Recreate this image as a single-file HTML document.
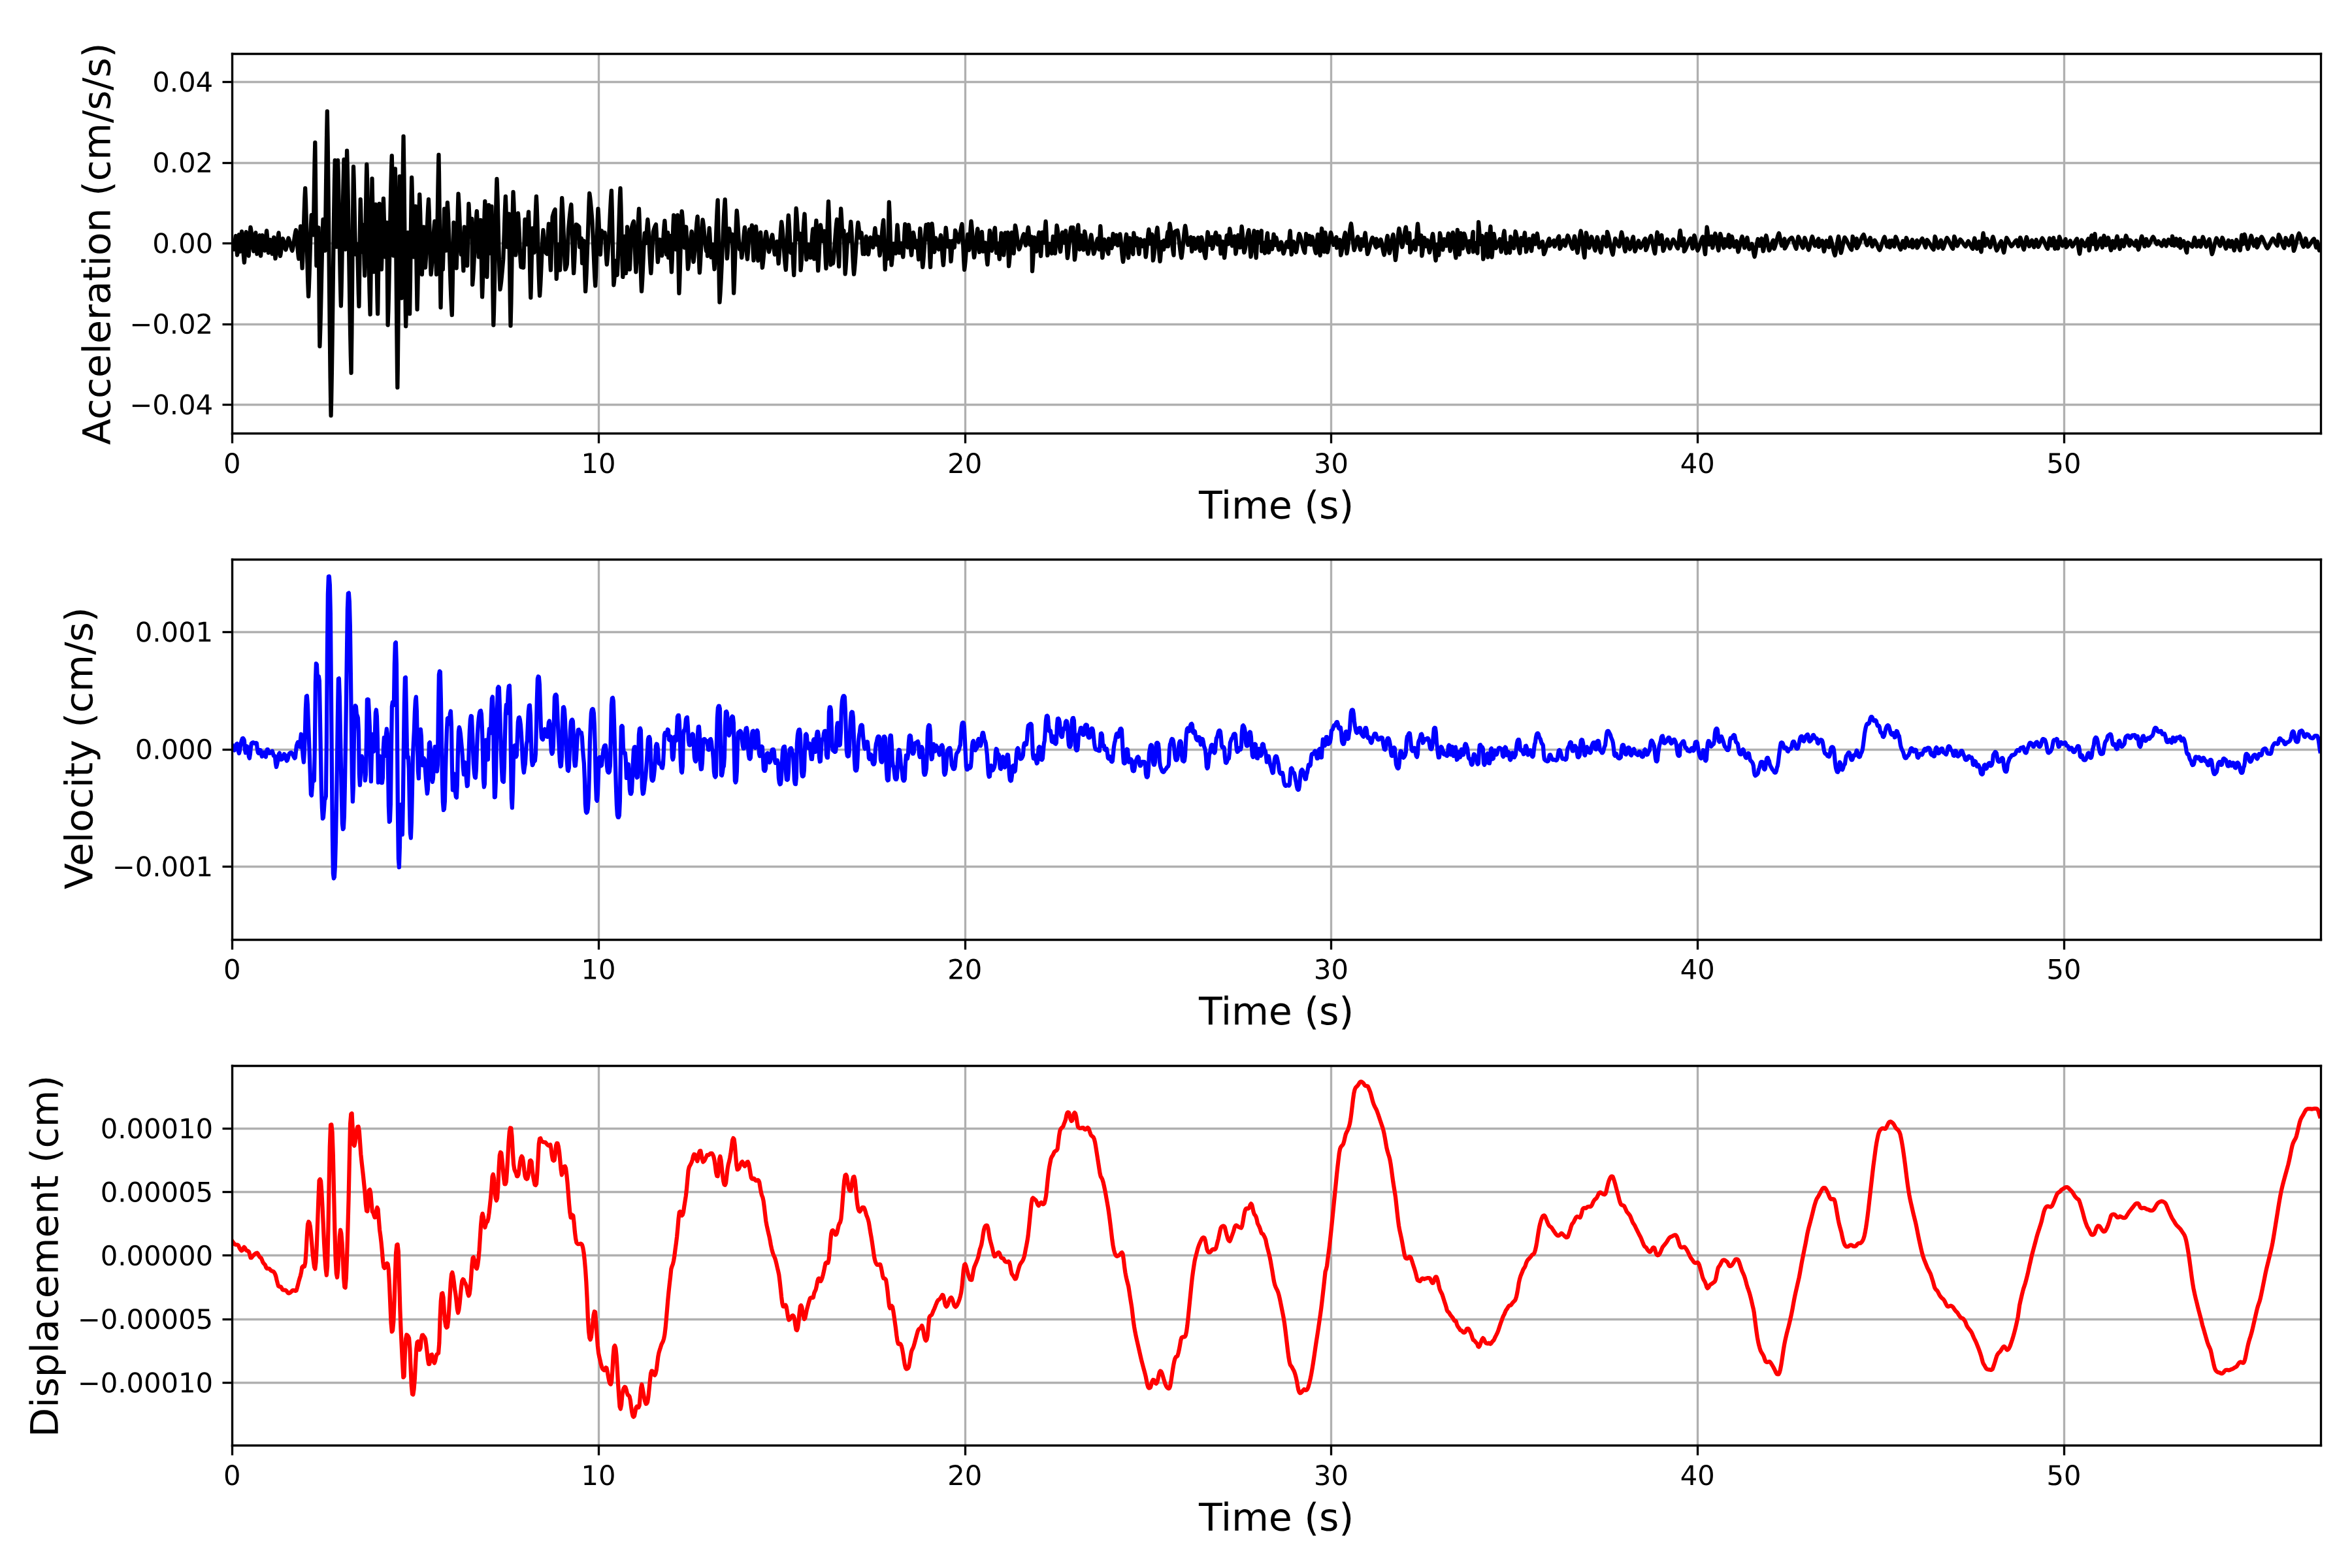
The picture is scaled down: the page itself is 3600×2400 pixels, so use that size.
<!DOCTYPE html>
<html lang="en"><head><meta charset="utf-8"><title>Ground motion time histories</title>
<style>html,body{margin:0;padding:0;background:#fff;}body{width:3600px;height:2400px;overflow:hidden;font-family:"Liberation Sans",sans-serif;}svg{display:block;}svg text.lbl{font-family:"Liberation Sans",sans-serif;fill:#000;fill-opacity:0;stroke:none;}</style></head>
<body>
<svg xmlns="http://www.w3.org/2000/svg" xmlns:xlink="http://www.w3.org/1999/xlink" width="3600" height="2400" viewBox="0 0 864 576" role="img" aria-label="Acceleration, velocity and displacement time histories">
 
 <defs>
  <style type="text/css">*{stroke-linejoin: round; stroke-linecap: butt}</style>
 </defs>
 <g id="figure_1">
  <g id="patch_1">
   <path d="M 0 576 
L 864 576 
L 864 0 
L 0 0 
z
" style="fill: #ffffff"/>
  </g>
  <g id="axes_1">
   <g id="patch_2">
    <path d="M 85.26 159.156 
L 852.48 159.156 
L 852.48 19.572 
L 85.26 19.572 
z
" style="fill: #ffffff"/>
   </g>
   <g id="matplotlib.axis_1">
    <g id="xtick_1">
     <g id="line2d_1">
      <path d="M 85.32000 159.24000 L 85.32000 19.80000" clip-path="url(#p0c01dea0d3)" style="fill: none; stroke: #b0b0b0; stroke-width: 0.8; stroke-linecap: square"/>
     </g>
     <g id="line2d_2">
      <defs>
       <path id="m1504cfccaf" d="M 0 0 
L 0 3.6" style="stroke: #000000; stroke-width: 0.8"/>
      </defs>
      <g>
       <use xlink:href="#m1504cfccaf" x="85.32000" y="159.24000" style="stroke: #000000; stroke-width: 0.8"/>
      </g>
     </g>
     <g id="text_1">
      <text class="lbl" transform="translate(82.0787 173.7544)" font-size="10" textLength="5.039" lengthAdjust="spacingAndGlyphs">0</text>
      <g aria-hidden="true" transform="translate(82.0787 173.7544) scale(0.1 -0.1)">
       <defs>
        <path id="DejaVuSans-30" d="M 2034 4250 
Q 1547 4250 1301 3770 
Q 1056 3291 1056 2328 
Q 1056 1369 1301 889 
Q 1547 409 2034 409 
Q 2525 409 2770 889 
Q 3016 1369 3016 2328 
Q 3016 3291 2770 3770 
Q 2525 4250 2034 4250 
z
M 2034 4750 
Q 2819 4750 3233 4129 
Q 3647 3509 3647 2328 
Q 3647 1150 3233 529 
Q 2819 -91 2034 -91 
Q 1250 -91 836 529 
Q 422 1150 422 2328 
Q 422 3509 836 4129 
Q 1250 4750 2034 4750 
z
" transform="scale(0.015625)"/>
       </defs>
       <use xlink:href="#DejaVuSans-30"/>
      </g>
     </g>
    </g>
    <g id="xtick_2">
     <g id="line2d_3">
      <path d="M 219.96000 159.24000 L 219.96000 19.80000" clip-path="url(#p0c01dea0d3)" style="fill: none; stroke: #b0b0b0; stroke-width: 0.8; stroke-linecap: square"/>
     </g>
     <g id="line2d_4">
      <g>
       <use xlink:href="#m1504cfccaf" x="219.96000" y="159.24000" style="stroke: #000000; stroke-width: 0.8"/>
      </g>
     </g>
     <g id="text_2">
      <text class="lbl" transform="translate(213.4739 173.7544)" font-size="10" textLength="10.962" lengthAdjust="spacingAndGlyphs">10</text>
      <g aria-hidden="true" transform="translate(213.4739 173.7544) scale(0.1 -0.1)">
       <defs>
        <path id="DejaVuSans-31" d="M 794 531 
L 1825 531 
L 1825 4091 
L 703 3866 
L 703 4441 
L 1819 4666 
L 2450 4666 
L 2450 531 
L 3481 531 
L 3481 0 
L 794 0 
L 794 531 
z
" transform="scale(0.015625)"/>
       </defs>
       <use xlink:href="#DejaVuSans-31"/>
       <use xlink:href="#DejaVuSans-30" transform="translate(63.623047 0)"/>
      </g>
     </g>
    </g>
    <g id="xtick_3">
     <g id="line2d_5">
      <path d="M 354.60000 159.24000 L 354.60000 19.80000" clip-path="url(#p0c01dea0d3)" style="fill: none; stroke: #b0b0b0; stroke-width: 0.8; stroke-linecap: square"/>
     </g>
     <g id="line2d_6">
      <g>
       <use xlink:href="#m1504cfccaf" x="354.60000" y="159.24000" style="stroke: #000000; stroke-width: 0.8"/>
      </g>
     </g>
     <g id="text_3">
      <text class="lbl" transform="translate(348.0503 173.7544)" font-size="10" textLength="11.328" lengthAdjust="spacingAndGlyphs">20</text>
      <g aria-hidden="true" transform="translate(348.0503 173.7544) scale(0.1 -0.1)">
       <defs>
        <path id="DejaVuSans-32" d="M 1228 531 
L 3431 531 
L 3431 0 
L 469 0 
L 469 531 
Q 828 903 1448 1529 
Q 2069 2156 2228 2338 
Q 2531 2678 2651 2914 
Q 2772 3150 2772 3378 
Q 2772 3750 2511 3984 
Q 2250 4219 1831 4219 
Q 1534 4219 1204 4116 
Q 875 4013 500 3803 
L 500 4441 
Q 881 4594 1212 4672 
Q 1544 4750 1819 4750 
Q 2544 4750 2975 4387 
Q 3406 4025 3406 3419 
Q 3406 3131 3298 2873 
Q 3191 2616 2906 2266 
Q 2828 2175 2409 1742 
Q 1991 1309 1228 531 
z
" transform="scale(0.015625)"/>
       </defs>
       <use xlink:href="#DejaVuSans-32"/>
       <use xlink:href="#DejaVuSans-30" transform="translate(63.623047 0)"/>
      </g>
     </g>
    </g>
    <g id="xtick_4">
     <g id="line2d_7">
      <path d="M 489.00000 159.24000 L 489.00000 19.80000" clip-path="url(#p0c01dea0d3)" style="fill: none; stroke: #b0b0b0; stroke-width: 0.8; stroke-linecap: square"/>
     </g>
     <g id="line2d_8">
      <g>
       <use xlink:href="#m1504cfccaf" x="489.00000" y="159.24000" style="stroke: #000000; stroke-width: 0.8"/>
      </g>
     </g>
     <g id="text_4">
      <text class="lbl" transform="translate(482.6267 173.7544)" font-size="10" textLength="11.298" lengthAdjust="spacingAndGlyphs">30</text>
      <g aria-hidden="true" transform="translate(482.6267 173.7544) scale(0.1 -0.1)">
       <defs>
        <path id="DejaVuSans-33" d="M 2597 2516 
Q 3050 2419 3304 2112 
Q 3559 1806 3559 1356 
Q 3559 666 3084 287 
Q 2609 -91 1734 -91 
Q 1441 -91 1130 -33 
Q 819 25 488 141 
L 488 750 
Q 750 597 1062 519 
Q 1375 441 1716 441 
Q 2309 441 2620 675 
Q 2931 909 2931 1356 
Q 2931 1769 2642 2001 
Q 2353 2234 1838 2234 
L 1294 2234 
L 1294 2753 
L 1863 2753 
Q 2328 2753 2575 2939 
Q 2822 3125 2822 3475 
Q 2822 3834 2567 4026 
Q 2313 4219 1838 4219 
Q 1578 4219 1281 4162 
Q 984 4106 628 3988 
L 628 4550 
Q 988 4650 1302 4700 
Q 1616 4750 1894 4750 
Q 2613 4750 3031 4423 
Q 3450 4097 3450 3541 
Q 3450 3153 3228 2886 
Q 3006 2619 2597 2516 
z
" transform="scale(0.015625)"/>
       </defs>
       <use xlink:href="#DejaVuSans-33"/>
       <use xlink:href="#DejaVuSans-30" transform="translate(63.623047 0)"/>
      </g>
     </g>
    </g>
    <g id="xtick_5">
     <g id="line2d_9">
      <path d="M 623.64000 159.24000 L 623.64000 19.80000" clip-path="url(#p0c01dea0d3)" style="fill: none; stroke: #b0b0b0; stroke-width: 0.8; stroke-linecap: square"/>
     </g>
     <g id="line2d_10">
      <g>
       <use xlink:href="#m1504cfccaf" x="623.64000" y="159.24000" style="stroke: #000000; stroke-width: 0.8"/>
      </g>
     </g>
     <g id="text_5">
      <text class="lbl" transform="translate(617.2031 173.7544)" font-size="10" textLength="11.572" lengthAdjust="spacingAndGlyphs">40</text>
      <g aria-hidden="true" transform="translate(617.2031 173.7544) scale(0.1 -0.1)">
       <defs>
        <path id="DejaVuSans-34" d="M 2419 4116 
L 825 1625 
L 2419 1625 
L 2419 4116 
z
M 2253 4666 
L 3047 4666 
L 3047 1625 
L 3713 1625 
L 3713 1100 
L 3047 1100 
L 3047 0 
L 2419 0 
L 2419 1100 
L 313 1100 
L 313 1709 
L 2253 4666 
z
" transform="scale(0.015625)"/>
       </defs>
       <use xlink:href="#DejaVuSans-34"/>
       <use xlink:href="#DejaVuSans-30" transform="translate(63.623047 0)"/>
      </g>
     </g>
    </g>
    <g id="xtick_6">
     <g id="line2d_11">
      <path d="M 758.28000 159.24000 L 758.28000 19.80000" clip-path="url(#p0c01dea0d3)" style="fill: none; stroke: #b0b0b0; stroke-width: 0.8; stroke-linecap: square"/>
     </g>
     <g id="line2d_12">
      <g>
       <use xlink:href="#m1504cfccaf" x="758.28000" y="159.24000" style="stroke: #000000; stroke-width: 0.8"/>
      </g>
     </g>
     <g id="text_6">
      <text class="lbl" transform="translate(751.7795 173.7544)" font-size="10" textLength="11.289" lengthAdjust="spacingAndGlyphs">50</text>
      <g aria-hidden="true" transform="translate(751.7795 173.7544) scale(0.1 -0.1)">
       <defs>
        <path id="DejaVuSans-35" d="M 691 4666 
L 3169 4666 
L 3169 4134 
L 1269 4134 
L 1269 2991 
Q 1406 3038 1543 3061 
Q 1681 3084 1819 3084 
Q 2600 3084 3056 2656 
Q 3513 2228 3513 1497 
Q 3513 744 3044 326 
Q 2575 -91 1722 -91 
Q 1428 -91 1123 -41 
Q 819 9 494 109 
L 494 744 
Q 775 591 1075 516 
Q 1375 441 1709 441 
Q 2250 441 2565 725 
Q 2881 1009 2881 1497 
Q 2881 1984 2565 2268 
Q 2250 2553 1709 2553 
Q 1456 2553 1204 2497 
Q 953 2441 691 2322 
L 691 4666 
z
" transform="scale(0.015625)"/>
       </defs>
       <use xlink:href="#DejaVuSans-35"/>
       <use xlink:href="#DejaVuSans-30" transform="translate(63.623047 0)"/>
      </g>
     </g>
    </g>
    <g id="text_7">
     <text class="lbl" transform="translate(440.4095 190.4719)" font-size="14" textLength="55.762" lengthAdjust="spacingAndGlyphs">Time (s)</text>
     <g aria-hidden="true" transform="translate(440.4095 190.4719) scale(0.14 -0.14)">
      <defs>
       <path id="DejaVuSans-54" d="M -19 4666 
L 3928 4666 
L 3928 4134 
L 2272 4134 
L 2272 0 
L 1638 0 
L 1638 4134 
L -19 4134 
L -19 4666 
z
" transform="scale(0.015625)"/>
       <path id="DejaVuSans-69" d="M 603 3500 
L 1178 3500 
L 1178 0 
L 603 0 
L 603 3500 
z
M 603 4863 
L 1178 4863 
L 1178 4134 
L 603 4134 
L 603 4863 
z
" transform="scale(0.015625)"/>
       <path id="DejaVuSans-6d" d="M 3328 2828 
Q 3544 3216 3844 3400 
Q 4144 3584 4550 3584 
Q 5097 3584 5394 3201 
Q 5691 2819 5691 2113 
L 5691 0 
L 5113 0 
L 5113 2094 
Q 5113 2597 4934 2840 
Q 4756 3084 4391 3084 
Q 3944 3084 3684 2787 
Q 3425 2491 3425 1978 
L 3425 0 
L 2847 0 
L 2847 2094 
Q 2847 2600 2669 2842 
Q 2491 3084 2119 3084 
Q 1678 3084 1418 2786 
Q 1159 2488 1159 1978 
L 1159 0 
L 581 0 
L 581 3500 
L 1159 3500 
L 1159 2956 
Q 1356 3278 1631 3431 
Q 1906 3584 2284 3584 
Q 2666 3584 2933 3390 
Q 3200 3197 3328 2828 
z
" transform="scale(0.015625)"/>
       <path id="DejaVuSans-65" d="M 3597 1894 
L 3597 1613 
L 953 1613 
Q 991 1019 1311 708 
Q 1631 397 2203 397 
Q 2534 397 2845 478 
Q 3156 559 3463 722 
L 3463 178 
Q 3153 47 2828 -22 
Q 2503 -91 2169 -91 
Q 1331 -91 842 396 
Q 353 884 353 1716 
Q 353 2575 817 3079 
Q 1281 3584 2069 3584 
Q 2775 3584 3186 3129 
Q 3597 2675 3597 1894 
z
M 3022 2063 
Q 3016 2534 2758 2815 
Q 2500 3097 2075 3097 
Q 1594 3097 1305 2825 
Q 1016 2553 972 2059 
L 3022 2063 
z
" transform="scale(0.015625)"/>
       <path id="DejaVuSans-20" transform="scale(0.015625)"/>
       <path id="DejaVuSans-28" d="M 1984 4856 
Q 1566 4138 1362 3434 
Q 1159 2731 1159 2009 
Q 1159 1288 1364 580 
Q 1569 -128 1984 -844 
L 1484 -844 
Q 1016 -109 783 600 
Q 550 1309 550 2009 
Q 550 2706 781 3412 
Q 1013 4119 1484 4856 
L 1984 4856 
z
" transform="scale(0.015625)"/>
       <path id="DejaVuSans-73" d="M 2834 3397 
L 2834 2853 
Q 2591 2978 2328 3040 
Q 2066 3103 1784 3103 
Q 1356 3103 1142 2972 
Q 928 2841 928 2578 
Q 928 2378 1081 2264 
Q 1234 2150 1697 2047 
L 1894 2003 
Q 2506 1872 2764 1633 
Q 3022 1394 3022 966 
Q 3022 478 2636 193 
Q 2250 -91 1575 -91 
Q 1294 -91 989 -36 
Q 684 19 347 128 
L 347 722 
Q 666 556 975 473 
Q 1284 391 1588 391 
Q 1994 391 2212 530 
Q 2431 669 2431 922 
Q 2431 1156 2273 1281 
Q 2116 1406 1581 1522 
L 1381 1569 
Q 847 1681 609 1914 
Q 372 2147 372 2553 
Q 372 3047 722 3315 
Q 1072 3584 1716 3584 
Q 2034 3584 2315 3537 
Q 2597 3491 2834 3397 
z
" transform="scale(0.015625)"/>
       <path id="DejaVuSans-29" d="M 513 4856 
L 1013 4856 
Q 1481 4119 1714 3412 
Q 1947 2706 1947 2009 
Q 1947 1309 1714 600 
Q 1481 -109 1013 -844 
L 513 -844 
Q 928 -128 1133 580 
Q 1338 1288 1338 2009 
Q 1338 2731 1133 3434 
Q 928 4138 513 4856 
z
" transform="scale(0.015625)"/>
      </defs>
      <use xlink:href="#DejaVuSans-54"/>
      <use xlink:href="#DejaVuSans-69" transform="translate(57.958984 0)"/>
      <use xlink:href="#DejaVuSans-6d" transform="translate(85.742188 0)"/>
      <use xlink:href="#DejaVuSans-65" transform="translate(183.154297 0)"/>
      <use xlink:href="#DejaVuSans-20" transform="translate(244.677734 0)"/>
      <use xlink:href="#DejaVuSans-28" transform="translate(276.464844 0)"/>
      <use xlink:href="#DejaVuSans-73" transform="translate(315.478516 0)"/>
      <use xlink:href="#DejaVuSans-29" transform="translate(367.578125 0)"/>
     </g>
    </g>
   </g>
   <g id="matplotlib.axis_2">
    <g id="ytick_1">
     <g id="line2d_13">
      <path d="M 85.32000 148.68000 L 852.60000 148.68000" clip-path="url(#p0c01dea0d3)" style="fill: none; stroke: #b0b0b0; stroke-width: 0.8; stroke-linecap: square"/>
     </g>
     <g id="line2d_14">
      <defs>
       <path id="m5d545ce8f8" d="M 0 0 
L -3.6 0" style="stroke: #000000; stroke-width: 0.8"/>
      </defs>
      <g>
       <use xlink:href="#m5d545ce8f8" x="85.32000" y="148.68000" style="stroke: #000000; stroke-width: 0.8"/>
      </g>
     </g>
     <g id="text_8">
      <text class="lbl" transform="translate(47.6147 152.2032)" font-size="10" textLength="29.024" lengthAdjust="spacingAndGlyphs">−0.04</text>
      <g aria-hidden="true" transform="translate(47.6147 152.2032) scale(0.1 -0.1)">
       <defs>
        <path id="DejaVuSans-2212" d="M 678 2272 
L 4684 2272 
L 4684 1741 
L 678 1741 
L 678 2272 
z
" transform="scale(0.015625)"/>
        <path id="DejaVuSans-2e" d="M 684 794 
L 1344 794 
L 1344 0 
L 684 0 
L 684 794 
z
" transform="scale(0.015625)"/>
       </defs>
       <use xlink:href="#DejaVuSans-2212"/>
       <use xlink:href="#DejaVuSans-30" transform="translate(83.789062 0)"/>
       <use xlink:href="#DejaVuSans-2e" transform="translate(147.412109 0)"/>
       <use xlink:href="#DejaVuSans-30" transform="translate(179.199219 0)"/>
       <use xlink:href="#DejaVuSans-34" transform="translate(242.822266 0)"/>
      </g>
     </g>
    </g>
    <g id="ytick_2">
     <g id="line2d_15">
      <path d="M 85.32000 119.16000 L 852.60000 119.16000" clip-path="url(#p0c01dea0d3)" style="fill: none; stroke: #b0b0b0; stroke-width: 0.8; stroke-linecap: square"/>
     </g>
     <g id="line2d_16">
      <g>
       <use xlink:href="#m5d545ce8f8" x="85.32000" y="119.16000" style="stroke: #000000; stroke-width: 0.8"/>
      </g>
     </g>
     <g id="text_9">
      <text class="lbl" transform="translate(47.6147 122.5632)" font-size="10" textLength="28.584" lengthAdjust="spacingAndGlyphs">−0.02</text>
      <g aria-hidden="true" transform="translate(47.6147 122.5632) scale(0.1 -0.1)">
       <use xlink:href="#DejaVuSans-2212"/>
       <use xlink:href="#DejaVuSans-30" transform="translate(83.789062 0)"/>
       <use xlink:href="#DejaVuSans-2e" transform="translate(147.412109 0)"/>
       <use xlink:href="#DejaVuSans-30" transform="translate(179.199219 0)"/>
       <use xlink:href="#DejaVuSans-32" transform="translate(242.822266 0)"/>
      </g>
     </g>
    </g>
    <g id="ytick_3">
     <g id="line2d_17">
      <path d="M 85.32000 89.40000 L 852.60000 89.40000" clip-path="url(#p0c01dea0d3)" style="fill: none; stroke: #b0b0b0; stroke-width: 0.8; stroke-linecap: square"/>
     </g>
     <g id="line2d_18">
      <g>
       <use xlink:href="#m5d545ce8f8" x="85.32000" y="89.40000" style="stroke: #000000; stroke-width: 0.8"/>
      </g>
     </g>
     <g id="text_10">
      <text class="lbl" transform="translate(55.9944 92.9232)" font-size="10" textLength="20.942" lengthAdjust="spacingAndGlyphs">0.00</text>
      <g aria-hidden="true" transform="translate(55.9944 92.9232) scale(0.1 -0.1)">
       <use xlink:href="#DejaVuSans-30"/>
       <use xlink:href="#DejaVuSans-2e" transform="translate(63.623047 0)"/>
       <use xlink:href="#DejaVuSans-30" transform="translate(95.410156 0)"/>
       <use xlink:href="#DejaVuSans-30" transform="translate(159.033203 0)"/>
      </g>
     </g>
    </g>
    <g id="ytick_4">
     <g id="line2d_19">
      <path d="M 85.32000 59.88000 L 852.60000 59.88000" clip-path="url(#p0c01dea0d3)" style="fill: none; stroke: #b0b0b0; stroke-width: 0.8; stroke-linecap: square"/>
     </g>
     <g id="line2d_20">
      <g>
       <use xlink:href="#m5d545ce8f8" x="85.32000" y="59.88000" style="stroke: #000000; stroke-width: 0.8"/>
      </g>
     </g>
     <g id="text_11">
      <text class="lbl" transform="translate(55.9944 63.2832)" font-size="10" textLength="20.605" lengthAdjust="spacingAndGlyphs">0.02</text>
      <g aria-hidden="true" transform="translate(55.9944 63.2832) scale(0.1 -0.1)">
       <use xlink:href="#DejaVuSans-30"/>
       <use xlink:href="#DejaVuSans-2e" transform="translate(63.623047 0)"/>
       <use xlink:href="#DejaVuSans-30" transform="translate(95.410156 0)"/>
       <use xlink:href="#DejaVuSans-32" transform="translate(159.033203 0)"/>
      </g>
     </g>
    </g>
    <g id="ytick_5">
     <g id="line2d_21">
      <path d="M 85.32000 30.12000 L 852.60000 30.12000" clip-path="url(#p0c01dea0d3)" style="fill: none; stroke: #b0b0b0; stroke-width: 0.8; stroke-linecap: square"/>
     </g>
     <g id="line2d_22">
      <g>
       <use xlink:href="#m5d545ce8f8" x="85.32000" y="30.12000" style="stroke: #000000; stroke-width: 0.8"/>
      </g>
     </g>
     <g id="text_12">
      <text class="lbl" transform="translate(55.9944 33.6432)" font-size="10" textLength="21.046" lengthAdjust="spacingAndGlyphs">0.04</text>
      <g aria-hidden="true" transform="translate(55.9944 33.6432) scale(0.1 -0.1)">
       <use xlink:href="#DejaVuSans-30"/>
       <use xlink:href="#DejaVuSans-2e" transform="translate(63.623047 0)"/>
       <use xlink:href="#DejaVuSans-30" transform="translate(95.410156 0)"/>
       <use xlink:href="#DejaVuSans-34" transform="translate(159.033203 0)"/>
      </g>
     </g>
    </g>
    <g id="text_13">
     <text class="lbl" transform="translate(40.4631 163.4420) rotate(-90)" font-size="14" textLength="146.413" lengthAdjust="spacingAndGlyphs">Acceleration (cm/s/s)</text>
     <g aria-hidden="true" transform="translate(40.4631 163.4420) rotate(-90) scale(0.14 -0.14)">
      <defs>
       <path id="DejaVuSans-41" d="M 2188 4044 
L 1331 1722 
L 3047 1722 
L 2188 4044 
z
M 1831 4666 
L 2547 4666 
L 4325 0 
L 3669 0 
L 3244 1197 
L 1141 1197 
L 716 0 
L 50 0 
L 1831 4666 
z
" transform="scale(0.015625)"/>
       <path id="DejaVuSans-63" d="M 3122 3366 
L 3122 2828 
Q 2878 2963 2633 3030 
Q 2388 3097 2138 3097 
Q 1578 3097 1268 2742 
Q 959 2388 959 1747 
Q 959 1106 1268 751 
Q 1578 397 2138 397 
Q 2388 397 2633 464 
Q 2878 531 3122 666 
L 3122 134 
Q 2881 22 2623 -34 
Q 2366 -91 2075 -91 
Q 1284 -91 818 406 
Q 353 903 353 1747 
Q 353 2603 823 3093 
Q 1294 3584 2113 3584 
Q 2378 3584 2631 3529 
Q 2884 3475 3122 3366 
z
" transform="scale(0.015625)"/>
       <path id="DejaVuSans-6c" d="M 603 4863 
L 1178 4863 
L 1178 0 
L 603 0 
L 603 4863 
z
" transform="scale(0.015625)"/>
       <path id="DejaVuSans-72" d="M 2631 2963 
Q 2534 3019 2420 3045 
Q 2306 3072 2169 3072 
Q 1681 3072 1420 2755 
Q 1159 2438 1159 1844 
L 1159 0 
L 581 0 
L 581 3500 
L 1159 3500 
L 1159 2956 
Q 1341 3275 1631 3429 
Q 1922 3584 2338 3584 
Q 2397 3584 2469 3576 
Q 2541 3569 2628 3553 
L 2631 2963 
z
" transform="scale(0.015625)"/>
       <path id="DejaVuSans-61" d="M 2194 1759 
Q 1497 1759 1228 1600 
Q 959 1441 959 1056 
Q 959 750 1161 570 
Q 1363 391 1709 391 
Q 2188 391 2477 730 
Q 2766 1069 2766 1631 
L 2766 1759 
L 2194 1759 
z
M 3341 1997 
L 3341 0 
L 2766 0 
L 2766 531 
Q 2569 213 2275 61 
Q 1981 -91 1556 -91 
Q 1019 -91 701 211 
Q 384 513 384 1019 
Q 384 1609 779 1909 
Q 1175 2209 1959 2209 
L 2766 2209 
L 2766 2266 
Q 2766 2663 2505 2880 
Q 2244 3097 1772 3097 
Q 1472 3097 1187 3025 
Q 903 2953 641 2809 
L 641 3341 
Q 956 3463 1253 3523 
Q 1550 3584 1831 3584 
Q 2591 3584 2966 3190 
Q 3341 2797 3341 1997 
z
" transform="scale(0.015625)"/>
       <path id="DejaVuSans-74" d="M 1172 4494 
L 1172 3500 
L 2356 3500 
L 2356 3053 
L 1172 3053 
L 1172 1153 
Q 1172 725 1289 603 
Q 1406 481 1766 481 
L 2356 481 
L 2356 0 
L 1766 0 
Q 1100 0 847 248 
Q 594 497 594 1153 
L 594 3053 
L 172 3053 
L 172 3500 
L 594 3500 
L 594 4494 
L 1172 4494 
z
" transform="scale(0.015625)"/>
       <path id="DejaVuSans-6f" d="M 1959 3097 
Q 1497 3097 1228 2736 
Q 959 2375 959 1747 
Q 959 1119 1226 758 
Q 1494 397 1959 397 
Q 2419 397 2687 759 
Q 2956 1122 2956 1747 
Q 2956 2369 2687 2733 
Q 2419 3097 1959 3097 
z
M 1959 3584 
Q 2709 3584 3137 3096 
Q 3566 2609 3566 1747 
Q 3566 888 3137 398 
Q 2709 -91 1959 -91 
Q 1206 -91 779 398 
Q 353 888 353 1747 
Q 353 2609 779 3096 
Q 1206 3584 1959 3584 
z
" transform="scale(0.015625)"/>
       <path id="DejaVuSans-6e" d="M 3513 2113 
L 3513 0 
L 2938 0 
L 2938 2094 
Q 2938 2591 2744 2837 
Q 2550 3084 2163 3084 
Q 1697 3084 1428 2787 
Q 1159 2491 1159 1978 
L 1159 0 
L 581 0 
L 581 3500 
L 1159 3500 
L 1159 2956 
Q 1366 3272 1645 3428 
Q 1925 3584 2291 3584 
Q 2894 3584 3203 3211 
Q 3513 2838 3513 2113 
z
" transform="scale(0.015625)"/>
       <path id="DejaVuSans-2f" d="M 1625 4666 
L 2156 4666 
L 531 -594 
L 0 -594 
L 1625 4666 
z
" transform="scale(0.015625)"/>
      </defs>
      <use xlink:href="#DejaVuSans-41"/>
      <use xlink:href="#DejaVuSans-63" transform="translate(66.658203 0)"/>
      <use xlink:href="#DejaVuSans-63" transform="translate(121.638672 0)"/>
      <use xlink:href="#DejaVuSans-65" transform="translate(176.619141 0)"/>
      <use xlink:href="#DejaVuSans-6c" transform="translate(238.142578 0)"/>
      <use xlink:href="#DejaVuSans-65" transform="translate(265.925781 0)"/>
      <use xlink:href="#DejaVuSans-72" transform="translate(327.449219 0)"/>
      <use xlink:href="#DejaVuSans-61" transform="translate(368.5625 0)"/>
      <use xlink:href="#DejaVuSans-74" transform="translate(429.841797 0)"/>
      <use xlink:href="#DejaVuSans-69" transform="translate(469.050781 0)"/>
      <use xlink:href="#DejaVuSans-6f" transform="translate(496.833984 0)"/>
      <use xlink:href="#DejaVuSans-6e" transform="translate(558.015625 0)"/>
      <use xlink:href="#DejaVuSans-20" transform="translate(621.394531 0)"/>
      <use xlink:href="#DejaVuSans-28" transform="translate(653.181641 0)"/>
      <use xlink:href="#DejaVuSans-63" transform="translate(692.195312 0)"/>
      <use xlink:href="#DejaVuSans-6d" transform="translate(747.175781 0)"/>
      <use xlink:href="#DejaVuSans-2f" transform="translate(844.587891 0)"/>
      <use xlink:href="#DejaVuSans-73" transform="translate(878.279297 0)"/>
      <use xlink:href="#DejaVuSans-2f" transform="translate(930.378906 0)"/>
      <use xlink:href="#DejaVuSans-73" transform="translate(964.070312 0)"/>
      <use xlink:href="#DejaVuSans-29" transform="translate(1016.169922 0)"/>
     </g>
    </g>
   </g>
   <g id="line2d_23">
    <path d="M 85.44 89.28 
L 85.632 90.421047 
L 85.824 91.177525 
L 85.989796 91.606531 
L 86.016 91.487903 
L 86.208 90.012329 
L 86.4 88.119138 
L 86.592 86.72034 
L 86.602041 86.677959 
L 86.784 88.802266 
L 86.976 91.852801 
L 87.137755 93.672857 
L 87.168 93.48827 
L 87.36 91.556569 
L 87.552 89.008581 
L 87.744 86.813066 
L 87.826531 86.218776 
L 87.936 88.242692 
L 88.128 92.398885 
L 88.132653 92.448367 
L 88.32 90.774753 
L 88.512 88.292492 
L 88.704 85.984811 
L 88.821429 85.070816 
L 88.896 85.63816 
L 89.088 87.876702 
L 89.28 90.739923 
L 89.472 93.605131 
L 89.664 95.84963 
L 89.739796 96.427959 
L 89.856 95.058276 
L 90.048 91.560029 
L 90.24 87.787366 
L 90.428571 85.223878 
L 90.432 85.240403 
L 90.624 86.66575 
L 90.816 88.750523 
L 91.008 91.014695 
L 91.2 92.978236 
L 91.346939 93.97898 
L 91.392 93.570447 
L 91.584 90.72969 
L 91.776 87.12501 
L 91.968 84.123015 
L 92.035714 83.463673 
L 92.16 84.085833 
L 92.352 85.501236 
L 92.544 87.249389 
L 92.736 89.08237 
L 92.928 90.752257 
L 93.12 92.011126 
L 93.183673 92.295306 
L 93.312 91.421144 
L 93.504 89.419941 
L 93.696 87.239309 
L 93.888 85.611918 
L 93.918367 85.453469 
L 94.08 87.745032 
L 94.272 91.460789 
L 94.408163 93.290204 
L 94.464 93.067095 
L 94.656 91.906938 
L 94.848 90.363201 
L 95.04 88.73093 
L 95.232 87.305174 
L 95.403061 86.448367 
L 95.424 86.686994 
L 95.616 90.743978 
L 95.785714 93.97898 
L 95.808 93.818549 
L 96 91.435106 
L 96.192 88.403816 
L 96.367347 86.448367 
L 96.384 86.505009 
L 96.576 87.525183 
L 96.768 88.971134 
L 96.96 90.483638 
L 97.152 91.70347 
L 97.239796 92.065714 
L 97.344 91.32934 
L 97.536 89.215628 
L 97.728 86.826522 
L 97.92 84.994841 
L 97.959184 84.764694 
L 98.112 86.252458 
L 98.304 89.038799 
L 98.496 91.726674 
L 98.617347 92.83102 
L 98.688 92.516881 
L 98.88 91.149061 
L 99.072 89.517879 
L 99.264 88.241989 
L 99.306122 88.070816 
L 99.456 88.955614 
L 99.648 90.656733 
L 99.84 92.366721 
L 99.994898 93.290204 
L 100.032 93.073965 
L 100.224 91.195376 
L 100.416 88.865721 
L 100.607143 87.213673 
L 100.608 87.219911 
L 100.8 89.757034 
L 100.992 93.13147 
L 101.142857 94.973878 
L 101.184 94.799586 
L 101.376 93.626464 
L 101.568 92.022028 
L 101.76 90.20472 
L 101.952 88.392985 
L 102.144 86.805266 
L 102.336 85.660007 
L 102.367347 85.53 
L 102.528 87.503408 
L 102.72 90.915505 
L 102.912 93.734986 
L 102.94898 94.05551 
L 103.104 93.306534 
L 103.296 91.920383 
L 103.488 90.323665 
L 103.68 88.833545 
L 103.872 87.767189 
L 103.897959 87.672857 
L 104.064 88.121532 
L 104.256 88.887739 
L 104.448 89.784522 
L 104.64 90.670775 
L 104.832 91.405396 
L 104.969388 91.759592 
L 105.024 91.624242 
L 105.216 90.90509 
L 105.408 89.946064 
L 105.6 88.929668 
L 105.792 88.038405 
L 105.967324 87.488655 
L 105.984 87.517495 
L 106.176 87.97931 
L 106.368 88.627951 
L 106.56 89.388695 
L 106.752 90.186822 
L 106.944 90.947609 
L 107.136 91.596335 
L 107.328 92.058279 
L 107.344787 92.087316 
L 107.52 91.436592 
L 107.712 90.411815 
L 107.904 89.180704 
L 108.096 87.866476 
L 108.288 86.592345 
L 108.48 85.481527 
L 108.672 84.657238 
L 108.72225 84.504152 
L 108.864 85.52856 
L 109.056 87.599193 
L 109.248 90.058331 
L 109.44 92.470572 
L 109.632 94.400514 
L 109.73239 95.071819 
L 109.824 93.98849 
L 110.016 90.408204 
L 110.208 86.336582 
L 110.4 83.326353 
L 110.421121 83.126688 
L 110.592 86.860139 
L 110.784 92.878033 
L 110.976 97.864757 
L 111.018022 98.515477 
L 111.168 95.772705 
L 111.36 90.587021 
L 111.552 84.38591 
L 111.744 78.102173 
L 111.936 72.668611 
L 112.119992 69.122479 
L 112.128 69.258376 
L 112.32 73.935844 
L 112.512 80.66298 
L 112.704 88.448242 
L 112.896 96.300087 
L 113.088 103.226973 
L 113.28 108.237357 
L 113.313794 108.846451 
L 113.472 105.868958 
L 113.664 100.538643 
L 113.856 94.217638 
L 114.048 87.853314 
L 114.24 82.393046 
L 114.415764 78.994299 
L 114.432 79.08998 
L 114.624 80.9893 
L 114.816 83.572533 
L 115.008 85.786249 
L 115.081538 86.314634 
L 115.2 81.873076 
L 115.392 70.767158 
L 115.584 59.090598 
L 115.747312 52.363344 
L 115.776 53.858598 
L 115.968 71.426349 
L 116.16 91.467135 
L 116.252382 97.597169 
L 116.352 96.295689 
L 116.544 92.381007 
L 116.736 87.874595 
L 116.928 84.277168 
L 116.987029 83.585843 
L 117.12 94.331731 
L 117.312 116.337874 
L 117.446183 127.212627 
L 117.504 125.978378 
L 117.696 120.058589 
L 117.888 112.136506 
L 118.08 103.251039 
L 118.272 94.4411 
L 118.464 86.745601 
L 118.656 81.203454 
L 118.6859 80.601339 
L 118.848 82.757646 
L 119.04 86.547214 
L 119.232 90.261087 
L 119.374632 92.087316 
L 119.424 90.294928 
L 119.616 79.335317 
L 119.808 64.927798 
L 120 50.924095 
L 120.192 41.175931 
L 120.20111 40.884484 
L 120.384 51.002189 
L 120.576 66.268695 
L 120.768 84.504877 
L 120.96 103.893963 
L 121.152 122.619182 
L 121.344 138.863763 
L 121.536 150.810934 
L 121.578573 152.695695 
L 121.728 146.568579 
L 121.92 135.374473 
L 122.112 121.608058 
L 122.304 106.525333 
L 122.496 91.382296 
L 122.688 77.434943 
L 122.88 65.939272 
L 123.047867 58.883337 
L 123.072 59.669249 
L 123.264 70.55042 
L 123.456 83.929709 
L 123.598852 90.709853 
L 123.648 88.738623 
L 123.84 75.693159 
L 124.032 62.025539 
L 124.103922 58.883337 
L 124.224 62.498427 
L 124.416 71.012129 
L 124.608 81.574527 
L 124.8 92.683511 
L 124.992 102.836974 
L 125.184 110.532808 
L 125.251808 112.38194 
L 125.376 108.400847 
L 125.568 99.285414 
L 125.76 88.081295 
L 125.952 76.496495 
L 126.144 66.239017 
L 126.336 59.016863 
L 126.353778 58.561928 
L 126.528 68.809472 
L 126.72 84.021579 
L 126.858848 91.628161 
L 126.912 89.606955 
L 127.104 77.511616 
L 127.296 63.405174 
L 127.455749 55.347848 
L 127.488 56.242738 
L 127.68 63.496907 
L 127.872 73.391582 
L 128.064 85.015444 
L 128.256 97.457173 
L 128.448 109.805453 
L 128.64 121.148962 
L 128.832 130.576384 
L 129.016874 136.992615 
L 129.024 136.657572 
L 129.216 122.32749 
L 129.408 101.641373 
L 129.6 80.298826 
L 129.792 63.999453 
L 129.843352 61.225024 
L 129.984 65.511154 
L 130.176 74.382339 
L 130.368 84.117684 
L 130.56 91.838307 
L 130.623914 93.464779 
L 130.752 92.861294 
L 130.944 91.48362 
L 131.136 90.14185 
L 131.243773 89.658351 
L 131.328 91.78737 
L 131.52 99.538969 
L 131.712 108.006105 
L 131.863631 112.519686 
L 131.904 110.780567 
L 132.096 96.709861 
L 132.288 80.400154 
L 132.414616 73.254869 
L 132.48 74.774757 
L 132.672 82.108791 
L 132.864 89.904778 
L 132.965602 92.54647 
L 133.056 91.074991 
L 133.248 86.201451 
L 133.424756 82.667534 
L 133.44 82.945839 
L 133.632 89.123979 
L 133.824 96.980954 
L 133.975741 101.270404 
L 134.016 99.973131 
L 134.208 89.973349 
L 134.4 76.894039 
L 134.592 65.112871 
L 134.710388 60.398546 
L 134.784 62.236784 
L 134.976 69.133172 
L 135.168 78.193156 
L 135.36 88.315451 
L 135.552 98.398767 
L 135.744 107.341817 
L 135.936 114.043315 
L 135.996021 115.50419 
L 136.128 108.32321 
L 136.32 92.391232 
L 136.512 75.770291 
L 136.684752 65.586991 
L 136.704 66.192466 
L 136.896 76.582139 
L 137.088 90.083144 
L 137.28 99.845046 
L 137.281653 99.892941 
L 137.472 94.147684 
L 137.664 85.786726 
L 137.856 78.063518 
L 137.970385 75.091487 
L 138.048 77.645749 
L 138.24 87.566699 
L 138.432 99.742711 
L 138.624 110.585593 
L 138.750947 115.274613 
L 138.816 112.404733 
L 139.008 98.55825 
L 139.2 82.971813 
L 139.347848 74.861909 
L 139.392 75.655235 
L 139.584 81.152325 
L 139.776 88.377882 
L 139.968 95.178737 
L 140.12841 98.974632 
L 140.16 98.344592 
L 140.352 92.127711 
L 140.544 83.8228 
L 140.736 76.219058 
L 140.863057 72.933461 
L 140.928 74.453558 
L 141.12 81.801019 
L 141.312 90.074445 
L 141.459958 94.383088 
L 141.504 93.865392 
L 141.696 90.133789 
L 141.888 85.504107 
L 142.08 81.99625 
L 142.102774 81.749225 
L 142.272 98.730461 
L 142.464 119.079049 
L 142.470098 119.407002 
L 142.656 114.102538 
L 142.848 106.289651 
L 143.04 96.9289 
L 143.232 86.853346 
L 143.424 76.896049 
L 143.616 67.89007 
L 143.808 60.668469 
L 143.939392 57.184465 
L 144 59.579418 
L 144.192 72.043853 
L 144.384 86.259923 
L 144.536292 93.923933 
L 144.576 92.762949 
L 144.768 83.445503 
L 144.96 71.743936 
L 145.152 62.76136 
L 145.179108 62.005586 
L 145.344 74.181691 
L 145.536 95.362236 
L 145.728 118.316845 
L 145.92 137.000516 
L 146.005586 142.364722 
L 146.112 135.604599 
L 146.304 116.831766 
L 146.496 94.567667 
L 146.688 74.650065 
L 146.832064 64.760513 
L 146.88 66.784882 
L 147.072 80.14542 
L 147.264 96.543597 
L 147.456 108.82083 
L 147.47488 109.535183 
L 147.648 98.35316 
L 147.84 80.024379 
L 148.032 61.622486 
L 148.209527 50.067572 
L 148.224 50.675028 
L 148.416 63.266579 
L 148.608 81.199711 
L 148.8 100.010011 
L 148.992 115.233063 
L 149.081921 119.866156 
L 149.184 116.290845 
L 149.376 105.774463 
L 149.568 94.085439 
L 149.76 85.701057 
L 149.770652 85.42246 
L 149.952 91.38649 
L 150.144 100.654505 
L 150.336 109.822199 
L 150.505299 115.274613 
L 150.528 114.431051 
L 150.72 102.796966 
L 150.912 86.901166 
L 151.104 72.1049 
L 151.239946 65.219667 
L 151.296 66.573968 
L 151.488 74.00782 
L 151.68 83.382054 
L 151.872 91.573055 
L 151.974593 94.383088 
L 152.064 92.746103 
L 152.256 87.19313 
L 152.448 80.847213 
L 152.64 76.126509 
L 152.663325 75.780218 
L 152.832 84.81665 
L 153.024 99.617987 
L 153.216 111.967418 
L 153.260226 113.667572 
L 153.408 108.476243 
L 153.6 98.322944 
L 153.792 86.812537 
L 153.984 76.647347 
L 154.132619 71.418251 
L 154.176 72.25446 
L 154.368 78.015811 
L 154.56 85.743501 
L 154.752 93.557512 
L 154.944 99.577828 
L 155.005012 100.811249 
L 155.136 98.093356 
L 155.328 92.030146 
L 155.52 85.989894 
L 155.647829 83.356266 
L 155.712 84.399073 
L 155.904 89.504541 
L 156.096 95.266489 
L 156.244729 98.2859 
L 156.288 97.784125 
L 156.48 94.552695 
L 156.672 90.14447 
L 156.864 85.184245 
L 157.056 80.296816 
L 157.248 76.106977 
L 157.438531 73.254869 
L 157.44 73.278191 
L 157.632 78.042768 
L 157.824 85.035563 
L 158.016 92.494031 
L 158.208 98.655627 
L 158.310924 100.811249 
L 158.4 100.062894 
L 158.592 97.766199 
L 158.784 94.796043 
L 158.976 91.469616 
L 159.168 88.104108 
L 159.36 85.016712 
L 159.552 82.524618 
L 159.688387 81.290071 
L 159.744 82.341026 
L 159.936 88.278906 
L 160.128 95.416362 
L 160.32 100.632345 
L 160.331203 100.811249 
L 160.512 93.309713 
L 160.704 81.520168 
L 160.896 69.034258 
L 161.088 59.157978 
L 161.157681 56.863057 
L 161.28 63.609163 
L 161.472 79.881083 
L 161.664 97.812275 
L 161.856 111.392333 
L 161.892328 112.978841 
L 162.048 105.171312 
L 162.24 93.620962 
L 162.28261 92.137784 
L 162.432 94.565422 
L 162.624 98.398911 
L 162.672891 98.974632 
L 162.816 94.217864 
L 163.008 84.851954 
L 163.2 77.242108 
L 163.223876 76.698527 
L 163.392 80.353141 
L 163.584 86.363468 
L 163.776 91.386718 
L 163.820777 92.087316 
L 163.968 88.16812 
L 164.16 80.715509 
L 164.352 74.753207 
L 164.371762 74.402755 
L 164.544 77.182476 
L 164.736 81.524622 
L 164.928 86.802419 
L 165.12 92.627226 
L 165.312 98.610403 
L 165.504 104.363311 
L 165.696 109.49731 
L 165.888 113.623761 
L 166.024718 115.733767 
L 166.08 113.917023 
L 166.272 103.588014 
L 166.464 91.161298 
L 166.656 82.070331 
L 166.667534 81.749225 
L 166.848 83.954008 
L 167.04 87.41909 
L 167.232 91.361262 
L 167.424 95.089735 
L 167.616 97.913717 
L 167.677674 98.515477 
L 167.808 94.647427 
L 168 85.944252 
L 168.192 76.833329 
L 168.366405 71.188674 
L 168.384 71.383416 
L 168.576 74.541279 
L 168.768 79.031285 
L 168.96 84.050215 
L 169.152 88.794848 
L 169.344 92.461965 
L 169.42246 93.464779 
L 169.536 92.589787 
L 169.728 90.474809 
L 169.835699 89.658351 
L 169.92 91.182677 
L 170.112 96.559644 
L 170.248938 99.433786 
L 170.304 97.429688 
L 170.496 86.307131 
L 170.570346 83.356266 
L 170.688 84.394988 
L 170.88 86.921669 
L 171.072 90.032375 
L 171.264 93.213616 
L 171.456 95.951902 
L 171.626401 97.597169 
L 171.648 97.100523 
L 171.84 89.389721 
L 172.032 79.818193 
L 172.177387 74.861909 
L 172.224 75.465132 
L 172.416 79.633938 
L 172.608 84.485738 
L 172.75133 86.934493 
L 172.8 86.589446 
L 172.992 84.311468 
L 173.184 81.678003 
L 173.325273 80.371762 
L 173.376 84.557382 
L 173.55485 104.576315 
L 173.568 104.462935 
L 173.76 102.244689 
L 173.952 99.163799 
L 174.144 95.497063 
L 174.336 91.52128 
L 174.528 87.513247 
L 174.72 83.749762 
L 174.912 80.507623 
L 175.104 78.063628 
L 175.16189 77.525005 
L 175.296 80.000628 
L 175.488 85.395796 
L 175.68 90.999324 
L 175.850622 94.383088 
L 175.872 94.153578 
L 176.064 90.735576 
L 176.256 86.115746 
L 176.448 82.055714 
L 176.539353 80.830916 
L 176.64 84.281353 
L 176.832 94.610212 
L 177.024 105.109559 
L 177.136254 109.076028 
L 177.216 107.388534 
L 177.408 101.27371 
L 177.6 93.408014 
L 177.792 85.218185 
L 177.984 78.130958 
L 178.150985 73.973216 
L 178.176 74.493364 
L 178.368 80.996118 
L 178.56 89.828121 
L 178.752 98.014059 
L 178.885632 101.752057 
L 178.944 100.246694 
L 179.136 92.162894 
L 179.328 82.517296 
L 179.52 75.530955 
L 179.528448 75.350679 
L 179.712 81.992222 
L 179.904 90.646385 
L 179.987603 93.028123 
L 180.096 90.71607 
L 180.288 84.348781 
L 180.48 78.016356 
L 180.584504 75.809834 
L 180.672 79.547098 
L 180.864 92.520624 
L 181.056 107.409842 
L 181.248 118.544696 
L 181.273235 119.429501 
L 181.44 114.488884 
L 181.632 106.209696 
L 181.824 96.302236 
L 182.016 85.963884 
L 182.208 76.392021 
L 182.4 68.784025 
L 182.512952 65.708437 
L 182.592 67.309222 
L 182.784 72.987974 
L 182.976 80.388122 
L 183.168 88.495379 
L 183.36 96.295459 
L 183.552 102.774075 
L 183.706753 106.343601 
L 183.744 106.156217 
L 183.936 104.935756 
L 184.128 103.345364 
L 184.32 101.462189 
L 184.512 99.363375 
L 184.704 97.126068 
L 184.854639 95.323895 
L 184.896 94.428058 
L 185.088 89.275435 
L 185.28 83.28534 
L 185.472 77.538751 
L 185.664 73.116647 
L 185.727033 72.136598 
L 185.856 75.260096 
L 186.048 82.310338 
L 186.24 88.925097 
L 186.323933 90.732351 
L 186.432 89.104871 
L 186.624 84.607373 
L 186.816 80.130329 
L 186.920834 78.56476 
L 187.008 82.381917 
L 187.2 95.747976 
L 187.392 110.559547 
L 187.56365 119.659078 
L 187.584 119.108282 
L 187.776 111.199761 
L 187.968 100.021271 
L 188.16 87.900173 
L 188.352 77.163823 
L 188.527874 70.529558 
L 188.544 70.743742 
L 188.736 74.673754 
L 188.928 80.266266 
L 189.12 86.24971 
L 189.312 91.352521 
L 189.446183 93.716855 
L 189.504 93.110293 
L 189.696 89.983744 
L 189.888 85.90216 
L 190.08 81.849374 
L 190.272 78.809218 
L 190.318577 78.335183 
L 190.464 80.200437 
L 190.656 83.851049 
L 190.848 88.207693 
L 191.04 92.567649 
L 191.232 96.228197 
L 191.374632 98.078822 
L 191.424 98.096616 
L 191.616 98.160255 
L 191.808 98.214711 
L 192 98.259543 
L 192.192 98.294308 
L 192.292941 98.308399 
L 192.384 96.20321 
L 192.576 89.16626 
L 192.768 82.306186 
L 192.843926 80.630955 
L 192.96 81.977196 
L 193.152 85.407535 
L 193.344 88.745958 
L 193.440826 89.814042 
L 193.536 88.766177 
L 193.728 85.457579 
L 193.92 81.615213 
L 194.112 78.517726 
L 194.175474 77.876028 
L 194.304 81.604165 
L 194.496 90.111131 
L 194.688 99.638457 
L 194.88 107.3776 
L 194.956036 109.328104 
L 195.072 105.935154 
L 195.264 97.252537 
L 195.456 88.284637 
L 195.598852 83.845035 
L 195.648 84.299699 
L 195.84 87.255291 
L 196.032 90.744481 
L 196.195753 92.798546 
L 196.224 92.410078 
L 196.416 88.235481 
L 196.608 82.498565 
L 196.8 76.75362 
L 196.992 72.554938 
L 197.022231 72.136598 
L 197.184 75.369415 
L 197.376 80.95537 
L 197.568 87.668885 
L 197.76 94.696353 
L 197.952 101.224172 
L 198.144 106.438736 
L 198.261948 108.639372 
L 198.336 107.829773 
L 198.528 104.810268 
L 198.72 100.845418 
L 198.912 96.416974 
L 199.104 92.006686 
L 199.296 88.096306 
L 199.488 85.167585 
L 199.54758 84.533767 
L 199.68 85.963124 
L 199.872 89.052639 
L 200.064 91.788818 
L 200.098565 92.109814 
L 200.256 92.411324 
L 200.448 92.728826 
L 200.64 92.987955 
L 200.832 93.185304 
L 200.925043 93.2577 
L 201.024 92.057976 
L 201.216 88.3992 
L 201.408 84.460999 
L 201.567859 82.237995 
L 201.6 82.656977 
L 201.792 86.719252 
L 201.984 92.138491 
L 202.176 97.095082 
L 202.302506 99.226707 
L 202.368 97.965954 
L 202.56 92.046702 
L 202.752 85.024927 
L 202.944 79.736481 
L 202.945322 79.712646 
L 203.136 78.960762 
L 203.328 78.30254 
L 203.52 77.747782 
L 203.712 77.300747 
L 203.904 76.965692 
L 203.909547 76.95772 
L 204.096 85.588688 
L 204.288 97.245824 
L 204.414616 102.440788 
L 204.48 101.615965 
L 204.672 97.686969 
L 204.864 93.084794 
L 205.056 89.828206 
L 205.057433 89.814042 
L 205.248 92.204898 
L 205.44 95.631703 
L 205.632 98.57914 
L 205.700249 99.226707 
L 205.824 95.994317 
L 206.016 88.295717 
L 206.208 79.834919 
L 206.4 73.449536 
L 206.434896 72.733499 
L 206.592 74.97686 
L 206.784 78.968941 
L 206.976 83.786521 
L 207.168 88.844213 
L 207.36 93.556631 
L 207.552 97.33839 
L 207.674613 98.99713 
L 207.744 98.875616 
L 207.936 98.397641 
L 208.128 97.742441 
L 208.271513 97.160513 
L 208.32 96.370096 
L 208.512 91.944687 
L 208.704 86.894945 
L 208.822499 84.30419 
L 208.896 83.468676 
L 209.088 81.326176 
L 209.28 79.316093 
L 209.472 77.532252 
L 209.664 76.068484 
L 209.832638 75.121102 
L 209.856 75.466426 
L 210.048 79.839993 
L 210.24 85.972007 
L 210.432 92.477596 
L 210.624 97.971884 
L 210.750947 100.374593 
L 210.816 99.611898 
L 211.008 96.156422 
L 211.2 91.667281 
L 211.392 87.126474 
L 211.584 83.516005 
L 211.669256 82.467572 
L 211.776 82.516806 
L 211.968 82.622536 
L 212.16 82.756585 
L 212.352 82.926285 
L 212.544 83.13897 
L 212.725311 83.385881 
L 212.736 83.590375 
L 212.928 90.165739 
L 212.954888 90.732351 
L 213.12 89.986954 
L 213.312 88.733524 
L 213.504 87.676186 
L 213.551789 87.518271 
L 213.696 91.522026 
L 213.873197 96.701358 
L 213.888 96.591376 
L 214.08 94.125256 
L 214.272 90.871368 
L 214.464 88.480078 
L 214.470098 88.436579 
L 214.656 93.476238 
L 214.848 100.784647 
L 215.04 106.556437 
L 215.066998 107.032332 
L 215.232 104.521583 
L 215.424 100.370537 
L 215.616 95.45328 
L 215.808 90.35341 
L 215.939392 87.059116 
L 216 85.403101 
L 216.192 79.514254 
L 216.384 73.981148 
L 216.536292 70.988712 
L 216.576 71.199999 
L 216.768 72.548027 
L 216.96 74.336035 
L 217.152 76.426814 
L 217.344 78.683156 
L 217.536 80.967853 
L 217.546432 81.090109 
L 217.728 84.642496 
L 217.92 89.084822 
L 218.112 93.786029 
L 218.304 98.291782 
L 218.496 102.147744 
L 218.688 104.899581 
L 218.694318 104.966137 
L 218.88 101.114991 
L 219.072 95.241841 
L 219.264 88.596774 
L 219.456 82.343229 
L 219.648 77.64465 
L 219.704458 76.728142 
L 219.84 78.704598 
L 220.032 82.954223 
L 220.224 87.766545 
L 220.416 91.880862 
L 220.530936 93.487278 
L 220.608 92.427779 
L 220.8 88.193037 
L 220.99009 84.763344 
L 220.992 84.765569 
L 221.184 85.157917 
L 221.376 85.70003 
L 221.568 86.116848 
L 221.586991 86.140807 
L 221.76 85.95214 
L 221.952 85.659525 
L 222.137976 85.452076 
L 222.144 85.498297 
L 222.336 87.876427 
L 222.528 91.301473 
L 222.72 94.72792 
L 222.912 97.11025 
L 222.918538 97.160513 
L 223.104 95.465579 
L 223.296 92.969438 
L 223.488 90.063804 
L 223.68 87.097441 
L 223.745016 86.140807 
L 223.872 83.794014 
L 224.064 79.774184 
L 224.256 75.716322 
L 224.448 72.217339 
L 224.61741 70.070404 
L 224.64 70.582316 
L 224.832 77.469586 
L 225.024 87.054913 
L 225.216 96.73054 
L 225.408 103.888714 
L 225.443888 104.73656 
L 225.6 103.472113 
L 225.792 101.137345 
L 225.984 98.574116 
L 226.176 96.455953 
L 226.270365 95.78305 
L 226.368 96.651808 
L 226.56 99.274696 
L 226.72952 101.063325 
L 226.752 100.732731 
L 226.944 96.61908 
L 227.136 90.827958 
L 227.328 84.255354 
L 227.52 77.797254 
L 227.712 72.349649 
L 227.877406 69.152095 
L 227.904 69.664362 
L 228.096 75.363251 
L 228.288 83.302039 
L 228.48 91.692979 
L 228.672 98.748325 
L 228.795715 101.752057 
L 228.864 100.627886 
L 229.056 95.479551 
L 229.248 89.738899 
L 229.392615 86.829539 
L 229.44 87.55363 
L 229.632 92.496313 
L 229.824 98.085716 
L 229.943601 100.374593 
L 230.016 98.468221 
L 230.208 90.277118 
L 230.4 83.437761 
L 230.402755 83.385881 
L 230.592 85.852325 
L 230.784 89.545466 
L 230.976 93.585995 
L 231.168 97.117808 
L 231.321064 98.99713 
L 231.36 98.504879 
L 231.552 94.620164 
L 231.744 89.570038 
L 231.936 85.067611 
L 232.009795 83.845035 
L 232.128 83.331878 
L 232.32 82.580774 
L 232.512 81.954204 
L 232.704 81.477985 
L 232.790358 81.319686 
L 232.896 82.925066 
L 233.088 87.417286 
L 233.28 92.751714 
L 233.472 97.529487 
L 233.616836 99.915439 
L 233.664 99.357336 
L 233.856 95.997972 
L 234.048 91.443522 
L 234.24 86.429847 
L 234.432 81.692805 
L 234.624 77.968256 
L 234.718806 76.728142 
L 234.816 78.686301 
L 235.008 84.544014 
L 235.2 91.844161 
L 235.392 99.151173 
L 235.584 105.029485 
L 235.68303 107.032332 
L 235.776 105.968977 
L 235.968 102.734989 
L 236.16 98.598751 
L 236.352 94.159737 
L 236.544 90.017421 
L 236.736 86.771276 
L 236.830916 85.681653 
L 236.928 86.484142 
L 237.12 88.749209 
L 237.19824 89.354888 
L 237.312 88.39805 
L 237.504 85.90162 
L 237.696 83.105582 
L 237.888 80.944333 
L 237.932887 80.630955 
L 238.08 82.260254 
L 238.272 85.372311 
L 238.464 89.146045 
L 238.656 93.088641 
L 238.848 96.70728 
L 239.04 99.509145 
L 239.126688 100.374593 
L 239.232 99.100064 
L 239.424 95.58009 
L 239.616 91.354712 
L 239.808 87.412403 
L 239.953166 85.222499 
L 240 85.046348 
L 240.192 84.36326 
L 240.384 83.752095 
L 240.576 83.225049 
L 240.768 82.794318 
L 240.96 82.472098 
L 240.963306 82.467572 
L 241.152 85.622155 
L 241.344 90.261074 
L 241.536 94.561205 
L 241.652037 96.242204 
L 241.728 95.646711 
L 241.92 93.244581 
L 242.112 90.41494 
L 242.304 88.232115 
L 242.340769 87.977425 
L 242.496 88.814286 
L 242.688 90.369063 
L 242.88 92.078209 
L 243.072 93.492707 
L 243.167247 93.946432 
L 243.264 93.165109 
L 243.456 90.833421 
L 243.648 87.90495 
L 243.84 84.909392 
L 244.032 82.376445 
L 244.177387 81.090109 
L 244.224 81.590965 
L 244.416 84.954142 
L 244.608 89.204918 
L 244.8 92.731803 
L 244.866118 93.487278 
L 244.992 91.645459 
L 245.184 87.595171 
L 245.325273 85.452076 
L 245.376 87.040079 
L 245.55485 94.635164 
L 245.568 94.532521 
L 245.76 91.883127 
L 245.952 88.486343 
L 246.105835 86.599962 
L 246.144 87.10382 
L 246.336 91.373523 
L 246.528 96.58888 
L 246.702736 99.915439 
L 246.72 99.6693 
L 246.912 95.265202 
L 247.104 89.10229 
L 247.296 83.046091 
L 247.483298 79.023914 
L 247.488 79.060441 
L 247.68 81.429117 
L 247.872 84.869025 
L 248.064 88.430322 
L 248.256 91.163162 
L 248.309776 91.65066 
L 248.448 89.329822 
L 248.64 84.499027 
L 248.832 80.08549 
L 248.906677 79.023914 
L 249.024 83.753866 
L 249.216 95.568353 
L 249.408 106.099088 
L 249.457662 107.721064 
L 249.6 104.812442 
L 249.792 98.962632 
L 249.984 92.00929 
L 250.176 85.166019 
L 250.368 79.64642 
L 250.47551 77.586122 
L 250.56 78.279669 
L 250.752 80.652715 
L 250.944 83.683412 
L 251.136 86.819431 
L 251.328 89.508446 
L 251.485714 90.994286 
L 251.52 90.71359 
L 251.712 88.016891 
L 251.904 84.822149 
L 252.036735 83.341224 
L 252.096 84.190467 
L 252.288 88.650026 
L 252.48 94.066332 
L 252.672 98.29013 
L 252.710204 98.800408 
L 252.864 97.793042 
L 253.056 95.987285 
L 253.248 93.781762 
L 253.44 91.400262 
L 253.632 89.066573 
L 253.824 87.004487 
L 254.016 85.437791 
L 254.087755 85.024898 
L 254.208 86.493077 
L 254.4 90.104285 
L 254.592 93.913633 
L 254.761224 96.198367 
L 254.784 96.063119 
L 254.976 94.496506 
L 255.168 92.325151 
L 255.36 89.772376 
L 255.552 87.061508 
L 255.744 84.415871 
L 255.936 82.058791 
L 256.128 80.213592 
L 256.230612 79.514694 
L 256.32 81.111343 
L 256.512 86.476494 
L 256.704 92.874186 
L 256.896 98.346711 
L 256.995918 100.177959 
L 257.088 99.20553 
L 257.28 96.212702 
L 257.472 92.384736 
L 257.664 88.289744 
L 257.856 84.495836 
L 258.048 81.571123 
L 258.128571 80.739184 
L 258.24 81.341492 
L 258.432 82.83663 
L 258.624 84.726673 
L 258.816 86.797879 
L 259.008 88.836506 
L 259.2 90.628812 
L 259.392 91.961053 
L 259.444898 92.218776 
L 259.584 90.786892 
L 259.689796 89.769796 
L 259.776 91.393182 
L 259.904082 94.05551 
L 259.968 93.439063 
L 260.16 90.448504 
L 260.352 86.857822 
L 260.544 84.092763 
L 260.577551 83.800408 
L 260.736 85.936733 
L 260.928 89.761157 
L 261.12 93.326714 
L 261.220408 94.514694 
L 261.312 94.016374 
L 261.504 92.360274 
L 261.696 90.60114 
L 261.832653 89.769796 
L 261.888 90.287216 
L 262.08 93.244397 
L 262.272 96.718335 
L 262.444898 98.892245 
L 262.464 98.685382 
L 262.656 95.707184 
L 262.848 91.504051 
L 263.04 86.662277 
L 263.232 81.768156 
L 263.424 77.40798 
L 263.616 74.168044 
L 263.669388 73.545306 
L 263.808 79.460259 
L 264 91.869198 
L 264.192 104.444385 
L 264.342857 111.045306 
L 264.384 110.63121 
L 264.576 108.117473 
L 264.768 104.796497 
L 264.96 100.871748 
L 265.152 96.546688 
L 265.344 92.024782 
L 265.536 87.509494 
L 265.728 83.204288 
L 265.92 79.312627 
L 266.112 76.037976 
L 266.304 73.583799 
L 266.332653 73.300408 
L 266.496 76.883712 
L 266.688 83.171491 
L 266.88 89.751305 
L 267.072 94.569736 
L 267.097959 94.973878 
L 267.264 93.112808 
L 267.456 89.906327 
L 267.648 86.566003 
L 267.84 84.135947 
L 267.863265 83.953469 
L 268.032 85.013264 
L 268.224 86.758119 
L 268.416 88.261285 
L 268.47551 88.545306 
L 268.608 88.03588 
L 268.8 86.947281 
L 268.992 86.105753 
L 268.995918 86.096327 
L 269.184 92.692992 
L 269.376 101.859276 
L 269.546939 107.677959 
L 269.568 107.371976 
L 269.76 103.268207 
L 269.952 97.471835 
L 270.144 90.944455 
L 270.336 84.647661 
L 270.528 79.543049 
L 270.64898 77.371837 
L 270.72 77.952385 
L 270.912 80.304262 
L 271.104 83.374871 
L 271.296 86.62807 
L 271.488 89.527716 
L 271.68 91.537664 
L 271.689796 91.606531 
L 271.872 90.697347 
L 272.057143 89.769796 
L 272.064 89.81415 
L 272.256 92.216892 
L 272.448 94.621738 
L 272.455102 94.667755 
L 272.64 93.357733 
L 272.832 91.364612 
L 273.024 89.049312 
L 273.216 86.738386 
L 273.408 84.758385 
L 273.587755 83.494286 
L 273.6 83.57283 
L 273.792 85.453758 
L 273.984 88.154724 
L 274.176 91.093118 
L 274.368 93.686331 
L 274.536735 95.218776 
L 274.56 95.051755 
L 274.752 92.870191 
L 274.944 89.838624 
L 275.136 86.7813 
L 275.328 84.522462 
L 275.363265 84.259592 
L 275.52 85.283769 
L 275.712 86.896127 
L 275.791837 87.320816 
L 275.904 86.343687 
L 276.096 83.90963 
L 276.220408 82.790204 
L 276.288 83.717676 
L 276.48 88.002991 
L 276.672 92.864889 
L 276.832653 95.647347 
L 276.864 95.395136 
L 277.056 92.975602 
L 277.248 89.657994 
L 277.44 86.282514 
L 277.632 83.689367 
L 277.689796 83.188163 
L 277.824 84.721402 
L 278.016 88.058467 
L 278.208 91.790607 
L 278.4 94.860692 
L 278.485714 95.739184 
L 278.592 94.943919 
L 278.784 92.758517 
L 278.976 90.094894 
L 279.168 87.523713 
L 279.36 85.615636 
L 279.404082 85.33102 
L 279.552 87.702536 
L 279.744 92.303561 
L 279.936 96.70431 
L 280.046939 98.341224 
L 280.128 97.876486 
L 280.32 96.305138 
L 280.512 94.256727 
L 280.704 91.960009 
L 280.896 89.643741 
L 281.088 87.536681 
L 281.28 85.867587 
L 281.393878 85.177959 
L 281.472 85.501549 
L 281.664 86.686835 
L 281.856 88.223022 
L 282.048 89.856439 
L 282.24 91.333415 
L 282.432 92.400277 
L 282.465306 92.524898 
L 282.624 91.973799 
L 282.816 91.001546 
L 283.008 89.831554 
L 283.2 88.60898 
L 283.392 87.47898 
L 283.584 86.586712 
L 283.689796 86.249388 
L 283.776 86.67978 
L 283.968 88.14529 
L 284.16 89.985753 
L 284.352 91.803384 
L 284.544 93.200397 
L 284.608163 93.50449 
L 284.736 93.001676 
L 284.928 91.853731 
L 285.12 90.522234 
L 285.312 89.331294 
L 285.465306 88.698367 
L 285.504 89.063889 
L 285.696 92.180954 
L 285.888 95.673714 
L 285.985714 96.810612 
L 286.08 95.99738 
L 286.272 93.541459 
L 286.464 90.415906 
L 286.656 87.106373 
L 286.848 84.098517 
L 287.04 81.877989 
L 287.087755 81.50449 
L 287.232 82.5057 
L 287.424 84.375704 
L 287.616 86.689389 
L 287.808 89.261434 
L 288 91.90652 
L 288.192 94.439326 
L 288.384 96.674534 
L 288.576 98.426821 
L 288.679592 99.106531 
L 288.768 97.931318 
L 288.96 94.050929 
L 289.152 89.166443 
L 289.344 84.271188 
L 289.536 80.358491 
L 289.628571 79.116735 
L 289.728 80.123515 
L 289.92 83.099484 
L 290.112 86.736409 
L 290.304 90.201856 
L 290.496 92.663395 
L 290.516327 92.83102 
L 290.688 91.936298 
L 290.88 90.563664 
L 291.036735 89.769796 
L 291.072 90.150204 
L 291.264 93.633691 
L 291.456 97.978007 
L 291.648 101.087222 
L 291.64898 101.096327 
L 291.84 96.595391 
L 292.032 89.942595 
L 292.224 82.99893 
L 292.416 77.610888 
L 292.47551 76.545306 
L 292.608 77.913914 
L 292.8 80.934169 
L 292.992 84.321446 
L 293.184 87.116594 
L 293.271429 87.933061 
L 293.376 87.605369 
L 293.568 86.675179 
L 293.76 85.867289 
L 293.791837 85.790204 
L 293.952 92.114889 
L 294.128571 99.259592 
L 294.144 99.145263 
L 294.336 97.187767 
L 294.528 94.444657 
L 294.72 91.210563 
L 294.912 87.780112 
L 295.104 84.447934 
L 295.296 81.508656 
L 295.488 79.256907 
L 295.567347 78.596327 
L 295.68 80.621225 
L 295.872 85.973503 
L 296.064 91.714772 
L 296.240816 95.341224 
L 296.256 95.280133 
L 296.448 94.016003 
L 296.64 92.254178 
L 296.832 90.591283 
L 296.97551 89.769796 
L 297.024 89.962024 
L 297.216 91.186847 
L 297.408 92.758218 
L 297.6 94.151633 
L 297.710204 94.667755 
L 297.792 94.079219 
L 297.984 91.965214 
L 298.176 89.292096 
L 298.368 86.638919 
L 298.56 84.58474 
L 298.628571 84.106531 
L 298.752 86.568032 
L 298.944 92.119849 
L 299.087755 95.126939 
L 299.136 94.602672 
L 299.328 91.27078 
L 299.52 86.949342 
L 299.712 82.972501 
L 299.853061 81.045306 
L 299.904 81.889594 
L 300.096 87.08101 
L 300.288 93.519898 
L 300.48 98.652686 
L 300.526531 99.412653 
L 300.672 97.522799 
L 300.864 93.775294 
L 301.056 89.445782 
L 301.248 85.452359 
L 301.44 82.71312 
L 301.444898 82.667755 
L 301.632 83.960991 
L 301.824 85.888575 
L 302.016 87.715366 
L 302.14898 88.545306 
L 302.208 88.32033 
L 302.4 87.119159 
L 302.592 85.722904 
L 302.761224 84.871837 
L 302.784 85.114712 
L 302.976 88.48849 
L 303.168 93.055207 
L 303.36 97.146239 
L 303.465306 98.586122 
L 303.552 96.991228 
L 303.744 91.536729 
L 303.936 84.788209 
L 304.128 78.403368 
L 304.32 74.039907 
L 304.322449 74.00449 
L 304.512 78.227046 
L 304.704 84.522584 
L 304.896 91.107151 
L 305.088 96.230952 
L 305.14898 97.269796 
L 305.28 95.975811 
L 305.472 93.455406 
L 305.546939 92.83102 
L 305.664 93.73878 
L 305.856 95.877851 
L 305.97551 96.810612 
L 306.048 96.353126 
L 306.24 94.656519 
L 306.432 92.428047 
L 306.624 89.884887 
L 306.816 87.244219 
L 307.008 84.723221 
L 307.2 82.53907 
L 307.392 80.908947 
L 307.444898 80.586122 
L 307.584 83.036094 
L 307.776 88.169577 
L 307.968 93.652702 
L 308.16 97.633308 
L 308.179592 97.882041 
L 308.352 93.914688 
L 308.544 87.380968 
L 308.736 80.812476 
L 308.914286 76.667755 
L 308.928 76.787657 
L 309.12 79.674085 
L 309.312 83.532179 
L 309.504 86.503924 
L 309.526531 86.708571 
L 309.696 85.971493 
L 309.888 84.940079 
L 309.955102 84.718776 
L 310.08 87.784271 
L 310.272 94.825085 
L 310.464 100.449596 
L 310.47551 100.637143 
L 310.656 98.724842 
L 310.848 95.719857 
L 311.04 92.301159 
L 311.232 89.067735 
L 311.424 86.618569 
L 311.485714 86.096327 
L 311.616 86.635868 
L 311.808 87.79483 
L 311.97551 88.545306 
L 312 88.377433 
L 312.192 86.113923 
L 312.384 83.25703 
L 312.557143 81.443265 
L 312.576 81.611735 
L 312.768 84.116533 
L 312.96 87.664852 
L 313.152 91.693054 
L 313.344 95.6375 
L 313.536 98.934554 
L 313.689796 100.72898 
L 313.728 100.474673 
L 313.92 98.722302 
L 314.112 96.343488 
L 314.304 93.563005 
L 314.496 90.605627 
L 314.688 87.696129 
L 314.88 85.059283 
L 315.072 82.919865 
L 315.220408 81.749388 
L 315.264 81.952572 
L 315.456 83.408476 
L 315.648 85.275517 
L 315.84 86.875815 
L 315.92449 87.320816 
L 316.032 87.029703 
L 316.224 86.229831 
L 316.416 85.543259 
L 316.444898 85.484082 
L 316.608 87.462853 
L 316.8 90.773056 
L 316.992 93.26186 
L 316.995918 93.290204 
L 317.184 92.210123 
L 317.302041 91.606531 
L 317.376 91.93359 
L 317.568 93.140085 
L 317.608163 93.290204 
L 317.76 91.806805 
L 317.952 89.091747 
L 318.144 86.957391 
L 318.159184 86.861633 
L 318.336 87.952994 
L 318.528 89.711041 
L 318.72 91.583684 
L 318.912 93.075917 
L 318.985714 93.443265 
L 319.104 92.748637 
L 319.296 91.012819 
L 319.488 89.063581 
L 319.68 87.519486 
L 319.738776 87.222857 
L 319.872 87.565329 
L 320.064 88.305582 
L 320.256 89.188083 
L 320.448 90.046876 
L 320.64 90.716003 
L 320.718367 90.896327 
L 320.832 90.118539 
L 321.024 88.086811 
L 321.216 85.810626 
L 321.408 84.050517 
L 321.453061 83.794286 
L 321.6 85.10712 
L 321.792 87.62176 
L 321.984 89.702819 
L 322.016327 89.907282 
L 322.176 89.205713 
L 322.368 87.992934 
L 322.56 87.034097 
L 322.579592 86.977959 
L 322.752 88.69563 
L 322.944 91.423253 
L 323.136 93.624028 
L 323.167347 93.835102 
L 323.328 92.828566 
L 323.52 91.099625 
L 323.712 88.999987 
L 323.904 86.743347 
L 324.096 84.543403 
L 324.288 82.613849 
L 324.48 81.168383 
L 324.538776 80.85551 
L 324.672 84.094977 
L 324.864 91.122149 
L 325.056 97.530483 
L 325.126531 98.977959 
L 325.248 97.248943 
L 325.44 93.195251 
L 325.616327 90.376016 
L 325.632 90.457994 
L 325.824 92.27492 
L 326.016 94.420029 
L 326.106122 95.059592 
L 326.208 91.731122 
L 326.4 82.070204 
L 326.592 74.328518 
L 326.595918 74.243265 
L 326.784 78.062981 
L 326.976 83.819259 
L 327.168 90.028731 
L 327.36 95.258717 
L 327.477551 97.361633 
L 327.552 96.888181 
L 327.744 94.969234 
L 327.936 92.596944 
L 328.128 90.465493 
L 328.261224 89.494384 
L 328.32 89.658514 
L 328.512 90.507071 
L 328.704 91.589395 
L 328.896 92.587303 
L 329.044898 93.100408 
L 329.088 92.637835 
L 329.28 89.177731 
L 329.472 85.049658 
L 329.632653 82.667755 
L 329.664 82.895309 
L 329.856 85.124923 
L 330.048 88.143398 
L 330.24 91.0518 
L 330.416327 92.85551 
L 330.432 92.811489 
L 330.624 91.904297 
L 330.816 90.670598 
L 331.008 89.620316 
L 331.077551 89.38418 
L 331.2 90.077916 
L 331.392 91.749632 
L 331.584 93.483658 
L 331.738776 94.422857 
L 331.776 94.071364 
L 331.968 91.136511 
L 332.16 87.269669 
L 332.352 83.766369 
L 332.473469 82.324898 
L 332.544 82.696922 
L 332.736 84.231931 
L 332.928 86.225298 
L 333.12 88.289789 
L 333.312 90.038172 
L 333.453061 90.896327 
L 333.504 90.029398 
L 333.696 84.637765 
L 333.795918 82.569796 
L 333.888 83.195906 
L 334.08 85.154466 
L 334.272 87.635558 
L 334.464 90.203368 
L 334.656 92.422082 
L 334.82449 93.737143 
L 334.848 93.580056 
L 335.04 91.453489 
L 335.232 88.599516 
L 335.424 86.114841 
L 335.510204 85.410612 
L 335.616 85.848767 
L 335.808 87.064507 
L 336 88.533481 
L 336.192 89.915731 
L 336.384 90.871299 
L 336.391837 90.896327 
L 336.576 90.163278 
L 336.768 89.125065 
L 336.930612 88.502547 
L 336.96 88.717306 
L 337.152 91.150839 
L 337.344 94.046119 
L 337.469388 95.30449 
L 337.536 94.362961 
L 337.728 89.906848 
L 337.92 85.277565 
L 338.008163 83.941224 
L 338.112 84.97919 
L 338.304 87.895747 
L 338.496 91.472924 
L 338.688 94.962273 
L 338.88 97.615346 
L 338.938776 98.145306 
L 339.072 97.092724 
L 339.264 94.892084 
L 339.456 92.171805 
L 339.648 89.252166 
L 339.84 86.45345 
L 340.032 84.095939 
L 340.212245 82.569796 
L 340.224 82.651661 
L 340.416 85.175849 
L 340.608 87.772376 
L 340.628571 87.923608 
L 340.8 85.737912 
L 340.992 82.804674 
L 341.044898 82.324898 
L 341.184 84.565863 
L 341.376 89.26141 
L 341.568 94.276771 
L 341.76 97.917792 
L 341.779592 98.145306 
L 341.952 94.145587 
L 342.144 87.794122 
L 342.336 82.66946 
L 342.367347 82.177959 
L 342.528 83.584989 
L 342.72 86.100637 
L 342.912 88.91316 
L 343.104 91.37603 
L 343.24898 92.610612 
L 343.296 92.29721 
L 343.488 90.116318 
L 343.68 87.878525 
L 343.738776 87.467755 
L 343.872 87.812712 
L 344.064 88.550439 
L 344.256 89.445339 
L 344.448 90.356101 
L 344.64 91.141413 
L 344.816327 91.63102 
L 344.832 91.57551 
L 345.024 90.482087 
L 345.216 88.945107 
L 345.408 87.427002 
L 345.6 86.390204 
L 345.6 86.390204 
L 345.792 88.13391 
L 345.984 90.704213 
L 346.176 93.520422 
L 346.368 96.001844 
L 346.530612 97.410612 
L 346.56 97.173143 
L 346.752 94.790433 
L 346.944 91.486396 
L 347.136 87.986254 
L 347.328 85.015227 
L 347.461224 83.647347 
L 347.52 84.003173 
L 347.712 85.873084 
L 347.904 88.191672 
L 348.096 90.133203 
L 348.171429 90.612588 
L 348.288 90.368527 
L 348.48 89.747669 
L 348.672 89.067417 
L 348.864 88.572849 
L 348.881633 88.545306 
L 349.056 91.322416 
L 349.248 95.121841 
L 349.322449 96.039184 
L 349.44 95.005611 
L 349.632 92.401287 
L 349.824 89.740033 
L 349.959184 88.502547 
L 350.016 88.636235 
L 350.208 89.375713 
L 350.4 90.25784 
L 350.592 90.888826 
L 350.595918 90.896327 
L 350.784 86.681693 
L 350.889796 84.626939 
L 350.976 84.801435 
L 351.168 85.364775 
L 351.36 86.094104 
L 351.552 86.897389 
L 351.744 87.682595 
L 351.936 88.35769 
L 352.128 88.83064 
L 352.138776 88.849322 
L 352.32 88.18987 
L 352.512 87.174689 
L 352.704 85.973401 
L 352.896 84.728216 
L 353.088 83.581346 
L 353.28 82.674999 
L 353.387755 82.324898 
L 353.472 83.340036 
L 353.664 86.90079 
L 353.856 91.351332 
L 354.048 95.653576 
L 354.24 98.769437 
L 354.269388 99.075918 
L 354.432 97.901113 
L 354.624 95.878863 
L 354.816 93.453756 
L 355.008 90.926021 
L 355.2 88.595884 
L 355.392 86.763574 
L 355.493878 86.096327 
L 355.584 86.885556 
L 355.776 89.532647 
L 355.968 91.774757 
L 355.983673 91.875918 
L 356.16 89.994163 
L 356.352 86.959917 
L 356.544 83.810835 
L 356.736 81.484747 
L 356.767347 81.247347 
L 356.928 82.640523 
L 357.12 85.100788 
L 357.312 87.999404 
L 357.504 90.884178 
L 357.696 93.302914 
L 357.844898 94.569796 
L 357.888 94.373899 
L 358.08 93.125631 
L 358.272 91.424391 
L 358.464 89.486722 
L 358.656 87.529167 
L 358.848 85.768268 
L 359.04 84.420567 
L 359.118367 84.039184 
L 359.232 85.063454 
L 359.424 87.744637 
L 359.616 90.644699 
L 359.804082 92.610612 
L 359.808 92.593848 
L 360 91.313627 
L 360.192 89.444923 
L 360.384 87.449105 
L 360.576 85.787547 
L 360.685714 85.165714 
L 360.768 86.167203 
L 360.96 89.852569 
L 361.126531 92.365714 
L 361.152 92.310589 
L 361.344 91.649518 
L 361.536 90.738061 
L 361.728 89.833833 
L 361.92 89.194448 
L 361.934694 89.163771 
L 362.112 90.534803 
L 362.304 92.734973 
L 362.496 95.05175 
L 362.688 96.841332 
L 362.742857 97.165714 
L 362.88 95.684714 
L 363.072 92.541173 
L 363.264 88.980425 
L 363.456 85.921263 
L 363.57551 84.675918 
L 363.648 85.144764 
L 363.84 87.115939 
L 364.032 89.514212 
L 364.224 91.542333 
L 364.310204 92.120816 
L 364.416 91.645498 
L 364.608 90.379685 
L 364.8 88.781247 
L 364.992 87.070436 
L 365.184 85.467503 
L 365.376 84.1927 
L 365.485714 83.696327 
L 365.568 84.683591 
L 365.76 88.379993 
L 365.952 92.012949 
L 366.02449 92.85551 
L 366.144 92.285997 
L 366.336 90.890199 
L 366.528 89.622768 
L 366.587755 89.38418 
L 366.72 90.473738 
L 366.912 92.843426 
L 367.104 94.906037 
L 367.15102 95.206531 
L 367.296 93.646696 
L 367.488 90.533347 
L 367.68 87.381488 
L 367.836735 85.65551 
L 367.872 85.834928 
L 368.064 87.353884 
L 368.256 89.426512 
L 368.448 91.555014 
L 368.64 93.241596 
L 368.718367 93.688163 
L 368.832 92.497976 
L 369.024 89.393943 
L 369.216 86.394653 
L 369.306122 85.508571 
L 369.408 86.193764 
L 369.6 88.138654 
L 369.746939 89.246057 
L 369.792 88.994003 
L 369.984 87.147423 
L 370.176 85.46577 
L 370.187755 85.410612 
L 370.368 90.965688 
L 370.56 97.400155 
L 370.579592 97.753469 
L 370.752 96.342631 
L 370.944 94.026365 
L 371.136 91.329627 
L 371.328 88.671365 
L 371.52 86.470521 
L 371.657143 85.410612 
L 371.712 85.758804 
L 371.904 87.713021 
L 372.096 90.184011 
L 372.288 92.348299 
L 372.391837 93.100408 
L 372.48 91.89079 
L 372.672 87.70049 
L 372.864 83.666939 
L 372.930612 82.814694 
L 373.056 83.300817 
L 373.248 84.361618 
L 373.44 85.689714 
L 373.632 87.154457 
L 373.824 88.625199 
L 374.016 89.971292 
L 374.208 91.062089 
L 374.35102 91.63102 
L 374.4 91.543788 
L 374.592 91.083817 
L 374.784 90.471471 
L 374.976 89.754231 
L 375.168 88.979578 
L 375.36 88.194992 
L 375.552 87.447956 
L 375.744 86.785949 
L 375.936 86.256452 
L 376.065306 85.998367 
L 376.128 86.218887 
L 376.32 87.29705 
L 376.512 88.636796 
L 376.704 89.792297 
L 376.8 90.161633 
L 376.896 89.722292 
L 377.088 88.384537 
L 377.28 86.725031 
L 377.472 85.09219 
L 377.664 83.834429 
L 377.730612 83.549388 
L 377.856 84.49667 
L 378.048 86.716108 
L 378.24 88.940882 
L 378.367347 89.907282 
L 378.432 89.716327 
L 378.624 88.794852 
L 378.816 87.718485 
L 379.004082 86.977959 
L 379.008 87.111807 
L 379.2 99.614694 
L 379.2 99.614694 
L 379.392 97.1632 
L 379.584 93.573661 
L 379.776 89.939493 
L 379.968 87.354111 
L 379.983673 87.222857 
L 380.16 88.213248 
L 380.352 89.802857 
L 380.544 91.389656 
L 380.718367 92.365714 
L 380.736 92.299314 
L 380.928 91.203782 
L 381.12 89.646527 
L 381.312 87.943975 
L 381.504 86.41255 
L 381.696 85.368679 
L 381.697959 85.361633 
L 381.888 87.595827 
L 382.08 90.801894 
L 382.272 93.532328 
L 382.334694 94.08 
L 382.464 92.580859 
L 382.656 89.213131 
L 382.848 86.1059 
L 382.922449 85.361633 
L 383.04 85.912301 
L 383.232 87.297511 
L 383.424 88.670104 
L 383.534694 89.179935 
L 383.616 88.470809 
L 383.808 85.786334 
L 384 82.854068 
L 384.146939 81.345306 
L 384.192 81.876655 
L 384.384 85.622645 
L 384.576 90.238711 
L 384.768 93.670216 
L 384.783673 93.835102 
L 384.96 93.066591 
L 385.152 91.827403 
L 385.344 90.541314 
L 385.536 89.591338 
L 385.567347 89.494384 
L 385.728 90.06025 
L 385.92 91.07247 
L 386.112 92.149626 
L 386.304 92.973534 
L 386.35102 93.100408 
L 386.496 91.523599 
L 386.688 88.569741 
L 386.840816 86.88 
L 386.88 87.071474 
L 387.072 88.588741 
L 387.264 90.578412 
L 387.456 92.374364 
L 387.57551 93.100408 
L 387.648 92.330122 
L 387.84 89.039232 
L 388.032 85.273531 
L 388.212245 82.814694 
L 388.224 82.858715 
L 388.416 83.866314 
L 388.608 85.296057 
L 388.8 86.97077 
L 388.992 88.713279 
L 389.184 90.34641 
L 389.376 91.69299 
L 389.534694 92.463673 
L 389.568 92.281462 
L 389.76 90.577658 
L 389.952 88.311213 
L 390.144 86.242662 
L 390.269388 85.361633 
L 390.336 85.632229 
L 390.528 86.902193 
L 390.72 88.346994 
L 390.881633 89.179935 
L 390.912 89.054943 
L 391.104 87.719062 
L 391.296 86.027517 
L 391.488 84.795632 
L 391.493878 84.773878 
L 391.68 87.277491 
L 391.872 90.963852 
L 392.064 94.136142 
L 392.130612 94.814694 
L 392.256 94.138327 
L 392.448 92.645266 
L 392.64 90.78177 
L 392.832 88.754692 
L 393.024 86.770884 
L 393.216 85.037199 
L 393.408 83.760489 
L 393.453061 83.549388 
L 393.6 85.359842 
L 393.792 88.137276 
L 393.820408 88.364424 
L 393.984 86.285147 
L 394.176 83.633666 
L 394.187755 83.549388 
L 394.368 86.697083 
L 394.56 91.423332 
L 394.752 95.137699 
L 394.77551 95.402449 
L 394.944 94.255107 
L 395.136 92.358175 
L 395.328 90.084476 
L 395.52 87.695878 
L 395.712 85.454245 
L 395.904 83.621443 
L 396.04898 82.667755 
L 396.096 83.107744 
L 396.288 86.110961 
L 396.48 89.649807 
L 396.636735 91.63102 
L 396.672 91.407806 
L 396.864 89.29078 
L 397.056 87.003056 
L 397.126531 86.488163 
L 397.248 86.989359 
L 397.44 88.193901 
L 397.632 89.615873 
L 397.824 90.927458 
L 398.008163 91.777959 
L 398.016 91.714711 
L 398.208 88.791966 
L 398.4 85.510184 
L 398.44898 85.018776 
L 398.592 85.654597 
L 398.784 86.899865 
L 398.976 88.41995 
L 399.168 90.02452 
L 399.36 91.523241 
L 399.552 92.725781 
L 399.673469 93.247347 
L 399.744 93.002639 
L 399.936 92.027812 
L 400.128 90.744977 
L 400.32 89.335971 
L 400.512 87.982629 
L 400.704 86.866787 
L 400.84898 86.292245 
L 400.896 86.493689 
L 401.088 87.755804 
L 401.28 89.449843 
L 401.472 91.209325 
L 401.664 92.667769 
L 401.779592 93.247347 
L 401.856 93.075321 
L 402.048 92.465311 
L 402.24 91.666575 
L 402.432 90.761133 
L 402.624 89.831002 
L 402.816 88.958199 
L 403.008 88.224744 
L 403.2 87.712653 
L 403.2 87.712653 
L 403.392 88.979923 
L 403.584 90.676046 
L 403.738776 91.63102 
L 403.776 91.234806 
L 403.968 87.687882 
L 404.16 83.888072 
L 404.228571 83.059592 
L 404.352 84.477035 
L 404.544 87.862563 
L 404.736 91.585648 
L 404.928 94.397965 
L 404.963265 94.716735 
L 405.12 93.599953 
L 405.312 91.551074 
L 405.504 89.432028 
L 405.696 87.966635 
L 405.697959 87.957551 
L 405.888 88.420905 
L 406.08 89.088636 
L 406.272 89.886424 
L 406.464 90.743459 
L 406.656 91.588933 
L 406.848 92.352039 
L 407.04 92.961968 
L 407.167347 93.247347 
L 407.232 90.893907 
L 407.314286 87.712653 
L 407.424 87.936895 
L 407.616 88.520589 
L 407.808 89.247969 
L 408 90.002661 
L 408.192 90.668291 
L 408.384 91.128486 
L 408.391837 91.141224 
L 408.576 89.323151 
L 408.768 86.866022 
L 408.881633 85.900408 
L 408.96 86.224045 
L 409.152 87.499151 
L 409.344 88.90322 
L 409.493878 89.642792 
L 409.536 89.508868 
L 409.728 88.489338 
L 409.92 87.244104 
L 410.106122 86.390204 
L 410.112 86.413641 
L 410.304 87.826684 
L 410.496 89.573537 
L 410.595918 90.161633 
L 410.688 89.860686 
L 410.88 88.889851 
L 411.072 87.708069 
L 411.264 86.621604 
L 411.428571 85.998367 
L 411.456 86.131304 
L 411.648 87.495067 
L 411.84 89.400774 
L 412.032 91.545803 
L 412.224 93.627527 
L 412.416 95.343322 
L 412.555102 96.186122 
L 412.608 95.940751 
L 412.8 94.652473 
L 412.992 92.917669 
L 413.184 90.969723 
L 413.376 89.04202 
L 413.568 87.367943 
L 413.76 86.180878 
L 413.779592 86.096327 
L 413.952 87.708457 
L 414.144 90.363429 
L 414.336 93.032531 
L 414.514286 94.716735 
L 414.528 94.606883 
L 414.72 91.813431 
L 414.912 88.485304 
L 415.004082 87.467755 
L 415.104 87.76307 
L 415.296 88.589794 
L 415.488 89.643337 
L 415.68 90.787745 
L 415.872 91.887067 
L 416.064 92.805351 
L 416.228571 93.345306 
L 416.256 92.777194 
L 416.448 86.125796 
L 416.473469 85.606531 
L 416.64 86.632166 
L 416.832 88.348038 
L 417.024 89.835547 
L 417.085714 90.12769 
L 417.216 89.689627 
L 417.408 88.709994 
L 417.6 87.771796 
L 417.697959 87.467755 
L 417.792 87.976039 
L 417.984 89.601436 
L 418.176 91.493367 
L 418.368 93.022426 
L 418.432653 93.345306 
L 418.56 92.172329 
L 418.752 89.579428 
L 418.922449 87.859592 
L 418.944 87.900995 
L 419.136 88.502789 
L 419.328 89.327498 
L 419.52 90.096833 
L 419.657143 90.458302 
L 419.712 90.356158 
L 419.904 89.782875 
L 420.096 89.057994 
L 420.288 88.423085 
L 420.391837 88.202449 
L 420.48 89.02832 
L 420.672 91.870168 
L 420.864 94.299088 
L 420.881633 94.422857 
L 421.056 93.311449 
L 421.248 91.514436 
L 421.44 89.408571 
L 421.632 87.295022 
L 421.824 85.474961 
L 422.008163 84.284082 
L 422.016 84.320306 
L 422.208 85.873429 
L 422.4 87.961965 
L 422.592 89.492779 
L 422.595918 89.510547 
L 422.784 88.551725 
L 422.976 87.188268 
L 423.168 86.145427 
L 423.183673 86.096327 
L 423.36 90.297527 
L 423.552 95.35856 
L 423.57551 95.696327 
L 423.744 94.854801 
L 423.936 93.501207 
L 424.128 91.854702 
L 424.32 90.048179 
L 424.512 88.214535 
L 424.704 86.486665 
L 424.896 84.997464 
L 425.088 83.879827 
L 425.142857 83.647347 
L 425.28 84.845092 
L 425.472 87.357598 
L 425.664 90.338533 
L 425.856 93.228066 
L 426.048 95.466371 
L 426.122449 96.039184 
L 426.24 95.140174 
L 426.432 92.872854 
L 426.624 90.440891 
L 426.808163 88.833159 
L 426.816 88.849691 
L 427.008 89.528033 
L 427.2 90.480879 
L 427.392 91.339717 
L 427.493878 91.63102 
L 427.584 88.510477 
L 427.591837 88.349388 
L 427.776 88.834659 
L 427.968 89.568713 
L 428.16 90.253071 
L 428.277551 90.524424 
L 428.352 90.152555 
L 428.544 88.619518 
L 428.736 86.810734 
L 428.928 85.419106 
L 428.963265 85.263673 
L 429.061224 90.50449 
L 429.12 90.020315 
L 429.312 87.436131 
L 429.504 84.369736 
L 429.696 82.190887 
L 429.697959 82.177959 
L 429.888 83.190474 
L 430.08 84.64959 
L 430.272 86.392903 
L 430.464 88.265684 
L 430.656 90.113202 
L 430.848 91.78073 
L 431.04 93.113536 
L 431.167347 93.737143 
L 431.232 91.896856 
L 431.412245 85.263673 
L 431.424 85.253042 
L 431.616 85.096441 
L 431.808 84.969042 
L 432 84.866591 
L 432.192 84.784832 
L 432.384 84.719509 
L 432.538776 84.675918 
L 432.576 84.812605 
L 432.768 85.787513 
L 432.96 87.116262 
L 433.152 88.664448 
L 433.344 90.297665 
L 433.536 91.881509 
L 433.728 93.281575 
L 433.92 94.363459 
L 434.008163 94.716735 
L 434.112 94.17574 
L 434.304 92.746364 
L 434.496 90.92399 
L 434.688 88.902157 
L 434.88 86.874398 
L 435.072 85.034251 
L 435.264 83.575251 
L 435.379592 82.961633 
L 435.456 83.277236 
L 435.648 84.468116 
L 435.84 86.009422 
L 436.032 87.627515 
L 436.224 89.048755 
L 436.408163 89.973404 
L 436.416 89.962306 
L 436.608 89.556299 
L 436.8 88.96823 
L 436.992 88.309265 
L 437.184 87.690569 
L 437.376 87.223308 
L 437.436735 87.124898 
L 437.568 88.68793 
L 437.76 91.69448 
L 437.828571 92.365714 
L 437.952 91.702416 
L 438.144 90.117231 
L 438.336 88.438043 
L 438.514286 87.369796 
L 438.528 87.415803 
L 438.72 88.511976 
L 438.912 89.995807 
L 439.104 91.206592 
L 439.15102 91.386122 
L 439.296 90.959824 
L 439.488 90.115646 
L 439.68 89.123529 
L 439.872 88.169345 
L 440.064 87.438965 
L 440.130612 87.271837 
L 440.256 87.879443 
L 440.448 89.30603 
L 440.64 90.869095 
L 440.832 92.044133 
L 440.865306 92.169796 
L 441.024 90.729721 
L 441.216 88.336065 
L 441.355102 87.124898 
L 441.408 87.277904 
L 441.6 88.050522 
L 441.792 89.085726 
L 441.984 90.280584 
L 442.176 91.532162 
L 442.368 92.737523 
L 442.56 93.793735 
L 442.752 94.597863 
L 442.82449 94.814694 
L 442.944 93.862372 
L 443.136 91.523013 
L 443.328 88.800087 
L 443.52 86.396203 
L 443.657143 85.263673 
L 443.712 85.46894 
L 443.904 86.614406 
L 444.096 88.075877 
L 444.288 89.396253 
L 444.416327 89.973404 
L 444.48 89.825575 
L 444.672 89.117951 
L 444.864 88.231897 
L 445.056 87.443874 
L 445.17551 87.124898 
L 445.248 88.572423 
L 445.371429 91.386122 
L 445.44 91.200188 
L 445.632 90.450703 
L 445.824 89.460483 
L 446.016 88.352403 
L 446.208 87.249339 
L 446.4 86.274165 
L 446.592 85.549756 
L 446.644898 85.410612 
L 446.784 86.12593 
L 446.976 87.618947 
L 447.168 89.110312 
L 447.306122 89.819118 
L 447.36 89.666783 
L 447.552 88.780683 
L 447.744 87.697693 
L 447.936 86.863946 
L 447.967347 86.782041 
L 448.128 88.629135 
L 448.32 91.648935 
L 448.457143 93.149388 
L 448.512 92.949787 
L 448.704 91.829535 
L 448.896 90.413044 
L 449.088 89.17237 
L 449.191837 88.741224 
L 449.28 89.370894 
L 449.472 91.55477 
L 449.664 93.827917 
L 449.779592 94.716735 
L 449.856 94.272811 
L 450.048 92.552341 
L 450.24 90.373968 
L 450.432 88.247629 
L 450.624 86.683262 
L 450.661224 86.488163 
L 450.816 87.267745 
L 451.008 88.652353 
L 451.2 89.686873 
L 451.2 89.686873 
L 451.392 87.860309 
L 451.584 85.415624 
L 451.738776 84.039184 
L 451.776 84.18783 
L 451.968 85.379729 
L 452.16 86.999797 
L 452.352 88.659509 
L 452.544 89.970344 
L 452.620408 90.308571 
L 452.736 89.971279 
L 452.928 89.113107 
L 453.12 88.108016 
L 453.312 87.215431 
L 453.453061 86.782041 
L 453.504 87.215857 
L 453.696 89.982368 
L 453.888 92.772722 
L 453.942857 93.247347 
L 454.08 92.490935 
L 454.272 90.890554 
L 454.464 89.043009 
L 454.656 87.373249 
L 454.82449 86.390204 
L 454.848 86.469076 
L 455.04 87.518959 
L 455.232 88.950448 
L 455.424 90.280995 
L 455.559184 90.896327 
L 455.616 90.423814 
L 455.808 87.784902 
L 456 84.76852 
L 456.146939 83.206531 
L 456.192 83.486763 
L 456.384 85.340757 
L 456.576 87.82288 
L 456.768 90.341241 
L 456.96 92.30395 
L 457.028571 92.757551 
L 457.152 92.400408 
L 457.344 91.633903 
L 457.536 90.671693 
L 457.728 89.583144 
L 457.92 88.437617 
L 458.112 87.304476 
L 458.304 86.253086 
L 458.496 85.352808 
L 458.688 84.673006 
L 458.742857 84.52898 
L 458.88 85.89155 
L 459.072 88.791581 
L 459.264 91.900345 
L 459.456 94.168828 
L 459.477551 94.324898 
L 459.648 93.408308 
L 459.84 91.903813 
L 460.032 90.111894 
L 460.224 88.253472 
L 460.416 86.549471 
L 460.608 85.220812 
L 460.702041 84.773878 
L 460.8 85.678309 
L 460.992 88.447783 
L 461.184 91.646416 
L 461.376 94.209459 
L 461.436735 94.716735 
L 461.568 93.042021 
L 461.76 89.34548 
L 461.952 85.954698 
L 462.02449 85.165714 
L 462.144 85.665941 
L 462.336 86.904772 
L 462.528 88.228028 
L 462.710204 89.091771 
L 462.72 89.05962 
L 462.912 88.005551 
L 463.104 86.533647 
L 463.296 85.212628 
L 463.395918 84.773878 
L 463.467918 92.267755 
L 463.488 92.202883 
L 463.68 91.112581 
L 463.872 89.765973 
L 464.008163 89.11969 
L 464.064 89.34224 
L 464.256 90.602371 
L 464.448 92.080615 
L 464.620408 93.002449 
L 464.64 92.92463 
L 464.832 91.768852 
L 465.024 90.132136 
L 465.216 88.346398 
L 465.408 86.743551 
L 465.6 85.65551 
L 465.6 85.65551 
L 465.792 88.256702 
L 465.984 91.565074 
L 466.089796 92.757551 
L 466.176 92.371237 
L 466.368 90.999141 
L 466.56 89.520264 
L 466.702041 88.789078 
L 466.752 88.926948 
L 466.944 89.804766 
L 467.136 90.85227 
L 467.314286 91.533061 
L 467.328 91.464651 
L 467.52 89.800261 
L 467.712 87.609024 
L 467.902041 86.047347 
L 467.904 86.056336 
L 468.096 87.744886 
L 468.288 89.706081 
L 468.342857 90.039527 
L 468.48 89.290511 
L 468.672 87.843849 
L 468.783673 87.271837 
L 468.864 87.499552 
L 469.056 88.323751 
L 469.248 89.378528 
L 469.44 90.46031 
L 469.632 91.365523 
L 469.763265 91.777959 
L 469.824 91.660815 
L 470.016 91.08752 
L 470.208 90.341769 
L 470.4 89.59961 
L 470.592 89.037094 
L 470.644898 88.937143 
L 470.784 89.445687 
L 470.976 90.508862 
L 471.168 91.709581 
L 471.36 92.737975 
L 471.477551 93.149388 
L 471.552 92.998926 
L 471.744 92.435322 
L 471.936 91.696242 
L 472.128 90.879116 
L 472.32 90.081377 
L 472.512 89.400457 
L 472.702041 88.937143 
L 472.704 88.940134 
L 472.896 89.450359 
L 473.088 90.160761 
L 473.28 90.728679 
L 473.314286 90.788914 
L 473.472 89.528627 
L 473.664 87.27706 
L 473.856 85.276145 
L 473.926531 84.822857 
L 474.048 86.56543 
L 474.24 90.650905 
L 474.416327 93.492245 
L 474.432 93.43837 
L 474.624 92.358657 
L 474.816 90.855833 
L 475.008 89.43867 
L 475.15102 88.741224 
L 475.2 88.853388 
L 475.392 89.520537 
L 475.584 90.417091 
L 475.776 91.366029 
L 475.968 92.190329 
L 476.130612 92.659592 
L 476.16 92.564649 
L 476.352 91.655162 
L 476.544 90.388164 
L 476.736 88.964435 
L 476.928 87.584754 
L 477.12 86.449903 
L 477.257143 85.900408 
L 477.312 86.00043 
L 477.504 86.455926 
L 477.696 87.04956 
L 477.888 87.747403 
L 478.08 88.515527 
L 478.272 89.320002 
L 478.464 90.126901 
L 478.656 90.902295 
L 478.848 91.612255 
L 479.04 92.222854 
L 479.232 92.700161 
L 479.314286 92.85551 
L 479.424 91.631241 
L 479.616 88.380326 
L 479.804082 85.900408 
L 479.808 85.912972 
L 480 86.982338 
L 480.192 88.460897 
L 480.384 89.635744 
L 480.416327 89.752996 
L 480.576 89.083627 
L 480.768 87.905369 
L 480.96 86.86399 
L 481.028571 86.635102 
L 481.152 87.306727 
L 481.344 88.850413 
L 481.518367 89.907282 
L 481.536 89.848996 
L 481.728 88.705166 
L 481.92 87.366879 
L 482.008163 86.977959 
L 482.112 87.255219 
L 482.304 87.987774 
L 482.496 88.921741 
L 482.688 89.957931 
L 482.88 90.997157 
L 483.072 91.940232 
L 483.264 92.687969 
L 483.379592 93.002449 
L 483.456 92.502184 
L 483.648 90.495714 
L 483.84 88.139035 
L 484.032 86.335317 
L 484.065306 86.145306 
L 484.224 87.166265 
L 484.416 89.015833 
L 484.608 91.089087 
L 484.8 92.909478 
L 484.946939 93.835102 
L 484.992 93.373064 
L 485.184 90.074736 
L 485.376 86.164052 
L 485.534694 83.941224 
L 485.568 84.121016 
L 485.76 85.733088 
L 485.952 87.941387 
L 486.144 90.214729 
L 486.336 92.02193 
L 486.416327 92.512653 
L 486.528 90.799723 
L 486.72 86.668006 
L 486.808163 85.410612 
L 486.912 86.017648 
L 487.104 87.745855 
L 487.296 89.808709 
L 487.488 91.672952 
L 487.640816 92.659592 
L 487.68 92.532711 
L 487.872 91.636483 
L 488.064 90.407473 
L 488.256 89.013355 
L 488.448 87.621804 
L 488.64 86.400493 
L 488.832 85.517097 
L 488.865306 85.410612 
L 489.024 85.908761 
L 489.216 86.803239 
L 489.408 87.849437 
L 489.6 88.869288 
L 489.792 89.684726 
L 489.893878 89.973404 
L 489.984 89.817726 
L 490.176 89.32008 
L 490.368 88.688016 
L 490.56 88.032697 
L 490.752 87.465289 
L 490.922449 87.124898 
L 490.944 87.526315 
L 491.069388 91.043265 
L 491.136 90.941575 
L 491.328 90.509188 
L 491.52 89.938286 
L 491.712 89.316164 
L 491.904 88.730119 
L 492.096 88.267446 
L 492.195918 88.10449 
L 492.288 89.361188 
L 492.48 93.034424 
L 492.538776 93.737143 
L 492.672 93.318779 
L 492.864 92.476615 
L 493.056 91.426297 
L 493.248 90.25058 
L 493.44 89.03222 
L 493.632 87.85397 
L 493.824 86.798586 
L 494.016 85.948821 
L 494.155102 85.508571 
L 494.208 85.93691 
L 494.4 88.518067 
L 494.592 91.50429 
L 494.742857 93.100408 
L 494.784 92.945267 
L 494.976 91.956379 
L 495.168 90.620512 
L 495.36 89.058677 
L 495.552 87.391884 
L 495.744 85.741143 
L 495.936 84.227465 
L 496.128 82.971861 
L 496.310204 82.12898 
L 496.32 82.172457 
L 496.512 83.415077 
L 496.704 85.202784 
L 496.896 87.246044 
L 497.088 89.25533 
L 497.28 90.941109 
L 497.436735 91.875918 
L 497.472 91.805481 
L 497.664 91.262938 
L 497.856 90.517121 
L 498.048 89.657967 
L 498.24 88.775411 
L 498.432 87.95939 
L 498.624 87.299838 
L 498.759184 86.977959 
L 498.816 87.140443 
L 499.008 87.973416 
L 499.2 89.078559 
L 499.392 90.239021 
L 499.584 91.237951 
L 499.738776 91.777959 
L 499.776 91.542151 
L 499.968 89.404855 
L 500.130612 87.859592 
L 500.16 87.918515 
L 500.352 88.554126 
L 500.544 89.393427 
L 500.736 90.114457 
L 500.816327 90.304016 
L 500.928 89.749188 
L 501.12 88.268931 
L 501.312 86.661089 
L 501.502041 85.557551 
L 501.504 85.566778 
L 501.696 87.000024 
L 501.888 89.096776 
L 502.08 91.28414 
L 502.272 92.989219 
L 502.334694 93.345306 
L 502.464 93.084457 
L 502.656 92.554377 
L 502.848 91.892301 
L 503.04 91.141565 
L 503.232 90.345504 
L 503.424 89.547453 
L 503.616 88.790747 
L 503.808 88.118722 
L 504 87.574713 
L 504.146939 87.271837 
L 504.192 87.337123 
L 504.384 87.728823 
L 504.576 88.259966 
L 504.768 88.870875 
L 504.96 89.501879 
L 505.152 90.093304 
L 505.344 90.585475 
L 505.518367 90.896327 
L 505.536 90.480139 
L 505.616327 87.761633 
L 505.728 88.007589 
L 505.92 88.65814 
L 506.112 89.417516 
L 506.304 90.077622 
L 506.42449 90.348098 
L 506.496 90.215915 
L 506.688 89.660007 
L 506.88 88.963283 
L 507.072 88.318078 
L 507.232653 87.957551 
L 507.264 88.035766 
L 507.456 88.724777 
L 507.648 89.679982 
L 507.84 90.76996 
L 508.032 91.86329 
L 508.224 92.828552 
L 508.416 93.534326 
L 508.457143 93.639184 
L 508.608 93.061365 
L 508.8 91.988686 
L 508.992 90.688697 
L 509.184 89.323409 
L 509.376 88.05483 
L 509.568 87.044971 
L 509.681633 86.635102 
L 509.76 87.075636 
L 509.952 88.782808 
L 510.144 90.834388 
L 510.336 92.548518 
L 510.416327 93.002449 
L 510.528 92.658767 
L 510.72 91.813397 
L 510.912 90.743387 
L 511.104 89.561633 
L 511.296 88.381031 
L 511.488 87.314476 
L 511.68 86.474866 
L 511.787755 86.145306 
L 511.872 86.755702 
L 512.064 88.914502 
L 512.256 91.578032 
L 512.448 94.054495 
L 512.620408 95.549388 
L 512.64 95.459617 
L 512.832 94.222528 
L 513.024 92.486281 
L 513.216 90.464023 
L 513.408 88.368904 
L 513.6 86.414071 
L 513.792 84.812672 
L 513.942857 83.941224 
L 513.984 84.079827 
L 514.176 85.030554 
L 514.368 86.331503 
L 514.56 87.778984 
L 514.752 89.169306 
L 514.944 90.298782 
L 515.069388 90.798367 
L 515.136 90.594784 
L 515.328 89.763044 
L 515.52 88.662229 
L 515.712 87.4133 
L 515.904 86.137216 
L 516.096 84.954938 
L 516.288 83.987426 
L 516.440816 83.451429 
L 516.48 83.654732 
L 516.672 85.300127 
L 516.864 87.391354 
L 517.056 89.067495 
L 517.102041 89.31218 
L 517.248 88.680658 
L 517.44 87.433063 
L 517.632 86.206022 
L 517.763265 85.65551 
L 517.824 87.083042 
L 518.008163 92.757551 
L 518.016 92.745874 
L 518.208 92.355717 
L 518.4 91.804836 
L 518.592 91.150928 
L 518.784 90.451686 
L 518.976 89.764809 
L 519.168 89.14799 
L 519.36 88.658926 
L 519.477551 88.447347 
L 519.552 88.804203 
L 519.744 90.295553 
L 519.936 91.651789 
L 519.967347 91.777959 
L 520.128 90.391843 
L 520.32 87.911143 
L 520.512 85.197436 
L 520.704 82.953328 
L 520.8 82.226939 
L 520.896 83.018098 
L 521.088 85.512988 
L 521.28 88.201976 
L 521.436735 89.686873 
L 521.472 89.584119 
L 521.664 88.650227 
L 521.856 87.466655 
L 522.048 86.55961 
L 522.073469 86.488163 
L 522.24 91.87752 
L 522.318367 93.982041 
L 522.432 93.442504 
L 522.624 92.060671 
L 522.816 90.389085 
L 523.008 88.77616 
L 523.2 87.570313 
L 523.24898 87.369796 
L 523.392 88.014594 
L 523.584 89.290953 
L 523.776 90.361774 
L 523.812245 90.480343 
L 523.968 89.963651 
L 524.16 89.042423 
L 524.352 88.303608 
L 524.37551 88.251429 
L 524.544 89.069271 
L 524.736 90.451922 
L 524.928 91.851807 
L 525.110204 92.757551 
L 525.12 92.729468 
L 525.312 91.943864 
L 525.504 90.819189 
L 525.696 89.514053 
L 525.888 88.187069 
L 526.08 86.996845 
L 526.272 86.101994 
L 526.334694 85.900408 
L 526.464 86.682828 
L 526.656 88.407648 
L 526.848 90.509072 
L 527.04 92.654602 
L 527.232 94.511742 
L 527.412245 95.696327 
L 527.424 95.63079 
L 527.616 93.745323 
L 527.808 91.289677 
L 527.97551 89.780914 
L 528 89.877812 
L 528.192 91.193215 
L 528.384 92.827598 
L 528.538776 93.737143 
L 528.576 93.250789 
L 528.768 88.842616 
L 528.930612 85.65551 
L 528.96 85.745705 
L 529.152 86.619013 
L 529.344 87.835843 
L 529.536 89.188387 
L 529.728 90.468833 
L 529.92 91.469371 
L 530.008163 91.777959 
L 530.112 91.135786 
L 530.304 89.313795 
L 530.496 87.867522 
L 530.497959 87.859592 
L 530.688 88.336741 
L 530.88 89.043615 
L 531.072 89.761493 
L 531.264 90.274688 
L 531.281633 90.304016 
L 531.456 89.518519 
L 531.648 88.235954 
L 531.84 86.9007 
L 532.032 85.909958 
L 532.065306 85.802449 
L 532.224 87.090615 
L 532.416 89.389371 
L 532.608 91.511768 
L 532.702041 92.169796 
L 532.8 91.737208 
L 532.992 90.456413 
L 533.184 88.857792 
L 533.376 87.246708 
L 533.568 85.928522 
L 533.681633 85.410612 
L 533.76 85.798724 
L 533.952 87.202748 
L 534.144 89.028479 
L 534.336 90.999479 
L 534.528 92.839314 
L 534.72 94.271546 
L 534.808163 94.716735 
L 534.912 93.383335 
L 535.104 89.531021 
L 535.296 85.700658 
L 535.395918 84.43102 
L 535.488 85.194524 
L 535.68 87.69115 
L 535.872 90.608585 
L 536.064 92.976492 
L 536.130612 93.492245 
L 536.256 91.850239 
L 536.448 88.149487 
L 536.620408 85.65551 
L 536.64 85.736514 
L 536.832 87.032852 
L 537.024 88.818507 
L 537.216 90.490296 
L 537.355102 91.288163 
L 537.408 90.902867 
L 537.6 88.545306 
L 537.792 86.187745 
L 537.844898 85.802449 
L 537.984 86.144712 
L 538.176 86.798947 
L 538.368 87.61155 
L 538.56 88.524717 
L 538.752 89.480647 
L 538.944 90.421536 
L 539.136 91.289582 
L 539.328 92.026982 
L 539.52 92.575933 
L 539.559184 92.659592 
L 539.712 90.004567 
L 539.804082 88.594286 
L 539.904 88.81129 
L 540.096 89.465619 
L 540.288 90.180349 
L 540.465306 90.634629 
L 540.48 90.569872 
L 540.672 89.145319 
L 540.864 87.202271 
L 541.056 85.544089 
L 541.126531 85.165714 
L 541.198531 92.512653 
L 541.248 92.385981 
L 541.44 91.600387 
L 541.632 90.585706 
L 541.824 89.658701 
L 541.959184 89.229894 
L 542.016 89.394956 
L 542.208 90.278488 
L 542.4 91.409981 
L 542.592 92.456556 
L 542.742857 93.002449 
L 542.784 92.227787 
L 542.976 85.950907 
L 543.134694 81.590204 
L 543.168 81.825808 
L 543.36 84.079572 
L 543.552 86.990993 
L 543.744 89.360995 
L 543.795918 89.752996 
L 543.936 89.242473 
L 544.128 88.185388 
L 544.32 87.131808 
L 544.457143 86.635102 
L 544.512 87.463582 
L 544.704 92.294842 
L 544.84898 95.206531 
L 544.896 95.007796 
L 545.088 93.835582 
L 545.28 92.244934 
L 545.472 90.451108 
L 545.664 88.669364 
L 545.856 87.114958 
L 546.048 86.003147 
L 546.073469 85.900408 
L 546.24 88.506945 
L 546.432 92.564804 
L 546.563265 94.471837 
L 546.624 94.060341 
L 546.816 92.087281 
L 547.008 89.485842 
L 547.2 86.764959 
L 547.392 84.433567 
L 547.542857 83.206531 
L 547.584 83.792228 
L 547.776 88.50138 
L 547.968 93.459806 
L 548.032653 94.471837 
L 548.16 93.387331 
L 548.352 90.883732 
L 548.544 88.150661 
L 548.736 86.106005 
L 548.767347 85.900408 
L 548.928 86.80285 
L 549.12 88.413104 
L 549.312 90.06671 
L 549.502041 91.190204 
L 549.504 91.187975 
L 549.696 90.890995 
L 549.888 90.468455 
L 550.08 89.964937 
L 550.272 89.425026 
L 550.464 88.893303 
L 550.656 88.414351 
L 550.848 88.032755 
L 550.971429 87.859592 
L 551.04 88.309338 
L 551.232 90.372092 
L 551.424 92.297565 
L 551.461224 92.512653 
L 551.616 91.786607 
L 551.808 90.460402 
L 552 88.876638 
L 552.192 87.263738 
L 552.384 85.850126 
L 552.576 84.864225 
L 552.587755 84.822857 
L 552.768 86.597073 
L 552.96 89.350202 
L 553.152 91.93843 
L 553.273469 93.002449 
L 553.344 92.762884 
L 553.536 91.717316 
L 553.728 90.472367 
L 553.92 89.504606 
L 553.959184 89.38418 
L 554.112 89.99117 
L 554.304 91.132242 
L 554.496 92.268649 
L 554.644898 92.85551 
L 554.688 92.097234 
L 554.88 87.10924 
L 554.889796 86.977959 
L 555.072 87.41737 
L 555.264 88.091452 
L 555.456 88.88633 
L 555.648 89.704572 
L 555.84 90.448745 
L 556.032 91.021418 
L 556.114286 91.190204 
L 556.224 90.331785 
L 556.416 88.001647 
L 556.608 85.724194 
L 556.702041 85.018776 
L 556.8 85.302915 
L 556.992 86.074193 
L 557.184 87.062176 
L 557.376 88.186574 
L 557.568 89.367093 
L 557.76 90.523443 
L 557.952 91.575332 
L 558.144 92.442469 
L 558.318367 93.002449 
L 558.336 92.890374 
L 558.528 90.690959 
L 558.72 88.117632 
L 558.808163 87.369796 
L 558.912 87.672757 
L 559.104 88.548689 
L 559.296 89.496824 
L 559.469388 90.083608 
L 559.488 90.013883 
L 559.68 88.806599 
L 559.872 87.179283 
L 560.064 85.803986 
L 560.130612 85.508571 
L 560.256 86.976114 
L 560.448 90.283662 
L 560.620408 92.512653 
L 560.64 92.469209 
L 560.832 91.846537 
L 561.024 90.965371 
L 561.216 89.966838 
L 561.408 88.992066 
L 561.6 88.182184 
L 561.746939 87.761633 
L 561.792 87.899579 
L 561.984 88.82339 
L 562.176 90.049972 
L 562.368 91.255046 
L 562.56 92.114332 
L 562.579592 92.169796 
L 562.752 90.888549 
L 562.944 88.817595 
L 563.136 86.970769 
L 563.216327 86.488163 
L 563.328 86.830886 
L 563.52 87.743074 
L 563.712 88.768858 
L 563.904 89.5657 
L 563.95102 89.686873 
L 564.096 89.106567 
L 564.288 87.945082 
L 564.48 86.717806 
L 564.672 85.840709 
L 564.685714 85.802449 
L 564.864 86.797661 
L 565.056 88.374857 
L 565.248 89.943704 
L 565.420408 90.896327 
L 565.44 90.878267 
L 565.632 90.624719 
L 565.824 90.267149 
L 566.016 89.855407 
L 566.208 89.439341 
L 566.4 89.0688 
L 566.592 88.793634 
L 566.644898 88.741224 
L 566.784 89.858321 
L 566.976 92.066061 
L 567.134694 93.394286 
L 567.168 93.343119 
L 567.36 92.95981 
L 567.552 92.449366 
L 567.744 91.844148 
L 567.936 91.176518 
L 568.128 90.478839 
L 568.32 89.783471 
L 568.512 89.122776 
L 568.704 88.529116 
L 568.896 88.034852 
L 569.088 87.672347 
L 569.093878 87.663673 
L 569.165878 90.308571 
L 569.28 90.226966 
L 569.472 90.036556 
L 569.664 89.79576 
L 569.856 89.523363 
L 570.048 89.238147 
L 570.24 88.958897 
L 570.432 88.704397 
L 570.624 88.49343 
L 570.808163 88.349388 
L 570.816 88.387966 
L 571.008 90.252492 
L 571.053061 90.553469 
L 571.2 90.338121 
L 571.392 89.944057 
L 571.584 89.457298 
L 571.776 88.915774 
L 571.968 88.357414 
L 572.16 87.820147 
L 572.352 87.341903 
L 572.544 86.960611 
L 572.669388 86.782041 
L 572.736 87.456215 
L 572.928 90.47182 
L 573.012245 91.386122 
L 573.12 91.228891 
L 573.312 90.825782 
L 573.504 90.31431 
L 573.696 89.752034 
L 573.888 89.196511 
L 574.08 88.705303 
L 574.272 88.335966 
L 574.334694 88.251429 
L 574.464 88.570335 
L 574.656 89.291868 
L 574.848 90.008221 
L 574.971429 90.308571 
L 575.04 90.140418 
L 575.232 89.419842 
L 575.424 88.487359 
L 575.616 87.541695 
L 575.808 86.781576 
L 575.902041 86.537143 
L 576 86.693454 
L 576.192 87.110963 
L 576.384 87.644225 
L 576.576 88.255677 
L 576.768 88.907759 
L 576.96 89.562906 
L 577.152 90.183558 
L 577.344 90.732151 
L 577.536 91.171124 
L 577.665306 91.386122 
L 577.728 91.142254 
L 577.92 89.949933 
L 578.112 88.46833 
L 578.304 87.190483 
L 578.4 86.782041 
L 578.496 87.120601 
L 578.688 88.128504 
L 578.88 89.405661 
L 579.072 90.745924 
L 579.264 91.943147 
L 579.456 92.79118 
L 579.477551 92.85551 
L 579.648 92.084635 
L 579.84 90.819316 
L 580.032 89.312266 
L 580.224 87.749285 
L 580.416 86.316177 
L 580.608 85.19874 
L 580.702041 84.822857 
L 580.8 85.24411 
L 580.992 86.422688 
L 581.184 87.9337 
L 581.376 89.615866 
L 581.568 91.307907 
L 581.76 92.848542 
L 581.952 94.076491 
L 582.073469 94.618776 
L 582.144 93.891125 
L 582.336 90.669638 
L 582.528 87.13706 
L 582.661224 85.508571 
L 582.72 85.674768 
L 582.912 86.474957 
L 583.104 87.542726 
L 583.296 88.713669 
L 583.488 89.823378 
L 583.68 90.707448 
L 583.787755 91.043265 
L 583.872 90.779396 
L 584.064 89.846165 
L 584.256 88.694743 
L 584.448 87.624189 
L 584.620408 86.977959 
L 584.64 87.015524 
L 584.832 87.528743 
L 585.024 88.247067 
L 585.216 89.087437 
L 585.408 89.966795 
L 585.6 90.80208 
L 585.792 91.510234 
L 585.984 92.008197 
L 585.991837 92.022857 
L 586.176 91.024488 
L 586.368 89.500417 
L 586.56 88.00043 
L 586.726531 87.124898 
L 586.752 87.182232 
L 586.944 87.791456 
L 587.136 88.639722 
L 587.328 89.623604 
L 587.52 90.639673 
L 587.712 91.584506 
L 587.904 92.354674 
L 588.04898 92.757551 
L 588.096 92.579646 
L 588.288 91.452054 
L 588.48 89.948019 
L 588.672 88.42571 
L 588.864 87.243297 
L 588.930612 86.977959 
L 589.056 87.213424 
L 589.248 87.739409 
L 589.44 88.392405 
L 589.632 89.089706 
L 589.824 89.748609 
L 590.016 90.286409 
L 590.155102 90.553469 
L 590.208 89.648831 
L 590.4 85.165714 
L 590.4 85.165714 
L 590.592 85.659202 
L 590.784 86.330712 
L 590.976 87.139387 
L 591.168 88.044368 
L 591.36 89.0048 
L 591.552 89.979824 
L 591.744 90.928581 
L 591.936 91.810216 
L 592.128 92.58387 
L 592.32 93.208686 
L 592.457143 93.541224 
L 592.512 93.323853 
L 592.704 92.144649 
L 592.896 90.594422 
L 593.088 89.040446 
L 593.28 87.849999 
L 593.338776 87.614694 
L 593.472 87.781965 
L 593.664 88.124003 
L 593.856 88.549935 
L 594.048 89.020423 
L 594.24 89.49613 
L 594.432 89.937717 
L 594.624 90.305847 
L 594.808163 90.553469 
L 594.816 90.529559 
L 595.008 89.616651 
L 595.2 88.296108 
L 595.392 86.892713 
L 595.584 85.731248 
L 595.689796 85.312653 
L 595.776 85.585531 
L 595.968 86.457073 
L 596.16 87.58697 
L 596.352 88.845714 
L 596.544 90.103798 
L 596.736 91.231712 
L 596.928 92.099951 
L 597.012245 92.365714 
L 597.12 91.782634 
L 597.312 90.16368 
L 597.504 88.468963 
L 597.64898 87.614694 
L 597.696 87.711052 
L 597.888 88.295706 
L 598.08 89.088 
L 598.272 89.954936 
L 598.464 90.763516 
L 598.656 91.380741 
L 598.726531 91.533061 
L 598.848 91.244337 
L 599.04 90.578645 
L 599.232 89.748996 
L 599.424 88.860752 
L 599.616 88.019276 
L 599.808 87.329932 
L 599.95102 86.977959 
L 600 87.230549 
L 600.192 88.862985 
L 600.384 90.85266 
L 600.576 92.313261 
L 600.587755 92.365714 
L 600.768 91.99942 
L 600.96 91.43594 
L 601.152 90.764169 
L 601.344 90.056057 
L 601.536 89.383552 
L 601.728 88.818603 
L 601.910204 88.447347 
L 601.92 88.465339 
L 602.112 89.043823 
L 602.304 89.862001 
L 602.496 90.641885 
L 602.644898 91.043265 
L 602.688 90.997628 
L 602.88 90.724893 
L 603.072 90.359862 
L 603.264 89.931022 
L 603.456 89.466862 
L 603.648 88.99587 
L 603.84 88.546536 
L 604.032 88.147347 
L 604.224 87.826792 
L 604.359184 87.663673 
L 604.416 88.439775 
L 604.604082 91.875918 
L 604.608 91.870367 
L 604.8 91.519094 
L 604.992 91.035732 
L 605.184 90.454802 
L 605.376 89.810822 
L 605.568 89.138311 
L 605.76 88.471788 
L 605.952 87.845772 
L 606.144 87.294782 
L 606.336 86.853337 
L 606.465306 86.635102 
L 606.528 86.791356 
L 606.72 87.459326 
L 606.912 88.345294 
L 607.104 89.362062 
L 607.296 90.422428 
L 607.488 91.439195 
L 607.68 92.325164 
L 607.872 92.993134 
L 607.934694 93.149388 
L 608.064 92.286749 
L 608.256 90.337261 
L 608.448 88.102466 
L 608.64 86.158861 
L 608.767347 85.312653 
L 608.832 85.525211 
L 609.024 86.516607 
L 609.216 87.775513 
L 609.408 88.953544 
L 609.57551 89.642792 
L 609.6 89.589121 
L 609.792 88.919562 
L 609.984 87.994322 
L 610.176 87.07509 
L 610.368 86.423556 
L 610.383673 86.390204 
L 610.56 87.881339 
L 610.752 90.183356 
L 610.944 92.016646 
L 610.971429 92.169796 
L 611.136 91.860571 
L 611.328 91.346833 
L 611.52 90.722052 
L 611.712 90.042613 
L 611.904 89.364899 
L 612.096 88.745297 
L 612.288 88.240189 
L 612.440816 87.957551 
L 612.48 88.031944 
L 612.672 88.585038 
L 612.864 89.340802 
L 613.056 90.14877 
L 613.248 90.858474 
L 613.420408 91.288163 
L 613.44 91.260253 
L 613.632 90.868406 
L 613.824 90.315798 
L 614.016 89.679469 
L 614.208 89.036458 
L 614.4 88.463804 
L 614.592 88.038547 
L 614.644898 87.957551 
L 614.784 88.123793 
L 614.976 88.441564 
L 615.168 88.836257 
L 615.36 89.279795 
L 615.552 89.744104 
L 615.744 90.201107 
L 615.936 90.62273 
L 616.128 90.980895 
L 616.32 91.247529 
L 616.359184 91.288163 
L 616.512 90.388188 
L 616.704 88.687696 
L 616.896 86.806038 
L 617.088 85.229634 
L 617.191837 84.675918 
L 617.28 85.155734 
L 617.472 86.808466 
L 617.664 88.698512 
L 617.856 90.099098 
L 617.877551 90.193812 
L 618.048 89.67384 
L 618.24 88.812202 
L 618.432 87.985227 
L 618.563265 87.614694 
L 618.624 90.694647 
L 618.661224 92.365714 
L 618.816 92.179796 
L 619.008 91.875526 
L 619.2 91.50424 
L 619.392 91.081462 
L 619.584 90.62272 
L 619.776 90.143541 
L 619.968 89.659449 
L 620.16 89.185973 
L 620.352 88.738639 
L 620.544 88.332972 
L 620.736 87.9845 
L 620.928 87.708748 
L 621.012245 87.614694 
L 621.12 87.991023 
L 621.312 89.03184 
L 621.504 90.211143 
L 621.696 91.135553 
L 621.746939 91.288163 
L 621.888 90.45529 
L 622.08 88.749761 
L 622.272 87.104662 
L 622.383673 86.488163 
L 622.464 86.703865 
L 622.656 87.453372 
L 622.848 88.429528 
L 623.04 89.504313 
L 623.232 90.549706 
L 623.424 91.437684 
L 623.608163 92.022857 
L 623.616 92.012382 
L 623.808 91.681926 
L 624 91.23056 
L 624.192 90.68902 
L 624.384 90.088044 
L 624.576 89.458369 
L 624.768 88.830733 
L 624.96 88.235872 
L 625.152 87.704526 
L 625.344 87.267431 
L 625.518367 86.977959 
L 625.536 87.045921 
L 625.728 88.198683 
L 625.92 89.830223 
L 626.112 91.542912 
L 626.304 92.939121 
L 626.4 93.394286 
L 626.496 92.339801 
L 626.688 89.014526 
L 626.88 85.43055 
L 627.036735 83.451429 
L 627.072 83.603972 
L 627.264 84.91256 
L 627.456 86.685601 
L 627.648 88.451423 
L 627.84 89.738353 
L 627.869388 89.8632 
L 628.032 89.423452 
L 628.224 88.64677 
L 628.416 87.799549 
L 628.608 87.101245 
L 628.702041 86.88 
L 628.8 87.725663 
L 628.992 90.153059 
L 629.093878 91.043265 
L 629.184 90.739731 
L 629.376 89.761738 
L 629.568 88.527652 
L 629.76 87.274238 
L 629.952 86.238262 
L 630.073469 85.802449 
L 630.144 86.011365 
L 630.336 86.836876 
L 630.528 87.924459 
L 630.72 89.130231 
L 630.912 90.31031 
L 631.104 91.320813 
L 631.296 92.017857 
L 631.297959 92.022857 
L 631.488 90.4539 
L 631.68 88.202449 
L 631.872 86.28501 
L 631.934694 85.900408 
L 632.064 86.220782 
L 632.256 86.906791 
L 632.448 87.759986 
L 632.64 88.685932 
L 632.832 89.590197 
L 633.024 90.378349 
L 633.216 90.955954 
L 633.257143 91.043265 
L 633.408 89.689516 
L 633.6 87.859592 
L 633.6 87.859592 
L 633.792 88.385782 
L 633.984 89.151034 
L 634.176 89.893582 
L 634.334694 90.304016 
L 634.368 90.20109 
L 634.56 89.238651 
L 634.752 87.958391 
L 634.944 86.789917 
L 635.069388 86.292245 
L 635.136 86.848467 
L 635.328 89.428074 
L 635.461224 90.798367 
L 635.52 90.606023 
L 635.712 89.600675 
L 635.904 88.340567 
L 636.096 87.245304 
L 636.195918 86.88 
L 636.288 87.14202 
L 636.48 87.984146 
L 636.672 89.016817 
L 636.864 89.986834 
L 637.053061 90.634629 
L 637.056 90.631095 
L 637.248 90.268313 
L 637.44 89.738101 
L 637.632 89.178055 
L 637.824 88.725766 
L 637.910204 88.594286 
L 638.016 89.11452 
L 638.208 90.586121 
L 638.4 92.040998 
L 638.497959 92.512653 
L 638.592 92.299278 
L 638.784 91.685785 
L 638.976 90.896107 
L 639.168 90.005643 
L 639.36 89.089789 
L 639.552 88.223944 
L 639.744 87.483506 
L 639.936 86.943872 
L 639.967347 86.88 
L 640.128 87.441491 
L 640.32 88.445388 
L 640.512 89.567756 
L 640.704 90.550592 
L 640.84898 91.043265 
L 640.896 90.940134 
L 641.088 90.301134 
L 641.28 89.439594 
L 641.472 88.525895 
L 641.664 87.730421 
L 641.828571 87.271837 
L 641.856 87.360067 
L 642.048 88.364817 
L 642.24 89.72112 
L 642.432 90.972656 
L 642.563265 91.533061 
L 642.624 91.461497 
L 642.816 91.118356 
L 643.008 90.665932 
L 643.2 90.192735 
L 643.392 89.787275 
L 643.542857 89.573878 
L 643.584 89.685868 
L 643.776 90.478874 
L 643.968 91.558794 
L 644.16 92.710991 
L 644.352 93.720825 
L 644.522449 94.324898 
L 644.544 94.265034 
L 644.736 93.500451 
L 644.928 92.425328 
L 645.12 91.189213 
L 645.312 89.941653 
L 645.504 88.832196 
L 645.696 88.010388 
L 645.746939 87.859592 
L 645.888 88.244905 
L 646.08 89.038161 
L 646.272 89.847844 
L 646.432653 90.304016 
L 646.464 90.234373 
L 646.656 89.531006 
L 646.848 88.607158 
L 647.04 87.817044 
L 647.118367 87.614694 
L 647.232 88.291747 
L 647.424 90.057514 
L 647.616 91.763697 
L 647.706122 92.267755 
L 647.808 91.924859 
L 648 90.96319 
L 648.192 89.753422 
L 648.384 88.490064 
L 648.576 87.367627 
L 648.768 86.580621 
L 648.783673 86.537143 
L 648.96 87.147016 
L 649.152 88.121841 
L 649.344 89.262112 
L 649.536 90.404877 
L 649.728 91.387184 
L 649.910204 92.022857 
L 649.92 92.010035 
L 650.112 91.666958 
L 650.304 91.183763 
L 650.496 90.610933 
L 650.688 89.998952 
L 650.88 89.398305 
L 651.072 88.859474 
L 651.264 88.432944 
L 651.379592 88.251429 
L 651.456 88.799556 
L 651.648 90.856173 
L 651.722449 91.386122 
L 651.84 91.158596 
L 652.032 90.649184 
L 652.224 90.007502 
L 652.416 89.277943 
L 652.608 88.504898 
L 652.8 87.732759 
L 652.992 87.005918 
L 653.184 86.368766 
L 653.376 85.865695 
L 653.485714 85.65551 
L 653.568 85.881532 
L 653.76 86.673259 
L 653.952 87.689599 
L 654.144 88.750862 
L 654.336 89.677357 
L 654.514286 90.259935 
L 654.528 90.242619 
L 654.72 89.880193 
L 654.912 89.361073 
L 655.104 88.782758 
L 655.296 88.242746 
L 655.488 87.838534 
L 655.542857 87.761633 
L 655.614857 91.288163 
L 655.68 91.219126 
L 655.872 90.953491 
L 656.064 90.611811 
L 656.256 90.215603 
L 656.448 89.786382 
L 656.64 89.345664 
L 656.832 88.914966 
L 657.024 88.515802 
L 657.216 88.169689 
L 657.257143 88.10449 
L 657.408 87.952027 
L 657.6 87.758604 
L 657.792 87.577298 
L 657.984 87.420407 
L 658.176 87.300231 
L 658.236735 87.271837 
L 658.368 87.477401 
L 658.56 87.897208 
L 658.752 88.421514 
L 658.944 89.008941 
L 659.136 89.618113 
L 659.328 90.207651 
L 659.52 90.73618 
L 659.712 91.16232 
L 659.853061 91.386122 
L 659.904 91.20299 
L 660.096 90.093699 
L 660.288 88.678535 
L 660.48 87.429554 
L 660.587755 86.977959 
L 660.672 87.092094 
L 660.864 87.446842 
L 661.056 87.90527 
L 661.248 88.43311 
L 661.44 88.996093 
L 661.632 89.559951 
L 661.824 90.090414 
L 662.016 90.553213 
L 662.208 90.91408 
L 662.302041 91.043265 
L 662.4 90.643648 
L 662.592 89.411071 
L 662.784 88.089081 
L 662.938776 87.369796 
L 662.976 87.429805 
L 663.168 87.857813 
L 663.36 88.441166 
L 663.552 89.120858 
L 663.744 89.83788 
L 663.936 90.533226 
L 664.128 91.147889 
L 664.32 91.622862 
L 664.408163 91.777959 
L 664.512 91.542745 
L 664.704 90.91728 
L 664.896 90.120662 
L 665.088 89.242825 
L 665.28 88.373708 
L 665.472 87.603244 
L 665.664 87.021371 
L 665.730612 86.88 
L 665.856 87.176499 
L 666.048 87.858692 
L 666.24 88.679973 
L 666.432 89.485448 
L 666.624 90.120224 
L 666.710204 90.308571 
L 666.816 90.183547 
L 667.008 89.857161 
L 667.2 89.442253 
L 667.392 88.985588 
L 667.584 88.533934 
L 667.776 88.134057 
L 667.968 87.832725 
L 668.032653 87.761633 
L 668.104653 90.700408 
L 668.16 90.646468 
L 668.352 90.379058 
L 668.544 90.020259 
L 668.736 89.61368 
L 668.928 89.202929 
L 669.12 88.831615 
L 669.312 88.543346 
L 669.404082 88.447347 
L 669.504 88.884381 
L 669.696 90.203358 
L 669.888 91.611131 
L 670.040816 92.365714 
L 670.08 92.270589 
L 670.272 91.550659 
L 670.464 90.572992 
L 670.656 89.560618 
L 670.848 88.736569 
L 670.946939 88.458465 
L 671.04 88.613109 
L 671.232 89.101041 
L 671.424 89.705843 
L 671.616 90.293948 
L 671.808 90.731794 
L 671.853061 90.798367 
L 672 89.875886 
L 672.192 88.177797 
L 672.342857 87.222857 
L 672.384 87.307826 
L 672.576 87.839307 
L 672.768 88.551938 
L 672.96 89.389981 
L 673.152 90.297696 
L 673.344 91.219346 
L 673.536 92.099192 
L 673.728 92.881497 
L 673.92 93.51052 
L 674.057143 93.835102 
L 674.112 93.673393 
L 674.304 92.867677 
L 674.496 91.786345 
L 674.688 90.557104 
L 674.88 89.307665 
L 675.072 88.165735 
L 675.264 87.259025 
L 675.379592 86.88 
L 675.456 87.205015 
L 675.648 88.464646 
L 675.84 90.059526 
L 676.032 91.616309 
L 676.224 92.76165 
L 676.261224 92.90449 
L 676.416 92.483502 
L 676.608 91.733126 
L 676.8 90.817618 
L 676.992 89.830522 
L 677.184 88.86538 
L 677.376 88.015734 
L 677.568 87.375127 
L 677.632653 87.222857 
L 677.76 87.353247 
L 677.952 87.606866 
L 678.144 87.918669 
L 678.336 88.276947 
L 678.528 88.669992 
L 678.72 89.086095 
L 678.912 89.513548 
L 679.104 89.940642 
L 679.296 90.35567 
L 679.488 90.746923 
L 679.68 91.102692 
L 679.872 91.411269 
L 680.064 91.660946 
L 680.179592 91.777959 
L 680.256 91.057359 
L 680.448 88.227339 
L 680.571429 86.88 
L 680.64 87.076549 
L 680.832 87.952153 
L 681.024 89.026418 
L 681.216 89.942119 
L 681.306122 90.215853 
L 681.408 89.972095 
L 681.6 89.256234 
L 681.792 88.435791 
L 681.984 87.784072 
L 682.040816 87.663673 
L 682.112816 91.190204 
L 682.176 91.120959 
L 682.368 90.855203 
L 682.56 90.517144 
L 682.752 90.120915 
L 682.944 89.68065 
L 683.136 89.210479 
L 683.328 88.724535 
L 683.52 88.236951 
L 683.712 87.761859 
L 683.904 87.313392 
L 684.096 86.905681 
L 684.288 86.552859 
L 684.48 86.269058 
L 684.587755 86.145306 
L 684.672 86.307464 
L 684.864 86.844989 
L 685.056 87.541932 
L 685.248 88.307197 
L 685.44 89.049688 
L 685.632 89.678309 
L 685.812245 90.083608 
L 685.824 90.070209 
L 686.016 89.757609 
L 686.208 89.311457 
L 686.4 88.794526 
L 686.592 88.269588 
L 686.784 87.799416 
L 686.976 87.446782 
L 687.036735 87.369796 
L 687.168 87.788489 
L 687.36 88.723545 
L 687.552 89.736875 
L 687.744 90.48755 
L 687.771429 90.553469 
L 687.936 90.233265 
L 688.128 89.675406 
L 688.32 89.054951 
L 688.512 88.514561 
L 688.653061 88.251429 
L 688.704 88.306582 
L 688.896 88.583337 
L 689.088 88.949418 
L 689.28 89.378966 
L 689.472 89.846118 
L 689.664 90.325013 
L 689.856 90.78979 
L 690.048 91.214587 
L 690.24 91.573544 
L 690.432 91.840798 
L 690.465306 91.875918 
L 690.624 91.611094 
L 690.816 91.169512 
L 691.008 90.627843 
L 691.2 90.020683 
L 691.392 89.382633 
L 691.584 88.748289 
L 691.776 88.15225 
L 691.968 87.629115 
L 692.16 87.213482 
L 692.277551 87.026939 
L 692.352 87.200787 
L 692.544 87.886306 
L 692.736 88.765104 
L 692.928 89.650567 
L 693.12 90.35608 
L 693.208163 90.568506 
L 693.312 90.413502 
L 693.504 89.97796 
L 693.696 89.443764 
L 693.888 88.922683 
L 694.08 88.526488 
L 694.138776 88.447347 
L 694.210776 90.896327 
L 694.272 90.774946 
L 694.464 90.173336 
L 694.656 89.409465 
L 694.848 88.706905 
L 694.995918 88.348261 
L 695.04 88.413415 
L 695.232 88.856807 
L 695.424 89.44929 
L 695.616 90.042152 
L 695.808 90.486682 
L 695.853061 90.553469 
L 696 89.630988 
L 696.192 87.932899 
L 696.342857 86.977959 
L 696.384 87.033325 
L 696.576 87.373882 
L 696.768 87.826944 
L 696.96 88.36154 
L 697.152 88.946699 
L 697.344 89.551452 
L 697.536 90.144828 
L 697.728 90.695857 
L 697.92 91.173568 
L 698.112 91.546992 
L 698.204082 91.68 
L 698.304 91.412234 
L 698.496 90.613754 
L 698.688 89.672405 
L 698.88 88.862721 
L 698.987755 88.568669 
L 699.072 88.7415 
L 699.264 89.357655 
L 699.456 90.105265 
L 699.648 90.765981 
L 699.771429 91.043265 
L 699.84 90.688202 
L 700.032 89.059712 
L 700.224 87.539602 
L 700.261224 87.369796 
L 700.416 87.665224 
L 700.608 88.206097 
L 700.8 88.849729 
L 700.992 89.499521 
L 701.184 90.058876 
L 701.363265 90.41422 
L 701.376 90.400416 
L 701.568 90.094907 
L 701.76 89.65722 
L 701.952 89.160643 
L 702.144 88.678461 
L 702.336 88.28396 
L 702.465306 88.10449 
L 702.528 90.651969 
L 702.537306 90.896327 
L 702.72 90.710889 
L 702.912 90.43716 
L 703.104 90.10665 
L 703.296 89.743778 
L 703.488 89.372965 
L 703.68 89.018627 
L 703.872 88.705186 
L 704.064 88.457059 
L 704.179592 88.349388 
L 704.251592 91.043265 
L 704.256 91.039233 
L 704.448 90.813011 
L 704.64 90.502485 
L 704.832 90.129317 
L 705.024 89.715172 
L 705.216 89.281711 
L 705.408 88.8506 
L 705.6 88.4435 
L 705.792 88.082076 
L 705.984 87.78799 
L 706.138776 87.614694 
L 706.176 87.669032 
L 706.368 88.072828 
L 706.56 88.62805 
L 706.752 89.258792 
L 706.944 89.889146 
L 707.136 90.443207 
L 707.328 90.845067 
L 707.363265 90.896327 
L 707.52 90.112289 
L 707.712 88.787172 
L 707.853061 88.10449 
L 707.904 88.143963 
L 708.096 88.331123 
L 708.288 88.571133 
L 708.48 88.853655 
L 708.672 89.168352 
L 708.864 89.504885 
L 709.056 89.852917 
L 709.248 90.202109 
L 709.44 90.542123 
L 709.632 90.862622 
L 709.824 91.153267 
L 710.016 91.403721 
L 710.208 91.603644 
L 710.302041 91.68 
L 710.4 90.9504 
L 710.592 88.731738 
L 710.784 86.920224 
L 710.791837 86.88 
L 710.976 87.320174 
L 711.168 87.988123 
L 711.36 88.77448 
L 711.552 89.582947 
L 711.744 90.317224 
L 711.936 90.881011 
L 712.016327 91.043265 
L 712.128 90.833843 
L 712.32 90.291259 
L 712.512 89.626409 
L 712.704 88.96542 
L 712.896 88.434419 
L 712.995918 88.251429 
L 713.088 88.51556 
L 713.28 89.379257 
L 713.472 90.388532 
L 713.664 91.2077 
L 713.730612 91.386122 
L 713.856 91.173386 
L 714.048 90.711756 
L 714.24 90.133276 
L 714.432 89.491708 
L 714.624 88.840815 
L 714.816 88.234357 
L 715.008 87.726096 
L 715.2 87.369796 
L 715.2 87.369796 
L 715.392 87.58779 
L 715.584 87.881287 
L 715.776 88.234357 
L 715.968 88.63107 
L 716.16 89.055497 
L 716.352 89.491708 
L 716.544 89.923775 
L 716.736 90.335767 
L 716.928 90.711756 
L 717.12 91.035811 
L 717.312 91.292004 
L 717.404082 91.386122 
L 717.504 90.683463 
L 717.696 88.596313 
L 717.888 86.908002 
L 717.893878 86.88 
L 718.08 87.304538 
L 718.272 87.947309 
L 718.464 88.689173 
L 718.656 89.420089 
L 718.848 90.030016 
L 718.995918 90.348098 
L 719.04 90.294703 
L 719.232 89.950988 
L 719.424 89.482854 
L 719.616 88.966153 
L 719.808 88.476735 
L 720 88.090451 
L 720.097959 87.957551 
L 720.192 88.028537 
L 720.384 88.221976 
L 720.576 88.468369 
L 720.768 88.753055 
L 720.96 89.061377 
L 721.152 89.378674 
L 721.344 89.690286 
L 721.536 89.981555 
L 721.728 90.23782 
L 721.92 90.444423 
L 722.057143 90.553469 
L 722.112 90.48974 
L 722.304 90.151341 
L 722.496 89.700949 
L 722.688 89.227075 
L 722.88 88.818228 
L 723.036735 88.594286 
L 723.072 88.626707 
L 723.264 88.865592 
L 723.456 89.189426 
L 723.648 89.57013 
L 723.84 89.979629 
L 724.032 90.389844 
L 724.224 90.772698 
L 724.416 91.100113 
L 724.608 91.344012 
L 724.653061 91.386122 
L 724.8 90.743105 
L 724.992 89.479066 
L 725.184 88.204627 
L 725.338776 87.516735 
L 725.376 87.608478 
L 725.568 88.344103 
L 725.76 89.343988 
L 725.952 90.368342 
L 726.144 91.177373 
L 726.220408 91.386122 
L 726.336 91.111349 
L 726.528 90.409093 
L 726.72 89.60373 
L 726.912 88.930248 
L 727.004082 88.722955 
L 727.104 89.049103 
L 727.296 90.021676 
L 727.488 91.168268 
L 727.68 92.15449 
L 727.787755 92.512653 
L 727.872 91.994607 
L 728.064 90.133865 
L 728.256 87.9247 
L 728.448 86.101422 
L 728.522449 85.65551 
L 728.64 86.229949 
L 728.832 87.678696 
L 729.024 89.232644 
L 729.208163 90.259935 
L 729.216 90.245173 
L 729.408 89.639459 
L 729.6 88.788631 
L 729.792 88.021747 
L 729.893878 87.761633 
L 729.984 87.896849 
L 730.176 88.316127 
L 730.368 88.856179 
L 730.56 89.446762 
L 730.752 90.017634 
L 730.944 90.498553 
L 731.118367 90.798367 
L 731.136 90.762149 
L 731.328 90.164586 
L 731.52 89.315174 
L 731.712 88.386509 
L 731.904 87.551187 
L 732.096 86.981802 
L 732.097959 86.977959 
L 732.288 87.459383 
L 732.48 88.158824 
L 732.672 88.989633 
L 732.864 89.868753 
L 733.056 90.713123 
L 733.248 91.439685 
L 733.44 91.96538 
L 733.469388 92.022857 
L 733.632 91.809618 
L 733.824 91.457723 
L 734.016 91.027331 
L 734.208 90.549971 
L 734.4 90.057168 
L 734.592 89.580451 
L 734.784 89.151347 
L 734.976 88.801382 
L 735.134694 88.594286 
L 735.168 88.672117 
L 735.36 89.352762 
L 735.552 90.292503 
L 735.744 91.303256 
L 735.936 92.196936 
L 736.114286 92.757551 
L 736.128 92.718268 
L 736.32 91.885333 
L 736.512 90.69226 
L 736.704 89.382452 
L 736.896 88.199314 
L 737.088 87.386249 
L 737.093878 87.369796 
L 737.28 87.578777 
L 737.472 87.878042 
L 737.664 88.239409 
L 737.856 88.639761 
L 738.048 89.055977 
L 738.24 89.464939 
L 738.432 89.843528 
L 738.624 90.168625 
L 738.816 90.41711 
L 738.881633 90.480343 
L 739.008 90.38565 
L 739.2 90.188437 
L 739.392 89.941567 
L 739.584 89.661607 
L 739.776 89.365122 
L 739.968 89.068681 
L 740.16 88.788847 
L 740.352 88.542189 
L 740.544 88.345271 
L 740.669388 88.251429 
L 740.736 88.378295 
L 740.928 88.960762 
L 741.12 89.678404 
L 741.312 90.292533 
L 741.404082 90.480343 
L 741.504 90.181219 
L 741.696 89.284376 
L 741.888 88.252552 
L 742.08 87.429336 
L 742.138776 87.271837 
L 742.272 87.556476 
L 742.464 88.148218 
L 742.656 88.88161 
L 742.848 89.675708 
L 743.04 90.44957 
L 743.232 91.122254 
L 743.424 91.612818 
L 743.461224 91.68 
L 743.616 91.167543 
L 743.808 90.219579 
L 744 89.118324 
L 744.192 88.069567 
L 744.384 87.279092 
L 744.440816 87.124898 
L 744.576 87.443457 
L 744.768 88.121714 
L 744.96 88.928359 
L 745.152 89.711801 
L 745.344 90.320451 
L 745.420408 90.480343 
L 745.536 90.305946 
L 745.728 89.869766 
L 745.92 89.338027 
L 746.112 88.811425 
L 746.304 88.390657 
L 746.4 88.251429 
L 746.496 88.460077 
L 746.688 89.108986 
L 746.88 89.879435 
L 747.072 90.54669 
L 747.183673 90.798367 
L 747.264 90.63324 
L 747.456 90.019848 
L 747.648 89.257827 
L 747.84 88.545349 
L 748.016327 88.10449 
L 748.032 88.133927 
L 748.224 88.723873 
L 748.416 89.545003 
L 748.608 90.31933 
L 748.75102 90.700408 
L 748.8 90.642159 
L 748.992 90.324948 
L 749.184 89.898153 
L 749.376 89.404389 
L 749.568 88.886273 
L 749.76 88.386422 
L 749.952 87.947451 
L 750.144 87.611976 
L 750.220408 87.516735 
L 750.336 87.650291 
L 750.528 87.948572 
L 750.72 88.323332 
L 750.912 88.75272 
L 751.104 89.214884 
L 751.296 89.687973 
L 751.488 90.150137 
L 751.68 90.579525 
L 751.872 90.954285 
L 752.064 91.252566 
L 752.179592 91.386122 
L 752.256 91.12649 
L 752.448 90.093326 
L 752.64 88.846639 
L 752.832 87.800791 
L 752.914286 87.516735 
L 753.024 87.792639 
L 753.216 88.541092 
L 753.408 89.385929 
L 753.6 90.045191 
L 753.64898 90.149731 
L 753.792 89.741639 
L 753.984 88.912423 
L 754.176 88.033085 
L 754.368 87.401319 
L 754.383673 87.369796 
L 754.56 88.686123 
L 754.752 90.578829 
L 754.873469 91.386122 
L 754.944 91.158268 
L 755.136 90.147156 
L 755.328 89.072038 
L 755.436735 88.678873 
L 755.52 88.948834 
L 755.712 89.946652 
L 755.904 90.965032 
L 756 91.288163 
L 756.096 90.649846 
L 756.288 88.661876 
L 756.48 87.023613 
L 756.489796 86.977959 
L 756.672 87.353037 
L 756.864 87.931648 
L 757.056 88.607375 
L 757.248 89.287592 
L 757.44 89.879671 
L 757.632 90.290987 
L 757.640816 90.304016 
L 757.824 90.026486 
L 758.016 89.60071 
L 758.208 89.103907 
L 758.4 88.604152 
L 758.592 88.169519 
L 758.784 87.868082 
L 758.791837 87.859592 
L 758.976 90.207665 
L 759.036735 90.798367 
L 759.168 90.666888 
L 759.36 90.394105 
L 759.552 90.053885 
L 759.744 89.677699 
L 759.936 89.297017 
L 760.128 88.94331 
L 760.32 88.648048 
L 760.506122 88.447347 
L 760.512 88.455973 
L 760.704 88.918992 
L 760.896 89.581082 
L 761.088 90.216707 
L 761.240816 90.553469 
L 761.28 90.518811 
L 761.472 90.291388 
L 761.664 89.985894 
L 761.856 89.626275 
L 762.048 89.236478 
L 762.24 88.84045 
L 762.432 88.462138 
L 762.624 88.125488 
L 762.816 87.854448 
L 762.955102 87.712653 
L 763.008 87.885427 
L 763.2 88.836888 
L 763.392 90.10728 
L 763.584 91.446561 
L 763.776 92.604689 
L 763.934694 93.247347 
L 763.968 93.117914 
L 764.16 91.907625 
L 764.352 90.297668 
L 764.544 88.828284 
L 764.669388 88.202449 
L 764.736 88.273459 
L 764.928 88.57035 
L 765.12 88.963348 
L 765.312 89.400273 
L 765.504 89.828944 
L 765.696 90.197183 
L 765.888 90.45281 
L 765.893878 90.458302 
L 766.08 90.16937 
L 766.272 89.735622 
L 766.464 89.225814 
L 766.656 88.702322 
L 766.848 88.227521 
L 767.04 87.863787 
L 767.118367 87.761633 
L 767.232 89.014756 
L 767.424 91.721642 
L 767.461224 92.022857 
L 767.616 91.311113 
L 767.808 89.986752 
L 768 88.494395 
L 768.192 87.177034 
L 768.342857 86.488163 
L 768.384 86.616337 
L 768.576 87.616328 
L 768.768 88.841305 
L 768.955102 89.686873 
L 768.96 89.671366 
L 769.152 88.616524 
L 769.344 87.163086 
L 769.536 86.011722 
L 769.567347 85.900408 
L 769.728 87.534376 
L 769.92 90.205738 
L 770.057143 91.533061 
L 770.112 91.459798 
L 770.304 91.109822 
L 770.496 90.644401 
L 770.688 90.103023 
L 770.88 89.525179 
L 771.072 88.950357 
L 771.264 88.418046 
L 771.456 87.967735 
L 771.648 87.638914 
L 771.673469 87.606531 
L 771.84 88.356532 
L 772.032 89.611273 
L 772.224 90.699022 
L 772.285714 90.912653 
L 772.416 90.20012 
L 772.608 88.606692 
L 772.8 87.080662 
L 772.897959 86.586122 
L 772.992 86.867305 
L 773.184 87.761896 
L 773.376 88.824129 
L 773.568 89.737557 
L 773.673469 90.061567 
L 773.76 89.861287 
L 773.952 89.166051 
L 774.144 88.328851 
L 774.336 87.599238 
L 774.44898 87.320816 
L 774.528 87.53875 
L 774.72 88.334951 
L 774.912 89.360807 
L 775.104 90.431967 
L 775.296 91.36408 
L 775.469388 91.933061 
L 775.488 91.881041 
L 775.68 90.977483 
L 775.872 89.76388 
L 776.064 88.753771 
L 776.122449 88.564996 
L 776.256 88.95139 
L 776.448 89.795418 
L 776.64 90.641367 
L 776.77551 91.035102 
L 776.832 90.885255 
L 777.024 90.105903 
L 777.216 89.075866 
L 777.408 88.013034 
L 777.6 87.135297 
L 777.714286 86.790204 
L 777.792 87.01638 
L 777.984 87.862766 
L 778.176 88.95011 
L 778.368 90.068199 
L 778.56 91.00682 
L 778.693878 91.443265 
L 778.752 91.287044 
L 778.944 90.461029 
L 779.136 89.424193 
L 779.328 88.521836 
L 779.428571 88.218776 
L 779.52 88.394385 
L 779.712 88.969853 
L 779.904 89.656484 
L 780.096 90.249696 
L 780.204082 90.465649 
L 780.288 90.192521 
L 780.48 89.213586 
L 780.672 88.028895 
L 780.864 86.991688 
L 780.979592 86.586122 
L 781.056 86.710298 
L 781.248 87.157964 
L 781.44 87.744336 
L 781.632 88.400179 
L 781.824 89.056257 
L 782.016 89.643335 
L 782.208 90.092179 
L 782.285714 90.218776 
L 782.4 89.069208 
L 782.489796 88.218776 
L 782.592 88.286786 
L 782.784 88.46128 
L 782.976 88.683506 
L 783.168 88.937753 
L 783.36 89.208311 
L 783.552 89.47947 
L 783.744 89.73552 
L 783.936 89.960751 
L 784.128 90.139453 
L 784.244898 90.218776 
L 784.32 90.024227 
L 784.512 89.219215 
L 784.704 88.489266 
L 784.734694 88.422857 
L 784.896 88.917629 
L 785.088 89.799207 
L 785.28 90.754528 
L 785.472 91.525493 
L 785.55102 91.72898 
L 785.664 91.44195 
L 785.856 90.730685 
L 786.048 89.836602 
L 786.24 88.873937 
L 786.432 87.956928 
L 786.624 87.199812 
L 786.77551 86.790204 
L 786.816 86.872436 
L 787.008 87.458624 
L 787.2 88.259548 
L 787.392 89.12675 
L 787.584 89.911768 
L 787.776 90.466143 
L 787.795918 90.50449 
L 787.968 89.866506 
L 788.16 88.841061 
L 788.352 87.966095 
L 788.408163 87.810612 
L 788.544 88.099895 
L 788.736 88.720784 
L 788.928 89.420325 
L 789.12 90.01052 
L 789.22449 90.218776 
L 789.312 90.124299 
L 789.504 89.841297 
L 789.696 89.476521 
L 789.888 89.057151 
L 790.08 88.610369 
L 790.272 88.163356 
L 790.464 87.743293 
L 790.656 87.377361 
L 790.848 87.092741 
L 790.938776 86.994286 
L 791.04 87.117188 
L 791.232 87.451219 
L 791.424 87.877966 
L 791.616 88.350612 
L 791.808 88.822343 
L 792 89.246342 
L 792.192 89.575796 
L 792.285714 89.688163 
L 792.384 89.56635 
L 792.576 89.191846 
L 792.768 88.801144 
L 792.897959 88.626939 
L 792.96 88.676746 
L 793.152 88.90014 
L 793.344 89.197511 
L 793.536 89.529208 
L 793.728 89.855578 
L 793.92 90.136967 
L 794.112 90.333724 
L 794.122449 90.341224 
L 794.304 89.971086 
L 794.496 89.392328 
L 794.688 88.783701 
L 794.88 88.310896 
L 794.938776 88.218776 
L 795.072 88.467536 
L 795.264 89.012675 
L 795.456 89.629388 
L 795.648 90.151983 
L 795.755102 90.341224 
L 795.84 90.185116 
L 796.032 89.635919 
L 796.224 88.96255 
L 796.416 88.346634 
L 796.571429 88.014694 
L 796.608 88.047183 
L 796.8 88.292885 
L 796.992 88.631032 
L 797.184 89.015361 
L 797.376 89.399611 
L 797.568 89.737521 
L 797.76 89.98283 
L 797.795918 90.014694 
L 797.952 87.395014 
L 798 86.790204 
L 798.144 87.320795 
L 798.336 88.389976 
L 798.528 89.503492 
L 798.714286 90.245241 
L 798.72 90.234935 
L 798.912 89.661168 
L 799.104 88.843922 
L 799.296 88.076419 
L 799.428571 87.72898 
L 799.488 87.860223 
L 799.68 88.54145 
L 799.872 89.38648 
L 800.064 90.097811 
L 800.142857 90.281976 
L 800.256 90.003054 
L 800.448 89.270234 
L 800.64 88.459418 
L 800.832 87.858594 
L 800.857143 87.810612 
L 800.979592 91.035102 
L 801.024 90.982691 
L 801.216 90.651809 
L 801.408 90.201105 
L 801.6 89.697219 
L 801.792 89.206792 
L 801.984 88.796463 
L 802.142857 88.564996 
L 802.176 88.630234 
L 802.368 89.180654 
L 802.56 89.942722 
L 802.752 90.802447 
L 802.944 91.64584 
L 803.136 92.358909 
L 803.306122 92.790204 
L 803.328 92.67649 
L 803.52 90.843316 
L 803.712 89.127193 
L 803.714286 89.116735 
L 803.904 89.232695 
L 804.096 89.397804 
L 804.288 89.596272 
L 804.48 89.813361 
L 804.672 90.034336 
L 804.864 90.244457 
L 805.056 90.42899 
L 805.248 90.573197 
L 805.346939 90.626939 
L 805.44 90.378938 
L 805.632 89.585744 
L 805.824 88.627069 
L 806.016 87.761011 
L 806.163265 87.320816 
L 806.208 87.423548 
L 806.4 88.1195 
L 806.592 89.041054 
L 806.784 89.935536 
L 806.976 90.550271 
L 806.979592 90.557486 
L 807.168 90.16683 
L 807.36 89.580809 
L 807.552 88.970699 
L 807.744 88.503141 
L 807.795918 88.422857 
L 807.936 88.821678 
L 808.128 89.641546 
L 808.32 90.40627 
L 808.408163 90.626939 
L 808.512 90.32222 
L 808.704 89.452953 
L 808.896 88.421506 
L 809.088 87.505093 
L 809.22449 87.075918 
L 809.28 87.167024 
L 809.472 87.623112 
L 809.664 88.235234 
L 809.856 88.921251 
L 810.048 89.599028 
L 810.24 90.186424 
L 810.432 90.601304 
L 810.44898 90.626939 
L 810.624 90.331157 
L 810.816 89.855344 
L 811.008 89.296702 
L 811.2 88.733032 
L 811.392 88.242135 
L 811.584 87.901813 
L 811.591837 87.892245 
L 811.776 88.65999 
L 811.968 89.842415 
L 812.16 91.171077 
L 812.352 92.398886 
L 812.544 93.278749 
L 812.571429 93.361633 
L 812.736 92.981844 
L 812.928 92.360507 
L 813.12 91.60183 
L 813.312 90.763168 
L 813.504 89.901877 
L 813.696 89.07531 
L 813.888 88.340824 
L 814.08 87.755772 
L 814.204082 87.484082 
L 814.272 87.566647 
L 814.464 87.898811 
L 814.656 88.337922 
L 814.848 88.834328 
L 815.04 89.338377 
L 815.232 89.800414 
L 815.424 90.170789 
L 815.55102 90.341224 
L 815.616 90.193829 
L 815.808 89.511059 
L 816 88.642622 
L 816.192 87.824312 
L 816.367347 87.320816 
L 816.384 87.346453 
L 816.576 87.759746 
L 816.768 88.341326 
L 816.96 89.02168 
L 817.152 89.731294 
L 817.344 90.400653 
L 817.536 90.960244 
L 817.714286 91.320816 
L 817.728 91.296705 
L 817.92 90.773379 
L 818.112 90.025598 
L 818.304 89.230515 
L 818.496 88.565284 
L 818.612245 88.300408 
L 818.688 88.477575 
L 818.88 89.198063 
L 819.072 90.026474 
L 819.264 90.610262 
L 819.265306 90.612588 
L 819.456 90.097837 
L 819.648 89.358029 
L 819.84 88.710424 
L 819.918367 88.545306 
L 820.032 88.874338 
L 820.224 89.728099 
L 820.416 90.724792 
L 820.608 91.596761 
L 820.734694 91.973878 
L 820.8 91.78554 
L 820.992 90.917582 
L 821.184 89.814287 
L 821.376 88.775175 
L 821.55102 88.137143 
L 821.568 88.162233 
L 821.76 88.558988 
L 821.952 89.117048 
L 822.144 89.769736 
L 822.336 90.450377 
L 822.528 91.092293 
L 822.72 91.628808 
L 822.897959 91.973878 
L 822.912 91.905414 
L 823.104 90.296132 
L 823.296 88.147481 
L 823.488 86.494205 
L 823.510204 86.382041 
L 823.68 87.345075 
L 823.872 88.832193 
L 824.020408 89.639118 
L 824.064 89.451186 
L 824.256 88.03687 
L 824.448 86.507439 
L 824.530612 86.096327 
L 824.64 86.395351 
L 824.832 87.160517 
L 825.024 88.125924 
L 825.216 89.167894 
L 825.408 90.162749 
L 825.6 90.986809 
L 825.755102 91.443265 
L 825.792 91.363602 
L 825.984 90.76642 
L 826.176 89.944921 
L 826.368 89.011456 
L 826.56 88.078372 
L 826.752 87.25802 
L 826.944 86.662749 
L 826.979592 86.586122 
L 827.136 86.986313 
L 827.328 87.716264 
L 827.52 88.5707 
L 827.712 89.401897 
L 827.904 90.062132 
L 828 90.281976 
L 828.096 90.134969 
L 828.288 89.69348 
L 828.48 89.13767 
L 828.672 88.566322 
L 828.864 88.078214 
L 829.020408 87.810612 
L 829.056 89.339652 
L 829.092408 90.912653 
L 829.248 90.684406 
L 829.44 90.291881 
L 829.632 89.809568 
L 829.824 89.272367 
L 830.016 88.715178 
L 830.208 88.172902 
L 830.4 87.680439 
L 830.592 87.272689 
L 830.77551 86.994286 
L 830.784 87.002877 
L 830.976 87.248013 
L 831.168 87.577673 
L 831.36 87.973002 
L 831.552 88.415147 
L 831.744 88.885252 
L 831.936 89.364464 
L 832.128 89.833928 
L 832.32 90.274789 
L 832.512 90.668195 
L 832.704 90.995289 
L 832.896 91.237219 
L 832.897959 91.239184 
L 833.088 91.025731 
L 833.28 90.732045 
L 833.472 90.378015 
L 833.664 89.981791 
L 833.856 89.561521 
L 834.048 89.135356 
L 834.24 88.721444 
L 834.432 88.337937 
L 834.624 88.002982 
L 834.816 87.734731 
L 834.938776 87.606531 
L 835.008 87.668755 
L 835.2 87.905121 
L 835.392 88.215184 
L 835.584 88.573456 
L 835.776 88.954444 
L 835.968 89.332657 
L 836.16 89.682604 
L 836.352 89.978796 
L 836.544 90.195739 
L 836.571429 90.218776 
L 836.736 89.008911 
L 836.928 87.094628 
L 837.061224 86.177959 
L 837.12 86.255104 
L 837.312 86.584094 
L 837.504 87.011994 
L 837.696 87.51413 
L 837.888 88.065827 
L 838.08 88.642408 
L 838.272 89.2192 
L 838.464 89.771526 
L 838.656 90.274711 
L 838.848 90.70408 
L 839.04 91.034958 
L 839.102041 91.116735 
L 839.232 90.382234 
L 839.424 88.768398 
L 839.616 87.466108 
L 839.632653 87.402449 
L 839.808 87.688279 
L 840 88.146471 
L 840.192 88.685836 
L 840.384 89.233642 
L 840.576 89.71716 
L 840.768 90.06366 
L 840.795918 90.098302 
L 840.96 89.763605 
L 841.152 89.189478 
L 841.344 88.506627 
L 841.536 87.807602 
L 841.728 87.184957 
L 841.92 86.73124 
L 841.959184 86.667755 
L 842.112 87.686817 
L 842.304 89.593757 
L 842.496 91.421275 
L 842.612245 92.137143 
L 842.688 91.99692 
L 842.88 91.524033 
L 843.072 90.913214 
L 843.264 90.202765 
L 843.456 89.430988 
L 843.648 88.636184 
L 843.84 87.856656 
L 844.032 87.130704 
L 844.224 86.49663 
L 844.416 85.992737 
L 844.530612 85.769796 
L 844.608 85.900762 
L 844.8 86.347045 
L 844.992 86.928346 
L 845.184 87.597267 
L 845.376 88.306411 
L 845.568 89.008382 
L 845.76 89.655781 
L 845.952 90.201211 
L 846.144 90.597275 
L 846.163265 90.626939 
L 846.336 90.13314 
L 846.528 89.317137 
L 846.72 88.447801 
L 846.912 87.760922 
L 846.979592 87.606531 
L 847.104 87.931222 
L 847.296 88.696656 
L 847.488 89.574774 
L 847.68 90.329783 
L 847.795918 90.626939 
L 847.872 90.572951 
L 848.064 90.396849 
L 848.256 90.17234 
L 848.448 89.910304 
L 848.64 89.621618 
L 848.832 89.31716 
L 849.024 89.007808 
L 849.216 88.704442 
L 849.408 88.417939 
L 849.6 88.159177 
L 849.792 87.939034 
L 849.984 87.768389 
L 850.040816 87.72898 
L 850.176 88.10909 
L 850.368 88.929149 
L 850.56 89.854032 
L 850.752 90.635204 
L 850.857143 90.912653 
L 850.944 90.549664 
L 851.136 89.31943 
L 851.265306 88.708571 
L 851.328 88.881528 
L 851.52 89.727146 
L 851.712 90.777927 
L 851.904 91.684202 
L 852 91.973878 
L 852.096 91.824766 
L 852.288 91.378109 
L 852.48 90.72 
" clip-path="url(#p0c01dea0d3)" style="fill: none; stroke: #000000; stroke-width: 1.5; stroke-linecap: square"/>
   </g>
   <g id="patch_3">
    <path d="M 85.32000 159.24000 L 85.32000 19.80000" style="fill: none; stroke: #000000; stroke-width: 0.8; stroke-linejoin: miter; stroke-linecap: square"/>
   </g>
   <g id="patch_4">
    <path d="M 852.60000 159.24000 L 852.60000 19.80000" style="fill: none; stroke: #000000; stroke-width: 0.8; stroke-linejoin: miter; stroke-linecap: square"/>
   </g>
   <g id="patch_5">
    <path d="M 85.32000 159.24000 L 852.60000 159.24000" style="fill: none; stroke: #000000; stroke-width: 0.8; stroke-linejoin: miter; stroke-linecap: square"/>
   </g>
   <g id="patch_6">
    <path d="M 85.32000 19.80000 L 852.60000 19.80000" style="fill: none; stroke: #000000; stroke-width: 0.8; stroke-linejoin: miter; stroke-linecap: square"/>
   </g>
  </g>
  <g id="axes_2">
   <g id="patch_7">
    <path d="M 85.26 345.036 
L 852.48 345.036 
L 852.48 205.452 
L 85.26 205.452 
z
" style="fill: #ffffff"/>
   </g>
   <g id="matplotlib.axis_3">
    <g id="xtick_7">
     <g id="line2d_24">
      <path d="M 85.32000 345.24000 L 85.32000 205.56000" clip-path="url(#p9f6015d6d9)" style="fill: none; stroke: #b0b0b0; stroke-width: 0.8; stroke-linecap: square"/>
     </g>
     <g id="line2d_25">
      <g>
       <use xlink:href="#m1504cfccaf" x="85.32000" y="345.24000" style="stroke: #000000; stroke-width: 0.8"/>
      </g>
     </g>
     <g id="text_14">
      <text class="lbl" transform="translate(82.0787 359.6344)" font-size="10" textLength="5.039" lengthAdjust="spacingAndGlyphs">0</text>
      <g aria-hidden="true" transform="translate(82.0787 359.6344) scale(0.1 -0.1)">
       <use xlink:href="#DejaVuSans-30"/>
      </g>
     </g>
    </g>
    <g id="xtick_8">
     <g id="line2d_26">
      <path d="M 219.96000 345.24000 L 219.96000 205.56000" clip-path="url(#p9f6015d6d9)" style="fill: none; stroke: #b0b0b0; stroke-width: 0.8; stroke-linecap: square"/>
     </g>
     <g id="line2d_27">
      <g>
       <use xlink:href="#m1504cfccaf" x="219.96000" y="345.24000" style="stroke: #000000; stroke-width: 0.8"/>
      </g>
     </g>
     <g id="text_15">
      <text class="lbl" transform="translate(213.4739 359.6344)" font-size="10" textLength="10.962" lengthAdjust="spacingAndGlyphs">10</text>
      <g aria-hidden="true" transform="translate(213.4739 359.6344) scale(0.1 -0.1)">
       <use xlink:href="#DejaVuSans-31"/>
       <use xlink:href="#DejaVuSans-30" transform="translate(63.623047 0)"/>
      </g>
     </g>
    </g>
    <g id="xtick_9">
     <g id="line2d_28">
      <path d="M 354.60000 345.24000 L 354.60000 205.56000" clip-path="url(#p9f6015d6d9)" style="fill: none; stroke: #b0b0b0; stroke-width: 0.8; stroke-linecap: square"/>
     </g>
     <g id="line2d_29">
      <g>
       <use xlink:href="#m1504cfccaf" x="354.60000" y="345.24000" style="stroke: #000000; stroke-width: 0.8"/>
      </g>
     </g>
     <g id="text_16">
      <text class="lbl" transform="translate(348.0503 359.6344)" font-size="10" textLength="11.328" lengthAdjust="spacingAndGlyphs">20</text>
      <g aria-hidden="true" transform="translate(348.0503 359.6344) scale(0.1 -0.1)">
       <use xlink:href="#DejaVuSans-32"/>
       <use xlink:href="#DejaVuSans-30" transform="translate(63.623047 0)"/>
      </g>
     </g>
    </g>
    <g id="xtick_10">
     <g id="line2d_30">
      <path d="M 489.00000 345.24000 L 489.00000 205.56000" clip-path="url(#p9f6015d6d9)" style="fill: none; stroke: #b0b0b0; stroke-width: 0.8; stroke-linecap: square"/>
     </g>
     <g id="line2d_31">
      <g>
       <use xlink:href="#m1504cfccaf" x="489.00000" y="345.24000" style="stroke: #000000; stroke-width: 0.8"/>
      </g>
     </g>
     <g id="text_17">
      <text class="lbl" transform="translate(482.6267 359.6344)" font-size="10" textLength="11.298" lengthAdjust="spacingAndGlyphs">30</text>
      <g aria-hidden="true" transform="translate(482.6267 359.6344) scale(0.1 -0.1)">
       <use xlink:href="#DejaVuSans-33"/>
       <use xlink:href="#DejaVuSans-30" transform="translate(63.623047 0)"/>
      </g>
     </g>
    </g>
    <g id="xtick_11">
     <g id="line2d_32">
      <path d="M 623.64000 345.24000 L 623.64000 205.56000" clip-path="url(#p9f6015d6d9)" style="fill: none; stroke: #b0b0b0; stroke-width: 0.8; stroke-linecap: square"/>
     </g>
     <g id="line2d_33">
      <g>
       <use xlink:href="#m1504cfccaf" x="623.64000" y="345.24000" style="stroke: #000000; stroke-width: 0.8"/>
      </g>
     </g>
     <g id="text_18">
      <text class="lbl" transform="translate(617.2031 359.6344)" font-size="10" textLength="11.572" lengthAdjust="spacingAndGlyphs">40</text>
      <g aria-hidden="true" transform="translate(617.2031 359.6344) scale(0.1 -0.1)">
       <use xlink:href="#DejaVuSans-34"/>
       <use xlink:href="#DejaVuSans-30" transform="translate(63.623047 0)"/>
      </g>
     </g>
    </g>
    <g id="xtick_12">
     <g id="line2d_34">
      <path d="M 758.28000 345.24000 L 758.28000 205.56000" clip-path="url(#p9f6015d6d9)" style="fill: none; stroke: #b0b0b0; stroke-width: 0.8; stroke-linecap: square"/>
     </g>
     <g id="line2d_35">
      <g>
       <use xlink:href="#m1504cfccaf" x="758.28000" y="345.24000" style="stroke: #000000; stroke-width: 0.8"/>
      </g>
     </g>
     <g id="text_19">
      <text class="lbl" transform="translate(751.7795 359.6344)" font-size="10" textLength="11.289" lengthAdjust="spacingAndGlyphs">50</text>
      <g aria-hidden="true" transform="translate(751.7795 359.6344) scale(0.1 -0.1)">
       <use xlink:href="#DejaVuSans-35"/>
       <use xlink:href="#DejaVuSans-30" transform="translate(63.623047 0)"/>
      </g>
     </g>
    </g>
    <g id="text_20">
     <text class="lbl" transform="translate(440.4095 376.3519)" font-size="14" textLength="55.762" lengthAdjust="spacingAndGlyphs">Time (s)</text>
     <g aria-hidden="true" transform="translate(440.4095 376.3519) scale(0.14 -0.14)">
      <use xlink:href="#DejaVuSans-54"/>
      <use xlink:href="#DejaVuSans-69" transform="translate(57.958984 0)"/>
      <use xlink:href="#DejaVuSans-6d" transform="translate(85.742188 0)"/>
      <use xlink:href="#DejaVuSans-65" transform="translate(183.154297 0)"/>
      <use xlink:href="#DejaVuSans-20" transform="translate(244.677734 0)"/>
      <use xlink:href="#DejaVuSans-28" transform="translate(276.464844 0)"/>
      <use xlink:href="#DejaVuSans-73" transform="translate(315.478516 0)"/>
      <use xlink:href="#DejaVuSans-29" transform="translate(367.578125 0)"/>
     </g>
    </g>
   </g>
   <g id="matplotlib.axis_4">
    <g id="ytick_6">
     <g id="line2d_36">
      <path d="M 85.32000 318.36000 L 852.60000 318.36000" clip-path="url(#p9f6015d6d9)" style="fill: none; stroke: #b0b0b0; stroke-width: 0.8; stroke-linecap: square"/>
     </g>
     <g id="line2d_37">
      <g>
       <use xlink:href="#m5d545ce8f8" x="85.32000" y="318.36000" style="stroke: #000000; stroke-width: 0.8"/>
      </g>
     </g>
     <g id="text_21">
      <text class="lbl" transform="translate(41.2522 321.9072)" font-size="10" textLength="35.024" lengthAdjust="spacingAndGlyphs">−0.001</text>
      <g aria-hidden="true" transform="translate(41.2522 321.9072) scale(0.1 -0.1)">
       <use xlink:href="#DejaVuSans-2212"/>
       <use xlink:href="#DejaVuSans-30" transform="translate(83.789062 0)"/>
       <use xlink:href="#DejaVuSans-2e" transform="translate(147.412109 0)"/>
       <use xlink:href="#DejaVuSans-30" transform="translate(179.199219 0)"/>
       <use xlink:href="#DejaVuSans-30" transform="translate(242.822266 0)"/>
       <use xlink:href="#DejaVuSans-31" transform="translate(306.445312 0)"/>
      </g>
     </g>
    </g>
    <g id="ytick_7">
     <g id="line2d_38">
      <path d="M 85.32000 275.40000 L 852.60000 275.40000" clip-path="url(#p9f6015d6d9)" style="fill: none; stroke: #b0b0b0; stroke-width: 0.8; stroke-linecap: square"/>
     </g>
     <g id="line2d_39">
      <g>
       <use xlink:href="#m5d545ce8f8" x="85.32000" y="275.40000" style="stroke: #000000; stroke-width: 0.8"/>
      </g>
     </g>
     <g id="text_22">
      <text class="lbl" transform="translate(49.6319 278.8032)" font-size="10" textLength="27.305" lengthAdjust="spacingAndGlyphs">0.000</text>
      <g aria-hidden="true" transform="translate(49.6319 278.8032) scale(0.1 -0.1)">
       <use xlink:href="#DejaVuSans-30"/>
       <use xlink:href="#DejaVuSans-2e" transform="translate(63.623047 0)"/>
       <use xlink:href="#DejaVuSans-30" transform="translate(95.410156 0)"/>
       <use xlink:href="#DejaVuSans-30" transform="translate(159.033203 0)"/>
       <use xlink:href="#DejaVuSans-30" transform="translate(222.65625 0)"/>
      </g>
     </g>
    </g>
    <g id="ytick_8">
     <g id="line2d_40">
      <path d="M 85.32000 232.20000 L 852.60000 232.20000" clip-path="url(#p9f6015d6d9)" style="fill: none; stroke: #b0b0b0; stroke-width: 0.8; stroke-linecap: square"/>
     </g>
     <g id="line2d_41">
      <g>
       <use xlink:href="#m5d545ce8f8" x="85.32000" y="232.20000" style="stroke: #000000; stroke-width: 0.8"/>
      </g>
     </g>
     <g id="text_23">
      <text class="lbl" transform="translate(49.6319 235.6992)" font-size="10" textLength="27.045" lengthAdjust="spacingAndGlyphs">0.001</text>
      <g aria-hidden="true" transform="translate(49.6319 235.6992) scale(0.1 -0.1)">
       <use xlink:href="#DejaVuSans-30"/>
       <use xlink:href="#DejaVuSans-2e" transform="translate(63.623047 0)"/>
       <use xlink:href="#DejaVuSans-30" transform="translate(95.410156 0)"/>
       <use xlink:href="#DejaVuSans-30" transform="translate(159.033203 0)"/>
       <use xlink:href="#DejaVuSans-31" transform="translate(222.65625 0)"/>
      </g>
     </g>
    </g>
    <g id="text_24">
     <text class="lbl" transform="translate(33.9326 326.6808) rotate(-90)" font-size="14" textLength="102.329" lengthAdjust="spacingAndGlyphs">Velocity (cm/s)</text>
     <g aria-hidden="true" transform="translate(33.9326 326.6808) rotate(-90) scale(0.14 -0.14)">
      <defs>
       <path id="DejaVuSans-56" d="M 1831 0 
L 50 4666 
L 709 4666 
L 2188 738 
L 3669 4666 
L 4325 4666 
L 2547 0 
L 1831 0 
z
" transform="scale(0.015625)"/>
       <path id="DejaVuSans-79" d="M 2059 -325 
Q 1816 -950 1584 -1140 
Q 1353 -1331 966 -1331 
L 506 -1331 
L 506 -850 
L 844 -850 
Q 1081 -850 1212 -737 
Q 1344 -625 1503 -206 
L 1606 56 
L 191 3500 
L 800 3500 
L 1894 763 
L 2988 3500 
L 3597 3500 
L 2059 -325 
z
" transform="scale(0.015625)"/>
      </defs>
      <use xlink:href="#DejaVuSans-56"/>
      <use xlink:href="#DejaVuSans-65" transform="translate(60.658203 0)"/>
      <use xlink:href="#DejaVuSans-6c" transform="translate(122.181641 0)"/>
      <use xlink:href="#DejaVuSans-6f" transform="translate(149.964844 0)"/>
      <use xlink:href="#DejaVuSans-63" transform="translate(211.146484 0)"/>
      <use xlink:href="#DejaVuSans-69" transform="translate(266.126953 0)"/>
      <use xlink:href="#DejaVuSans-74" transform="translate(293.910156 0)"/>
      <use xlink:href="#DejaVuSans-79" transform="translate(333.119141 0)"/>
      <use xlink:href="#DejaVuSans-20" transform="translate(392.298828 0)"/>
      <use xlink:href="#DejaVuSans-28" transform="translate(424.085938 0)"/>
      <use xlink:href="#DejaVuSans-63" transform="translate(463.099609 0)"/>
      <use xlink:href="#DejaVuSans-6d" transform="translate(518.080078 0)"/>
      <use xlink:href="#DejaVuSans-2f" transform="translate(615.492188 0)"/>
      <use xlink:href="#DejaVuSans-73" transform="translate(649.183594 0)"/>
      <use xlink:href="#DejaVuSans-29" transform="translate(701.283203 0)"/>
     </g>
    </g>
   </g>
   <g id="line2d_42">
    <path d="M 85.410981 273.999923 
L 85.650981 274.885186 
L 85.890981 275.398956 
L 86.130981 275.599133 
L 86.370981 275.301539 
L 86.610981 274.315881 
L 86.850981 273.349389 
L 87.090981 273.171892 
L 87.330981 274.379574 
L 87.570981 276.000047 
L 87.810981 276.752127 
L 88.050981 275.851671 
L 88.290981 274.175432 
L 88.530981 272.918685 
L 88.770981 272.009381 
L 89.010981 271.321926 
L 89.250981 271.169905 
L 89.490981 271.442182 
L 89.730981 272.029869 
L 89.970981 275.34046 
L 90.210981 276.54462 
L 90.450981 275.303861 
L 90.690981 274.134557 
L 90.930981 274.388383 
L 91.170981 276.084749 
L 91.410981 277.923599 
L 91.650981 278.54885 
L 91.890981 277.030145 
L 92.130981 274.626511 
L 92.370981 273.111281 
L 92.610981 272.872303 
L 92.850981 272.736711 
L 93.090981 272.740002 
L 93.330981 272.917245 
L 93.570981 273.072938 
L 93.810981 273.031021 
L 94.050981 272.900033 
L 94.290981 273.021737 
L 94.530981 275.264139 
L 94.770981 276.436805 
L 95.010981 276.709179 
L 95.250981 276.556333 
L 95.490981 275.509539 
L 95.730981 275.589571 
L 95.970981 277.035646 
L 96.210981 277.90161 
L 96.450981 277.363047 
L 96.690981 276.525328 
L 96.930981 276.366954 
L 97.170981 277.063605 
L 97.410981 277.889183 
L 97.650981 278.027238 
L 97.890981 276.702719 
L 98.130981 275.308308 
L 98.370981 275.320572 
L 98.610981 276.02431 
L 98.850981 276.665661 
L 99.090981 276.707845 
L 99.330981 276.474866 
L 99.570981 276.224712 
L 99.810981 276.038871 
L 100.050981 275.928489 
L 100.290981 276.820131 
L 100.530981 277.673159 
L 100.770981 277.673159 
L 101.010981 277.740269 
L 101.250981 280.340228 
L 101.490981 281.770032 
L 101.730981 280.995792 
L 101.970981 279.792461 
L 102.210981 278.486658 
L 102.450981 277.002635 
L 102.690981 276.613211 
L 102.930981 277.96765 
L 103.170981 279.048499 
L 103.410981 279.002976 
L 103.650981 278.875349 
L 103.890981 278.504352 
L 104.130981 277.633759 
L 104.370981 277.008713 
L 104.610981 277.242462 
L 104.850981 278.047088 
L 105.090981 278.951219 
L 105.330981 279.487549 
L 105.570981 279.264316 
L 105.810981 278.456793 
L 106.050981 277.339821 
L 106.290981 276.831303 
L 106.530981 276.624279 
L 106.770981 276.492092 
L 107.010981 276.457707 
L 107.250981 276.713186 
L 107.490981 277.191628 
L 107.730981 277.658875 
L 107.970981 278.103909 
L 108.210981 278.507328 
L 108.450981 278.32743 
L 108.690981 276.168712 
L 108.930981 274.011458 
L 109.170981 273.178893 
L 109.410981 272.612015 
L 109.650981 272.61275 
L 109.890981 274.093256 
L 110.130981 274.311828 
L 110.370981 271.811958 
L 110.610981 269.702878 
L 110.850981 271.413046 
L 111.090981 275.156221 
L 111.330981 278.206662 
L 111.570981 279.973251 
L 111.810981 276.142198 
L 112.050981 269.412028 
L 112.290981 260.300011 
L 112.530981 255.809988 
L 112.770981 255.638214 
L 113.010981 258.867961 
L 113.250981 265.383779 
L 113.490981 271.464455 
L 113.730981 277.967846 
L 113.970981 284.650368 
L 114.210981 291.766386 
L 114.450981 292.215642 
L 114.690981 288.99027 
L 114.930981 285.334144 
L 115.170981 286.11919 
L 115.410981 286.790005 
L 115.650981 273.6408 
L 115.890981 250.784425 
L 116.130981 243.760226 
L 116.370981 244.139148 
L 116.610981 249.345231 
L 116.850981 248.748466 
L 117.090981 248.48151 
L 117.330981 250.186133 
L 117.570981 263.147394 
L 117.810981 276.43182 
L 118.050981 289.428643 
L 118.290981 296.521952 
L 118.530981 300.677565 
L 118.770981 300.359748 
L 119.010981 297.517448 
L 119.250981 293.689907 
L 119.490981 293.433032 
L 119.730981 292.518604 
L 119.970981 272.485877 
L 120.210981 240.251723 
L 120.450981 218.271055 
L 120.690981 211.784106 
L 120.930981 211.741875 
L 121.170981 214.984792 
L 121.410981 225.583172 
L 121.650981 252.489714 
L 121.890981 282.87587 
L 122.130981 306.577266 
L 122.370981 320.890342 
L 122.610981 322.676604 
L 122.850981 322.190329 
L 123.090981 318.107602 
L 123.330981 309.298993 
L 123.570981 297.232239 
L 123.810981 281.064152 
L 124.050981 263.291978 
L 124.290981 249.344328 
L 124.530981 249.212071 
L 124.770981 256.147082 
L 125.010981 268.508252 
L 125.250981 280.903909 
L 125.490981 292.537465 
L 125.730981 302.548755 
L 125.970981 304.573894 
L 126.210981 304.240209 
L 126.450981 299.786774 
L 126.690981 288.671565 
L 126.930981 274.412577 
L 127.170981 258.621831 
L 127.410981 241.000138 
L 127.650981 223.714401 
L 127.890981 217.963276 
L 128.130981 217.833835 
L 128.370981 221.142018 
L 128.610981 230.304223 
L 128.850981 247.591133 
L 129.090981 267.350835 
L 129.330981 285.670307 
L 129.570981 294.477694 
L 129.810981 288.900742 
L 130.050981 272.121431 
L 130.290981 261.193102 
L 130.530981 259.20553 
L 130.770981 259.522122 
L 131.010981 262.383199 
L 131.250981 262.936278 
L 131.490981 263.67136 
L 131.730981 268.707862 
L 131.970981 284.429479 
L 132.210981 288.415617 
L 132.450981 284.586659 
L 132.690981 278.061598 
L 132.930981 277.84208 
L 133.170981 279.567526 
L 133.410981 280.309183 
L 133.650981 279.296723 
L 133.890981 281.938539 
L 134.130981 286.721424 
L 134.370981 284.500543 
L 134.610981 272.071803 
L 134.850981 257.002959 
L 135.090981 256.888926 
L 135.330981 257.001732 
L 135.570981 261.7346 
L 135.810981 267.097809 
L 136.050981 279.889496 
L 136.290981 287.09336 
L 136.530981 277.278692 
L 136.770981 269.703167 
L 137.010981 273.813397 
L 137.250981 276.096327 
L 137.490981 275.68074 
L 137.730981 269.78044 
L 137.970981 261.803707 
L 138.210981 260.745969 
L 138.450981 263.171527 
L 138.690981 271.350499 
L 138.930981 287.441381 
L 139.170981 283.715695 
L 139.410981 277.71229 
L 139.650981 277.895067 
L 139.890981 280.944654 
L 140.130981 287.546878 
L 140.370981 287.571431 
L 140.610981 285.753844 
L 140.850981 274.559563 
L 141.090981 270.954379 
L 141.330981 272.503854 
L 141.570981 277.676852 
L 141.810981 269.765272 
L 142.050981 267.760228 
L 142.290981 269.437102 
L 142.530981 279.940112 
L 142.770981 296.008197 
L 143.010981 301.905764 
L 143.250981 301.5947 
L 143.490981 295.342555 
L 143.730981 276.385986 
L 143.970981 259.531629 
L 144.210981 257.889905 
L 144.450981 258.915663 
L 144.690981 259.008249 
L 144.930981 243.769373 
L 145.170981 236.339861 
L 145.410981 235.984646 
L 145.650981 244.094054 
L 145.890981 267.660022 
L 146.130981 297.425882 
L 146.370981 315.48631 
L 146.610981 318.584645 
L 146.850981 311.279943 
L 147.090981 296.717964 
L 147.330981 295.523042 
L 147.570981 304.833644 
L 147.810981 306.57246 
L 148.050981 293.932849 
L 148.290981 274.265712 
L 148.530981 258.07363 
L 148.770981 248.971035 
L 149.010981 248.831184 
L 149.250981 260.629387 
L 149.490981 274.47743 
L 149.730981 278.416231 
L 149.970981 278.063525 
L 150.210981 282.502726 
L 150.450981 295.808888 
L 150.690981 306.051911 
L 150.930981 307.829443 
L 151.170981 301.969095 
L 151.410981 290.840041 
L 151.650981 278.316039 
L 151.890981 272.921809 
L 152.130981 268.48549 
L 152.370981 261.616111 
L 152.610981 257.318065 
L 152.850981 255.97268 
L 153.090981 261.33122 
L 153.330981 272.763656 
L 153.570981 283.204933 
L 153.810981 285.944112 
L 154.050981 277.455081 
L 154.290981 268.816012 
L 154.530981 267.921064 
L 154.770981 270.535713 
L 155.010981 278.48519 
L 155.250981 281.104869 
L 155.490981 279.339489 
L 155.730981 278.547634 
L 155.970981 278.998569 
L 156.210981 282.5955 
L 156.450981 286.109041 
L 156.690981 289.088461 
L 156.930981 291.528261 
L 157.170981 289.905489 
L 157.410981 282.269332 
L 157.650981 273.061443 
L 157.890981 272.71648 
L 158.130981 275.066025 
L 158.370981 280.80809 
L 158.610981 285.833927 
L 158.850981 287.238091 
L 159.090981 286.094768 
L 159.330981 281.512868 
L 159.570981 276.211106 
L 159.810981 274.279799 
L 160.050981 277.109304 
L 160.290981 282.188794 
L 160.530981 283.341345 
L 160.770981 280.962024 
L 161.010981 262.206299 
L 161.250981 247.845724 
L 161.490981 246.572713 
L 161.730981 246.780072 
L 161.970981 256.937073 
L 162.210981 271.548939 
L 162.450981 285.943672 
L 162.690981 294.676425 
L 162.930981 297.575017 
L 163.170981 297.245948 
L 163.410981 294.271228 
L 163.650981 283.871428 
L 163.890981 275.299153 
L 164.130981 268.423886 
L 164.370981 263.908686 
L 164.610981 263.757438 
L 164.850981 265.611683 
L 165.090981 265.887436 
L 165.330981 262.152996 
L 165.570981 261.23752 
L 165.810981 266.170242 
L 166.050981 281.332311 
L 166.290981 290.220608 
L 166.530981 285.252451 
L 166.770981 284.227374 
L 167.010981 286.881505 
L 167.250981 290.860426 
L 167.490981 292.71544 
L 167.730981 292.982987 
L 167.970981 288.011769 
L 168.210981 276.455299 
L 168.450981 268.625261 
L 168.690981 267.130556 
L 168.930981 267.941105 
L 169.170981 269.637779 
L 169.410981 272.159612 
L 169.650981 274.775096 
L 169.890981 277.747804 
L 170.130981 282.172217 
L 170.370981 284.495169 
L 170.610981 281.044076 
L 170.850981 280.08555 
L 171.090981 281.699075 
L 171.330981 286.324104 
L 171.570981 288.774479 
L 171.810981 288.532691 
L 172.050981 283.055542 
L 172.290981 274.448216 
L 172.530981 268.179895 
L 172.770981 264.32961 
L 173.010981 262.990603 
L 173.250981 263.134707 
L 173.490981 268.1904 
L 173.730981 274.705872 
L 173.970981 280.768561 
L 174.210981 283.851922 
L 174.450981 285.518877 
L 174.690981 285.697143 
L 174.930981 282.863634 
L 175.170981 275.506508 
L 175.410981 269.758899 
L 175.650981 266.072369 
L 175.890981 263.609953 
L 176.130981 261.854683 
L 176.370981 261.184378 
L 176.610981 261.079189 
L 176.850981 262.36248 
L 177.090981 267.221005 
L 177.330981 275.610484 
L 177.570981 286.247712 
L 177.810981 289.096818 
L 178.050981 288.006931 
L 178.290981 278.057082 
L 178.530981 271.846807 
L 178.770981 274.346188 
L 179.010981 278.391725 
L 179.250981 279.016362 
L 179.490981 270.797795 
L 179.730981 267.745176 
L 179.970981 268.465931 
L 180.210981 269.28188 
L 180.450981 262.279544 
L 180.690981 256.577913 
L 180.930981 255.970445 
L 181.170981 261.001291 
L 181.410981 280.538129 
L 181.650981 292.86272 
L 181.890981 292.78406 
L 182.130981 286.912834 
L 182.370981 273.151609 
L 182.610981 261.513129 
L 182.850981 252.80777 
L 183.090981 252.30524 
L 183.330981 252.604104 
L 183.570981 259.403623 
L 183.810981 267.367466 
L 184.050981 275.744765 
L 184.290981 282.15873 
L 184.530981 286.627104 
L 184.770981 287.109391 
L 185.010981 287.24237 
L 185.250981 281.490929 
L 185.490981 270.657982 
L 185.730981 262.019028 
L 185.970981 258.948028 
L 186.210981 262.104365 
L 186.450981 259.013887 
L 186.690981 254.087705 
L 186.930981 251.998411 
L 187.170981 251.894595 
L 187.410981 258.404834 
L 187.650981 277.077552 
L 187.890981 293.416791 
L 188.130981 296.704883 
L 188.370981 290.460027 
L 188.610981 279.595009 
L 188.850981 274.097251 
L 189.090981 273.851087 
L 189.330981 276.680631 
L 189.570981 278.022201 
L 189.810981 277.501083 
L 190.050981 271.009846 
L 190.290981 265.131083 
L 190.530981 263.681238 
L 190.770981 263.519543 
L 191.010981 264.381808 
L 191.250981 266.233929 
L 191.490981 269.490053 
L 191.730981 273.68787 
L 191.970981 279.040028 
L 192.210981 282.212815 
L 192.450981 283.79583 
L 192.690981 281.99036 
L 192.930981 280.577264 
L 193.170981 276.626178 
L 193.410981 273.258995 
L 193.650981 272.157473 
L 193.890981 266.562794 
L 194.130981 261.244565 
L 194.370981 259.202147 
L 194.610981 259.059802 
L 194.850981 262.893335 
L 195.090981 272.160217 
L 195.330981 279.300908 
L 195.570981 281.070236 
L 195.810981 280.717155 
L 196.050981 279.487822 
L 196.290981 279.661898 
L 196.530981 279.458184 
L 196.770981 276.889665 
L 197.010981 267.696104 
L 197.250981 256.837247 
L 197.490981 249.326342 
L 197.730981 248.524488 
L 197.970981 248.712215 
L 198.210981 251.546715 
L 198.450981 259.096937 
L 198.690981 266.992935 
L 198.930981 270.941096 
L 199.170981 271.462289 
L 199.410981 271.678378 
L 199.650981 270.728583 
L 199.890981 268.368033 
L 200.130981 267.848 
L 200.370981 268.40764 
L 200.610981 269.73947 
L 200.850981 270.563863 
L 201.090981 270.671513 
L 201.330981 267.967992 
L 201.570981 265.364736 
L 201.810981 264.832329 
L 202.050981 266.330621 
L 202.290981 271.902735 
L 202.530981 276.14743 
L 202.770981 276.920888 
L 203.010981 276.437132 
L 203.250981 274.078145 
L 203.490981 265.276262 
L 203.730981 256.052116 
L 203.970981 255.268989 
L 204.210981 255.179582 
L 204.450981 255.521767 
L 204.690981 260.024253 
L 204.930981 266.07898 
L 205.170981 270.679932 
L 205.410981 275.203164 
L 205.650981 279.808394 
L 205.890981 281.551496 
L 206.130981 281.341018 
L 206.370981 277.940364 
L 206.610981 265.302121 
L 206.850981 259.892486 
L 207.090981 259.74896 
L 207.330981 260.645807 
L 207.570981 264.28023 
L 207.810981 270.104437 
L 208.050981 275.424457 
L 208.290981 279.655329 
L 208.530981 282.933171 
L 208.770981 283.15666 
L 209.010981 282.047918 
L 209.250981 275.95686 
L 209.490981 268.299043 
L 209.730981 265.110586 
L 209.970981 264.497153 
L 210.210981 264.34313 
L 210.450981 264.933534 
L 210.690981 270.427305 
L 210.930981 279.222437 
L 211.170981 281.305877 
L 211.410981 281.265742 
L 211.650981 278.576787 
L 211.890981 274.232472 
L 212.130981 270.171259 
L 212.370981 268.132063 
L 212.610981 268.024983 
L 212.850981 268.511688 
L 213.090981 269.018987 
L 213.330981 269.156304 
L 213.570981 269.156304 
L 213.810981 270.742289 
L 214.050981 274.891708 
L 214.290981 277.897942 
L 214.530981 280.376618 
L 214.770981 286.168978 
L 215.010981 295.42341 
L 215.250981 298.198002 
L 215.490981 298.540504 
L 215.730981 298.27193 
L 215.970981 297.102058 
L 216.210981 292.893765 
L 216.450981 284.932168 
L 216.690981 272.530444 
L 216.930981 266.627494 
L 217.170981 261.915254 
L 217.410981 260.66977 
L 217.650981 260.433923 
L 217.890981 260.55666 
L 218.130981 261.995118 
L 218.370981 266.768808 
L 218.610981 275.382323 
L 218.850981 287.265434 
L 219.090981 293.723807 
L 219.330981 294.172263 
L 219.570981 291.841855 
L 219.810981 284.765002 
L 220.050981 278.462133 
L 220.290981 278.154605 
L 220.530981 280.052992 
L 220.770981 281.385648 
L 221.010981 281.132236 
L 221.250981 279.043734 
L 221.490981 276.626506 
L 221.730981 274.999952 
L 221.970981 274.078213 
L 222.210981 273.813596 
L 222.450981 273.83353 
L 222.690981 275.580404 
L 222.930981 281.115338 
L 223.170981 283.212091 
L 223.410981 283.727817 
L 223.650981 283.827703 
L 223.890981 283.373453 
L 224.130981 281.239919 
L 224.370981 270.298006 
L 224.610981 259.059539 
L 224.850981 256.528688 
L 225.090981 256.348023 
L 225.330981 257.622997 
L 225.570981 264.511986 
L 225.810981 272.71475 
L 226.050981 280.71475 
L 226.290981 288.880598 
L 226.530981 295.66966 
L 226.770981 299.38859 
L 227.010981 300.198404 
L 227.250981 300.240961 
L 227.490981 299.524857 
L 227.730981 294.147793 
L 227.970981 278.575423 
L 228.210981 266.99403 
L 228.450981 266.63115 
L 228.690981 266.967306 
L 228.930981 274.449844 
L 229.170981 276.651674 
L 229.410981 276.706791 
L 229.650981 276.640527 
L 229.890981 279.314556 
L 230.130981 285.832966 
L 230.370981 280.924816 
L 230.610981 280.643206 
L 230.850981 280.746624 
L 231.090981 284.642114 
L 231.330981 290.072821 
L 231.570981 291.539097 
L 231.810981 291.6296 
L 232.050981 290.89577 
L 232.290981 286.41108 
L 232.530981 280.318853 
L 232.770981 275.500529 
L 233.010981 274.462123 
L 233.250981 274.360512 
L 233.490981 276.508217 
L 233.730981 284.692195 
L 233.970981 285.661859 
L 234.210981 285.476393 
L 234.450981 280.151305 
L 234.690981 269.924451 
L 234.930981 267.727701 
L 235.170981 267.550621 
L 235.410981 268.310004 
L 235.650981 278.296726 
L 235.890981 289.342846 
L 236.130981 291.604664 
L 236.370981 291.413342 
L 236.610981 289.910886 
L 236.850981 287.473052 
L 237.090981 285.898048 
L 237.330981 283.06264 
L 237.570981 279.697846 
L 237.810981 276.013777 
L 238.050981 271.577951 
L 238.290981 270.803062 
L 238.530981 270.705981 
L 238.770981 271.409532 
L 239.010981 276.570733 
L 239.250981 285.331318 
L 239.490981 286.632487 
L 239.730981 286.815448 
L 239.970981 286.52467 
L 240.210981 284.909017 
L 240.450981 282.52982 
L 240.690981 279.131181 
L 240.930981 274.071239 
L 241.170981 273.315897 
L 241.410981 273.401988 
L 241.650981 274.984589 
L 241.890981 278.631677 
L 242.130981 280.49767 
L 242.370981 280.631835 
L 242.610981 280.452074 
L 242.850981 281.164712 
L 243.090981 282.073795 
L 243.330981 282.123849 
L 243.570981 280.841801 
L 243.810981 276.329817 
L 244.050981 269.970077 
L 244.290981 269.185125 
L 244.530981 269.2761 
L 244.770981 269.956264 
L 245.010981 269.439255 
L 245.250981 267.963437 
L 245.490981 268.181942 
L 245.730981 271.693879 
L 245.970981 271.887767 
L 246.210981 271.335681 
L 246.450981 270.611173 
L 246.690981 271.965757 
L 246.930981 278.202909 
L 247.170981 279.022587 
L 247.410981 278.074331 
L 247.650981 273.855065 
L 247.890981 270.617857 
L 248.130981 271.40675 
L 248.370981 272.050508 
L 248.610981 268.352815 
L 248.850981 263.321778 
L 249.090981 262.837181 
L 249.330981 262.776891 
L 249.570981 265.220133 
L 249.810981 272.109891 
L 250.050981 279.834265 
L 250.290981 283.447947 
L 250.530981 283.796915 
L 250.770981 281.335701 
L 251.010981 270.097427 
L 251.250981 268.325997 
L 251.490981 268.390271 
L 251.730981 266.941429 
L 251.970981 264.223654 
L 252.210981 263.605457 
L 252.450981 263.513415 
L 252.690981 266.879844 
L 252.930981 272.036634 
L 253.170981 273.629637 
L 253.410981 273.746885 
L 253.650981 273.483993 
L 253.890981 272.329413 
L 254.130981 270.098112 
L 254.370981 269.616496 
L 254.610981 269.81764 
L 254.850981 273.84581 
L 255.090981 278.197712 
L 255.330981 279.463637 
L 255.570981 279.711171 
L 255.810981 279.095561 
L 256.050981 275.895014 
L 256.290981 269.802729 
L 256.530981 266.996421 
L 256.770981 266.909615 
L 257.010981 269.754437 
L 257.250981 280.468168 
L 257.490981 282.579435 
L 257.730981 282.529048 
L 257.970981 280.26964 
L 258.210981 274.652702 
L 258.450981 271.598746 
L 258.690981 271.453149 
L 258.930981 271.580488 
L 259.170981 272.049903 
L 259.410981 272.302812 
L 259.650981 272.210954 
L 259.890981 273.231131 
L 260.130981 275.346223 
L 260.370981 275.444334 
L 260.610981 272.95941 
L 260.850981 271.593868 
L 261.090981 271.503567 
L 261.330981 272.454262 
L 261.570981 275.128059 
L 261.810981 275.92918 
L 262.050981 278.799288 
L 262.290981 283.508501 
L 262.530981 285.082071 
L 262.770981 285.440641 
L 263.010981 285.011373 
L 263.250981 272.432924 
L 263.490981 263.495862 
L 263.730981 260.011634 
L 263.970981 259.374651 
L 264.210981 259.372692 
L 264.450981 260.328723 
L 264.690981 273.266571 
L 264.930981 284.671432 
L 265.170981 284.842811 
L 265.410981 283.683213 
L 265.650981 281.772948 
L 265.890981 281.488847 
L 266.130981 278.066423 
L 266.370981 266.745482 
L 266.610981 261.529482 
L 266.850981 261.374174 
L 267.090981 261.890974 
L 267.330981 266.57787 
L 267.570981 269.827806 
L 267.810981 270.157052 
L 268.050981 269.427108 
L 268.290981 267.3113 
L 268.530981 264.788883 
L 268.770981 263.466777 
L 269.010981 263.183749 
L 269.250981 263.346304 
L 269.490981 265.654052 
L 269.730981 277.873183 
L 269.970981 286.810652 
L 270.210981 287.425764 
L 270.450981 286.82994 
L 270.690981 283.28879 
L 270.930981 274.437032 
L 271.170981 269.14869 
L 271.410981 268.874575 
L 271.650981 268.763087 
L 271.890981 268.514569 
L 272.130981 268.690575 
L 272.370981 269.651177 
L 272.610981 271.81652 
L 272.850981 274.097967 
L 273.090981 274.936109 
L 273.330981 274.896562 
L 273.570981 272.278936 
L 273.810981 268.594081 
L 274.050981 267.501841 
L 274.290981 267.420764 
L 274.530981 268.746666 
L 274.770981 274.220169 
L 275.010981 277.429589 
L 275.250981 278.646868 
L 275.490981 278.79246 
L 275.730981 278.369368 
L 275.970981 274.252437 
L 276.210981 269.523109 
L 276.450981 268.591062 
L 276.690981 268.511508 
L 276.930981 269.48682 
L 277.170981 274.337292 
L 277.410981 274.751991 
L 277.650981 272.799554 
L 277.890981 268.753023 
L 278.130981 268.333441 
L 278.370981 268.863437 
L 278.610981 272.360567 
L 278.850981 276.754981 
L 279.090981 277.741578 
L 279.330981 277.189216 
L 279.570981 274.57815 
L 279.810981 274.201378 
L 280.050981 274.441032 
L 280.290981 278.525369 
L 280.530981 282.668192 
L 280.770981 283.129929 
L 281.010981 283.161287 
L 281.250981 282.420918 
L 281.490981 279.14589 
L 281.730981 276.870849 
L 281.970981 276.662847 
L 282.210981 277.012407 
L 282.450981 279.635929 
L 282.690981 280.076034 
L 282.930981 279.740514 
L 283.170981 278.427428 
L 283.410981 276.337957 
L 283.650981 275.42713 
L 283.890981 275.303475 
L 284.130981 275.310977 
L 284.370981 276.06446 
L 284.610981 279.455174 
L 284.850981 280.262433 
L 285.090981 280.041277 
L 285.330981 279.561647 
L 285.570981 279.344709 
L 285.810981 280.396031 
L 286.050981 285.778975 
L 286.290981 287.541417 
L 286.530981 288.115292 
L 286.770981 287.976503 
L 287.010981 286.201071 
L 287.250981 280.523821 
L 287.490981 276.116219 
L 287.730981 274.669001 
L 287.970981 274.27591 
L 288.210981 274.251557 
L 288.450981 276.129364 
L 288.690981 283.561307 
L 288.930981 286.381287 
L 289.170981 286.498274 
L 289.410981 286.295653 
L 289.650981 283.313135 
L 289.890981 277.504741 
L 290.130981 275.27183 
L 290.370981 274.924779 
L 290.610981 274.827981 
L 290.850981 275.42584 
L 291.090981 276.598177 
L 291.330981 277.073694 
L 291.570981 281.231 
L 291.810981 286.65477 
L 292.050981 288.013324 
L 292.290981 288.030123 
L 292.530981 285.516041 
L 292.770981 273.074283 
L 293.010981 270.023386 
L 293.250981 268.587464 
L 293.490981 268.02008 
L 293.730981 267.999364 
L 293.970981 269.570999 
L 294.210981 276.645447 
L 294.450981 283.50601 
L 294.690981 285.084516 
L 294.930981 285.200494 
L 295.170981 284.95439 
L 295.410981 282.952806 
L 295.650981 275.675087 
L 295.890981 269.921774 
L 296.130981 269.68278 
L 296.370981 270.164645 
L 296.610981 273.908416 
L 296.850981 274.725036 
L 297.090981 273.75175 
L 297.330981 273.099281 
L 297.570981 273.654453 
L 297.810981 277.107237 
L 298.050981 278.866922 
L 298.290981 278.866083 
L 298.530981 276.21781 
L 298.770981 271.972423 
L 299.010981 271.519608 
L 299.250981 271.538292 
L 299.490981 276.221889 
L 299.730981 275.803446 
L 299.970981 270.090082 
L 300.210981 268.765049 
L 300.450981 268.763636 
L 300.690981 270.206043 
L 300.930981 278.002726 
L 301.170981 279.770359 
L 301.410981 279.663598 
L 301.650981 275.414945 
L 301.890981 271.613436 
L 302.130981 271.52489 
L 302.370981 271.604954 
L 302.610981 269.535753 
L 302.850981 268.606452 
L 303.090981 268.520484 
L 303.330981 270.184594 
L 303.570981 277.338295 
L 303.810981 278.297448 
L 304.050981 278.310026 
L 304.290981 274.273927 
L 304.530981 261.467752 
L 304.770981 259.76073 
L 305.010981 259.742854 
L 305.250981 260.748487 
L 305.490981 267.943642 
L 305.730981 274.080908 
L 305.970981 275.645236 
L 306.210981 275.838727 
L 306.450981 276.043943 
L 306.690981 276.214182 
L 306.930981 276.142041 
L 307.170981 274.471589 
L 307.410981 267.101342 
L 307.650981 265.582222 
L 307.890981 265.568284 
L 308.130981 271.408196 
L 308.370981 273.799575 
L 308.610981 273.577588 
L 308.850981 269.060748 
L 309.090981 260.815425 
L 309.330981 257.535954 
L 309.570981 256.200469 
L 309.810981 255.696647 
L 310.050981 255.649796 
L 310.290981 256.043849 
L 310.530981 261.072966 
L 310.770981 269.014072 
L 311.010981 275.985167 
L 311.250981 277.610851 
L 311.490981 277.853319 
L 311.730981 277.735043 
L 311.970981 276.071449 
L 312.210981 270.066547 
L 312.450981 264.61986 
L 312.690981 261.888876 
L 312.930981 261.540162 
L 313.170981 261.602383 
L 313.410981 263.564104 
L 313.650981 270.568701 
L 313.890981 279.177394 
L 314.130981 282.738818 
L 314.370981 283.104836 
L 314.610981 283.038946 
L 314.850981 281.997532 
L 315.090981 277.162793 
L 315.330981 272.321922 
L 315.570981 270.338883 
L 315.810981 268.979299 
L 316.050981 266.978474 
L 316.290981 266.384696 
L 316.530981 266.310463 
L 316.770981 266.585022 
L 317.010981 269.91232 
L 317.250981 272.249028 
L 317.490981 274.564316 
L 317.730981 275.069688 
L 317.970981 274.189215 
L 318.210981 272.717849 
L 318.450981 272.475577 
L 318.690981 272.537316 
L 318.930981 274.718802 
L 319.170981 278.473323 
L 319.410981 278.859394 
L 319.650981 278.106753 
L 319.890981 277.139775 
L 320.130981 277.465549 
L 320.370981 279.316533 
L 320.610981 280.449956 
L 320.850981 280.766089 
L 321.090981 280.744536 
L 321.330981 279.8589 
L 321.570981 275.563711 
L 321.810981 273.242409 
L 322.050981 272.402066 
L 322.290981 271.1486 
L 322.530981 270.579908 
L 322.770981 270.527721 
L 323.010981 270.676865 
L 323.250981 274.099585 
L 323.490981 278.982273 
L 323.730981 279.882748 
L 323.970981 279.958401 
L 324.210981 278.765651 
L 324.450981 271.776283 
L 324.690981 270.628696 
L 324.930981 270.577589 
L 325.170981 271.052164 
L 325.410981 276.88365 
L 325.650981 282.794201 
L 325.890981 286.307617 
L 326.130981 286.691745 
L 326.370981 286.573569 
L 326.610981 281.718268 
L 326.850981 271.345806 
L 327.090981 270.160355 
L 327.330981 270.201898 
L 327.570981 273.760598 
L 327.810981 279.508385 
L 328.050981 281.432991 
L 328.290981 281.610993 
L 328.530981 283.702791 
L 328.770981 285.804196 
L 329.010981 286.282196 
L 329.250981 286.301558 
L 329.490981 285.750135 
L 329.730981 280.214866 
L 329.970981 275.937381 
L 330.210981 275.442739 
L 330.450981 275.515295 
L 330.690981 277.684924 
L 330.930981 280.986956 
L 331.170981 282.349544 
L 331.410981 283.842154 
L 331.650981 286.182393 
L 331.890981 286.746283 
L 332.130981 286.751429 
L 332.370981 286.15456 
L 332.610981 280.433894 
L 332.850981 277.544658 
L 333.090981 278.11435 
L 333.330981 278.669676 
L 333.570981 277.355451 
L 333.810981 272.759218 
L 334.050981 270.381731 
L 334.290981 270.171891 
L 334.530981 270.349007 
L 334.770981 272.583905 
L 335.010981 276.30923 
L 335.250981 276.858027 
L 335.490981 276.848235 
L 335.730981 276.250079 
L 335.970981 273.323854 
L 336.210981 272.915598 
L 336.450981 272.925304 
L 336.690981 273.035418 
L 336.930981 272.480226 
L 337.170981 272.368148 
L 337.410981 273.232957 
L 337.650981 277.136327 
L 337.890981 278.13219 
L 338.130981 278.066103 
L 338.370981 274.910299 
L 338.610981 274.400319 
L 338.850981 274.972009 
L 339.090981 278.96299 
L 339.330981 283.777506 
L 339.570981 284.619214 
L 339.810981 284.585977 
L 340.050981 283.822913 
L 340.290981 282.330378 
L 340.530981 276.697748 
L 340.770981 269.020179 
L 341.010981 266.779311 
L 341.250981 266.409336 
L 341.490981 266.499319 
L 341.730981 268.701398 
L 341.970981 276.679536 
L 342.210981 278.923449 
L 342.450981 278.495573 
L 342.690981 274.935573 
L 342.930981 273.32454 
L 343.170981 275.006887 
L 343.410981 275.998411 
L 343.650981 275.407341 
L 343.890981 273.869719 
L 344.130981 274.381146 
L 344.370981 274.519892 
L 344.610981 275.038365 
L 344.850981 276.400997 
L 345.090981 277.307388 
L 345.330981 276.984123 
L 345.570981 275.145975 
L 345.810981 273.943099 
L 346.050981 273.741543 
L 346.290981 274.274522 
L 346.530981 278.423796 
L 346.770981 283.826396 
L 347.010981 284.589925 
L 347.250981 284.236663 
L 347.490981 282.830251 
L 347.730981 279.202061 
L 347.970981 276.006707 
L 348.210981 275.429018 
L 348.450981 274.99576 
L 348.690981 274.792296 
L 348.930981 274.752805 
L 349.170981 275.460803 
L 349.410981 278.613338 
L 349.650981 281.129853 
L 349.890981 281.685307 
L 350.130981 282.367732 
L 350.370981 282.525333 
L 350.610981 282.433615 
L 350.850981 281.502148 
L 351.090981 278.627674 
L 351.330981 276.990969 
L 351.570981 276.521748 
L 351.810981 276.235255 
L 352.050981 275.923149 
L 352.290981 275.285198 
L 352.530981 274.253587 
L 352.770981 273.673073 
L 353.010981 269.76023 
L 353.250981 266.789361 
L 353.490981 265.597411 
L 353.730981 265.398098 
L 353.970981 265.505599 
L 354.210981 267.116648 
L 354.450981 271.805614 
L 354.690981 277.012114 
L 354.930981 281.669223 
L 355.170981 282.670341 
L 355.410981 282.687862 
L 355.650981 282.061274 
L 355.890981 281.394606 
L 356.130981 281.620594 
L 356.370981 282.099293 
L 356.610981 281.606806 
L 356.850981 279.124854 
L 357.090981 274.061002 
L 357.330981 272.514259 
L 357.570981 272.18876 
L 357.810981 273.228353 
L 358.050981 275.458013 
L 358.290981 275.598069 
L 358.530981 275.085133 
L 358.770981 274.793711 
L 359.010981 274.414185 
L 359.250981 271.792115 
L 359.490981 271.455495 
L 359.730981 272.063547 
L 359.970981 273.827679 
L 360.210981 273.939686 
L 360.450981 273.201379 
L 360.690981 270.210444 
L 360.930981 269.20987 
L 361.170981 269.177752 
L 361.410981 270.24629 
L 361.650981 271.918016 
L 361.890981 272.188777 
L 362.130981 273.046122 
L 362.370981 275.100525 
L 362.610981 277.310492 
L 362.850981 280.937106 
L 363.090981 284.417702 
L 363.330981 285.341743 
L 363.570981 285.200129 
L 363.810981 282.704365 
L 364.050981 281.208742 
L 364.290981 281.547242 
L 364.530981 283.018116 
L 364.770981 282.887456 
L 365.010981 282.409271 
L 365.250981 281.83146 
L 365.490981 280.675479 
L 365.730981 276.159053 
L 365.970981 275.099255 
L 366.210981 275.344426 
L 366.450981 276.724796 
L 366.690981 276.997889 
L 366.930981 277.261525 
L 367.170981 280.185597 
L 367.410981 282.299794 
L 367.650981 282.463533 
L 367.890981 281.8428 
L 368.130981 278.429856 
L 368.370981 277.993786 
L 368.610981 279.08186 
L 368.850981 281.272024 
L 369.090981 281.915921 
L 369.330981 281.506949 
L 369.570981 280.312195 
L 369.810981 278.09312 
L 370.050981 277.229112 
L 370.290981 277.267654 
L 370.530981 279.747672 
L 370.770981 284.597092 
L 371.010981 286.538119 
L 371.250981 286.867381 
L 371.490981 286.699392 
L 371.730981 284.976894 
L 371.970981 281.487099 
L 372.210981 281.255284 
L 372.450981 282.660336 
L 372.690981 283.469654 
L 372.930981 283.144036 
L 373.170981 280.239809 
L 373.410981 276.749756 
L 373.650981 275.204984 
L 373.890981 274.832052 
L 374.130981 275.309007 
L 374.370981 277.067333 
L 374.610981 278.453608 
L 374.850981 278.784444 
L 375.090981 278.756711 
L 375.330981 278.531863 
L 375.570981 278.106545 
L 375.810981 277.425105 
L 376.050981 274.186871 
L 376.290981 273.017705 
L 376.530981 272.92715 
L 376.770981 273.55652 
L 377.010981 273.463451 
L 377.250981 271.934141 
L 377.490981 268.287653 
L 377.730981 266.537192 
L 377.970981 266.350377 
L 378.210981 266.137336 
L 378.450981 265.936544 
L 378.690981 265.876704 
L 378.930981 266.298413 
L 379.170981 271.517409 
L 379.410981 277.088359 
L 379.650981 278.648603 
L 379.890981 278.719182 
L 380.130981 277.508841 
L 380.370981 277.655533 
L 380.610981 279.457277 
L 380.850981 280.446295 
L 381.090981 280.18198 
L 381.330981 276.954858 
L 381.570981 274.582193 
L 381.810981 274.323347 
L 382.050981 274.480731 
L 382.290981 277.185554 
L 382.530981 279.064599 
L 382.770981 279.121606 
L 383.010981 278.625314 
L 383.250981 275.824732 
L 383.490981 273.201522 
L 383.730981 271.98935 
L 383.970981 268.565746 
L 384.210981 264.710765 
L 384.450981 263.060327 
L 384.690981 262.927576 
L 384.930981 263.292822 
L 385.170981 266.22246 
L 385.410981 268.506197 
L 385.650981 268.333301 
L 385.890981 268.408113 
L 386.130981 270.12575 
L 386.370981 272.40273 
L 386.610981 272.548232 
L 386.850981 271.429529 
L 387.090981 270.548875 
L 387.330981 271.903943 
L 387.570981 273.133485 
L 387.810981 273.268302 
L 388.050981 272.87678 
L 388.290981 266.435092 
L 388.530981 264.044275 
L 388.770981 263.931472 
L 389.010981 264.193278 
L 389.250981 265.290755 
L 389.490981 268.168233 
L 389.730981 270.226865 
L 389.970981 270.711404 
L 390.210981 270.63541 
L 390.450981 268.815986 
L 390.690981 267.620223 
L 390.930981 267.411138 
L 391.170981 267.760657 
L 391.410981 265.2482 
L 391.650981 264.853765 
L 391.890981 264.939895 
L 392.130981 266.230126 
L 392.370981 270.783519 
L 392.610981 273.623388 
L 392.850981 274.305046 
L 393.090981 274.366838 
L 393.330981 273.842264 
L 393.570981 268.909088 
L 393.810981 264.514199 
L 394.050981 263.790961 
L 394.290981 263.749891 
L 394.530981 264.69456 
L 394.770981 269.845746 
L 395.010981 273.942011 
L 395.250981 275.320042 
L 395.490981 275.660375 
L 395.730981 275.59076 
L 395.970981 274.120897 
L 396.210981 269.766391 
L 396.450981 269.484349 
L 396.690981 268.589339 
L 396.930981 267.459465 
L 397.170981 267.338404 
L 397.410981 267.569088 
L 397.650981 269.729395 
L 397.890981 269.976667 
L 398.130981 269.926271 
L 398.370981 268.040172 
L 398.610981 266.574482 
L 398.850981 266.270144 
L 399.090981 266.231718 
L 399.330981 266.441844 
L 399.570981 269.927306 
L 399.810981 270.820526 
L 400.050981 270.98612 
L 400.290981 270.949931 
L 400.530981 270.07502 
L 400.770981 267.870555 
L 401.010981 267.589401 
L 401.250981 267.621462 
L 401.490981 268.178982 
L 401.730981 270.461015 
L 401.970981 272.861701 
L 402.210981 274.487407 
L 402.450981 275.244586 
L 402.690981 275.411139 
L 402.930981 275.306149 
L 403.170981 275.420139 
L 403.410981 275.661898 
L 403.650981 275.819809 
L 403.890981 275.812158 
L 404.130981 273.103823 
L 404.370981 269.534512 
L 404.610981 269.393927 
L 404.850981 269.951879 
L 405.090981 273.282718 
L 405.330981 274.190372 
L 405.570981 273.855397 
L 405.810981 275.275845 
L 406.050981 275.477011 
L 406.290981 275.000729 
L 406.530981 275.016232 
L 406.770981 276.429302 
L 407.010981 278.431616 
L 407.250981 278.7025 
L 407.490981 278.216815 
L 407.730981 277.921236 
L 407.970981 278.591982 
L 408.210981 279.697984 
L 408.450981 279.810593 
L 408.690981 279.524541 
L 408.930981 277.083769 
L 409.170981 274.427782 
L 409.410981 272.976844 
L 409.650981 272.090469 
L 409.890981 270.635719 
L 410.130981 269.656565 
L 410.370981 269.431808 
L 410.610981 269.548376 
L 410.850981 270.648675 
L 411.090981 269.540889 
L 411.330981 268.197474 
L 411.570981 267.701476 
L 411.810981 267.633892 
L 412.050981 268.08166 
L 412.290981 272.211901 
L 412.530981 276.98154 
L 412.770981 280.171544 
L 413.010981 280.445816 
L 413.250981 280.337538 
L 413.490981 277.224403 
L 413.730981 275.523433 
L 413.970981 275.226293 
L 414.210981 275.309487 
L 414.450981 277.579518 
L 414.690981 279.958198 
L 414.930981 279.88666 
L 415.170981 279.292591 
L 415.410981 278.871499 
L 415.650981 279.126605 
L 415.890981 282.108368 
L 416.130981 283.138704 
L 416.370981 283.264922 
L 416.610981 283.177616 
L 416.850981 281.930292 
L 417.090981 279.642461 
L 417.330981 279.260876 
L 417.570981 278.811419 
L 417.810981 278.13913 
L 418.050981 277.997999 
L 418.290981 278.300027 
L 418.530981 280.396474 
L 418.770981 281.285838 
L 419.010981 281.298538 
L 419.250981 280.831503 
L 419.490981 279.89496 
L 419.730981 279.824672 
L 419.970981 279.873582 
L 420.210981 279.86385 
L 420.450981 279.856493 
L 420.690981 280.437493 
L 420.930981 284.283334 
L 421.170981 285.400374 
L 421.410981 285.47593 
L 421.650981 285.164234 
L 421.890981 282.629684 
L 422.130981 276.626599 
L 422.370981 275.386838 
L 422.610981 273.937116 
L 422.850981 273.669824 
L 423.090981 273.797319 
L 423.330981 275.645575 
L 423.570981 280.010658 
L 423.810981 280.942156 
L 424.050981 280.936301 
L 424.290981 280.078127 
L 424.530981 275.801352 
L 424.770981 273.116702 
L 425.010981 272.84224 
L 425.250981 272.897044 
L 425.490981 273.283256 
L 425.730981 275.349991 
L 425.970981 279.553943 
L 426.210981 281.312485 
L 426.450981 282.124594 
L 426.690981 282.730696 
L 426.930981 283.35315 
L 427.170981 283.588406 
L 427.410981 283.622557 
L 427.650981 283.427126 
L 427.890981 282.938759 
L 428.130981 282.635107 
L 428.370981 282.442018 
L 428.610981 281.964622 
L 428.850981 281.732646 
L 429.090981 281.541824 
L 429.330981 280.870676 
L 429.570981 275.796566 
L 429.810981 273.430976 
L 430.050981 272.879902 
L 430.290981 271.754269 
L 430.530981 271.449524 
L 430.770981 271.551449 
L 431.010981 272.160754 
L 431.250981 273.839887 
L 431.490981 276.382803 
L 431.730981 278.425635 
L 431.970981 279.196351 
L 432.210981 279.203508 
L 432.450981 278.856437 
L 432.690981 277.420611 
L 432.930981 274.803096 
L 433.170981 272.866699 
L 433.410981 272.322502 
L 433.650981 272.278134 
L 433.890981 272.737586 
L 434.130981 277.312961 
L 434.370981 279.295517 
L 434.610981 279.540347 
L 434.850981 279.706642 
L 435.090981 279.437705 
L 435.330981 277.686746 
L 435.570981 273.194122 
L 435.810981 269.581802 
L 436.050981 267.807056 
L 436.290981 267.497188 
L 436.530981 268.074349 
L 436.770981 268.61647 
L 437.010981 268.429598 
L 437.250981 266.601993 
L 437.490981 265.982467 
L 437.730981 265.87318 
L 437.970981 266.217098 
L 438.210981 268.915492 
L 438.450981 269.214964 
L 438.690981 268.517006 
L 438.930981 268.677468 
L 439.170981 270.290347 
L 439.410981 271.367287 
L 439.650981 271.804211 
L 439.890981 271.965906 
L 440.130981 271.575891 
L 440.370981 270.757965 
L 440.610981 270.839219 
L 440.850981 272.198804 
L 441.090981 273.541955 
L 441.330981 272.223474 
L 441.570981 271.413186 
L 441.810981 271.519775 
L 442.050981 272.643476 
L 442.290981 274.119902 
L 442.530981 274.74107 
L 442.770981 275.59132 
L 443.010981 277.938306 
L 443.250981 281.629856 
L 443.490981 282.283282 
L 443.730981 281.886327 
L 443.970981 279.870593 
L 444.210981 276.99097 
L 444.450981 276.697086 
L 444.690981 275.083154 
L 444.930981 273.844332 
L 445.170981 273.597865 
L 445.410981 273.671322 
L 445.650981 274.59156 
L 445.890981 276.333754 
L 446.130981 276.589251 
L 446.370981 276.079235 
L 446.610981 273.350219 
L 446.850981 271.124799 
L 447.090981 270.816038 
L 447.330981 269.888573 
L 447.570981 268.823318 
L 447.810981 268.407328 
L 448.050981 268.360839 
L 448.290981 268.742533 
L 448.530981 270.777779 
L 448.770981 273.994306 
L 449.010981 274.542662 
L 449.250981 274.446229 
L 449.490981 274.419906 
L 449.730981 274.93805 
L 449.970981 278.138526 
L 450.210981 280.11749 
L 450.450981 280.242899 
L 450.690981 279.888173 
L 450.930981 279.109781 
L 451.170981 278.760251 
L 451.410981 278.622491 
L 451.650981 276.479444 
L 451.890981 272.799332 
L 452.130981 272.246801 
L 452.370981 271.42829 
L 452.610981 271.168331 
L 452.850981 270.673792 
L 453.090981 269.897404 
L 453.330981 269.62907 
L 453.570981 269.537768 
L 453.810981 269.881954 
L 454.050981 272.703993 
L 454.290981 275.502578 
L 454.530981 276.195055 
L 454.770981 276.041621 
L 455.010981 275.292086 
L 455.250981 274.808471 
L 455.490981 275.143635 
L 455.730981 275.301194 
L 455.970981 274.431429 
L 456.210981 268.876802 
L 456.450981 266.721649 
L 456.690981 266.503923 
L 456.930981 266.851576 
L 457.170981 267.544495 
L 457.410981 268.920944 
L 457.650981 272.782472 
L 457.890981 273.940055 
L 458.130981 273.988971 
L 458.370981 273.880535 
L 458.610981 272.971633 
L 458.850981 269.385251 
L 459.090981 268.874575 
L 459.330981 268.947559 
L 459.570981 270.652877 
L 459.810981 274.447907 
L 460.050981 277.542196 
L 460.290981 278.108325 
L 460.530981 277.91611 
L 460.770981 274.520916 
L 461.010981 273.293057 
L 461.250981 273.463411 
L 461.490981 276.198627 
L 461.730981 278.514867 
L 461.970981 278.533711 
L 462.210981 276.205453 
L 462.450981 275.062175 
L 462.690981 275.35646 
L 462.930981 276.854696 
L 463.170981 277.602313 
L 463.410981 277.266859 
L 463.650981 273.557001 
L 463.890981 273.289106 
L 464.130981 273.464536 
L 464.370981 275.172283 
L 464.610981 275.607918 
L 464.850981 275.993029 
L 465.090981 277.665785 
L 465.330981 279.933483 
L 465.570981 279.822145 
L 465.810981 278.391935 
L 466.050981 277.775423 
L 466.290981 279.151063 
L 466.530981 280.59833 
L 466.770981 281.35085 
L 467.010981 282.121732 
L 467.250981 283.312047 
L 467.490981 283.930192 
L 467.730981 283.835389 
L 467.970981 281.10011 
L 468.210981 278.962477 
L 468.450981 278.027268 
L 468.690981 277.794191 
L 468.930981 277.863586 
L 469.170981 278.59225 
L 469.410981 279.737253 
L 469.650981 280.841629 
L 469.890981 282.885341 
L 470.130981 283.869731 
L 470.370981 284.181528 
L 470.610981 284.301571 
L 470.850981 283.886753 
L 471.090981 283.896501 
L 471.330981 284.772868 
L 471.570981 286.869219 
L 471.810981 287.986396 
L 472.050981 288.539003 
L 472.290981 288.705554 
L 472.530981 288.628678 
L 472.770981 288.433822 
L 473.010981 288.353376 
L 473.250981 288.503249 
L 473.490981 288.601947 
L 473.730981 288.141297 
L 473.970981 284.731571 
L 474.210981 282.396096 
L 474.450981 282.177793 
L 474.690981 282.533244 
L 474.930981 283.689351 
L 475.170981 283.828611 
L 475.410981 283.936899 
L 475.650981 284.894486 
L 475.890981 286.46035 
L 476.130981 287.415671 
L 476.370981 288.913536 
L 476.610981 289.841302 
L 476.850981 290.133115 
L 477.090981 290.009568 
L 477.330981 288.753439 
L 477.570981 285.942779 
L 477.810981 283.547613 
L 478.050981 282.975173 
L 478.290981 282.763036 
L 478.530981 283.05038 
L 478.770981 283.558189 
L 479.010981 284.452968 
L 479.250981 285.614011 
L 479.490981 286.214231 
L 479.730981 286.16456 
L 479.970981 284.496414 
L 480.210981 283.793971 
L 480.450981 282.420829 
L 480.690981 280.96702 
L 480.930981 280.815659 
L 481.170981 281.363124 
L 481.410981 280.948447 
L 481.650981 278.200366 
L 481.890981 276.978567 
L 482.130981 276.888428 
L 482.370981 276.969241 
L 482.610981 276.819606 
L 482.850981 276.123782 
L 483.090981 275.854535 
L 483.330981 275.982378 
L 483.570981 277.673625 
L 483.810981 278.624729 
L 484.050981 278.615711 
L 484.290981 277.500158 
L 484.530981 275.387085 
L 484.770981 275.120083 
L 485.010981 276.677555 
L 485.250981 278.270162 
L 485.490981 278.232117 
L 485.730981 274.353228 
L 485.970981 271.587368 
L 486.210981 271.840546 
L 486.450981 273.549644 
L 486.690981 273.916378 
L 486.930981 272.794352 
L 487.170981 270.748546 
L 487.410981 270.711774 
L 487.650981 272.575146 
L 487.890981 273.325773 
L 488.130981 273.214248 
L 488.370981 272.958052 
L 488.610981 272.505394 
L 488.850981 271.139126 
L 489.090981 268.40437 
L 489.330981 268.143616 
L 489.570981 267.866784 
L 489.810981 267.054184 
L 490.050981 266.443784 
L 490.290981 266.332994 
L 490.530981 266.475395 
L 490.770981 265.645428 
L 491.010981 265.245479 
L 491.250981 265.252919 
L 491.490981 266.041572 
L 491.730981 267.425711 
L 491.970981 267.67053 
L 492.210981 267.396122 
L 492.450981 267.227767 
L 492.690981 268.982328 
L 492.930981 272.163139 
L 493.170981 273.004661 
L 493.410981 273.309755 
L 493.650981 273.262115 
L 493.890981 272.387502 
L 494.130981 269.733926 
L 494.370981 268.761121 
L 494.610981 268.718923 
L 494.850981 269.26742 
L 495.090981 271.444631 
L 495.330981 271.294944 
L 495.570981 269.299411 
L 495.810981 268.045977 
L 496.050981 264.375236 
L 496.290981 261.622807 
L 496.530981 260.86911 
L 496.770981 260.725768 
L 497.010981 260.902136 
L 497.250981 262.285555 
L 497.490981 264.926577 
L 497.730981 266.641559 
L 497.970981 268.032978 
L 498.210981 268.991321 
L 498.450981 269.241691 
L 498.690981 268.963058 
L 498.930981 268.114572 
L 499.170981 267.546394 
L 499.410981 267.372473 
L 499.650981 267.381508 
L 499.890981 269.150935 
L 500.130981 269.679653 
L 500.370981 269.994678 
L 500.610981 270.396333 
L 500.850981 270.648961 
L 501.090981 269.603399 
L 501.330981 267.977693 
L 501.570981 267.403859 
L 501.810981 267.386741 
L 502.050981 268.247873 
L 502.290981 270.516669 
L 502.530981 271.055312 
L 502.770981 270.712335 
L 503.010981 270.831301 
L 503.250981 271.630833 
L 503.490981 272.593414 
L 503.730981 272.888636 
L 503.970981 272.509261 
L 504.210981 271.19555 
L 504.450981 270.838685 
L 504.690981 270.118616 
L 504.930981 269.535372 
L 505.170981 269.465673 
L 505.410981 269.597423 
L 505.650981 270.453828 
L 505.890981 271.202039 
L 506.130981 271.611304 
L 506.370981 271.733306 
L 506.610981 271.621575 
L 506.850981 271.12136 
L 507.090981 271.027626 
L 507.330981 270.941111 
L 507.570981 270.905984 
L 507.810981 271.078104 
L 508.050981 272.796255 
L 508.290981 274.182025 
L 508.530981 275.241201 
L 508.770981 275.386228 
L 509.010981 275.02506 
L 509.250981 273.433769 
L 509.490981 271.885794 
L 509.730981 271.209866 
L 509.970981 271.190947 
L 510.210981 271.490277 
L 510.450981 272.411427 
L 510.690981 273.686981 
L 510.930981 276.390355 
L 511.170981 277.585712 
L 511.410981 277.685029 
L 511.650981 275.747686 
L 511.890981 274.668364 
L 512.130981 274.587811 
L 512.370981 274.975038 
L 512.610981 278.109311 
L 512.850981 280.796233 
L 513.090981 281.529486 
L 513.330981 282.099633 
L 513.570981 282.275197 
L 513.810981 282.04801 
L 514.050981 280.153171 
L 514.290981 276.708957 
L 514.530981 275.923002 
L 514.770981 276.018646 
L 515.010981 276.877479 
L 515.250981 278.074595 
L 515.490981 278.344042 
L 515.730981 278.192008 
L 515.970981 277.831098 
L 516.210981 277.309352 
L 516.450981 276.276859 
L 516.690981 272.226938 
L 516.930981 270.582341 
L 517.170981 270.308491 
L 517.410981 269.692456 
L 517.650981 269.319807 
L 517.890981 269.430136 
L 518.130981 271.31987 
L 518.370981 274.008412 
L 518.610981 275.460578 
L 518.850981 275.900707 
L 519.090981 275.819658 
L 519.330981 275.270203 
L 519.570981 274.756285 
L 519.810981 274.8481 
L 520.050981 276.799352 
L 520.290981 277.796982 
L 520.530981 278.058716 
L 520.770981 277.013189 
L 521.010981 272.883777 
L 521.250981 272.031302 
L 521.490981 271.688052 
L 521.730981 270.814338 
L 521.970981 269.756107 
L 522.210981 269.638662 
L 522.450981 270.203048 
L 522.690981 272.910477 
L 522.930981 272.595157 
L 523.170981 271.613035 
L 523.410981 271.473176 
L 523.650981 271.602341 
L 523.890981 271.703508 
L 524.130981 271.262858 
L 524.370981 271.157199 
L 524.610981 271.287444 
L 524.850981 271.802966 
L 525.090981 273.173296 
L 525.330981 274.735227 
L 525.570981 275.138437 
L 525.810981 275.193154 
L 526.050981 274.658715 
L 526.290981 272.669851 
L 526.530981 270.23731 
L 526.770981 267.601114 
L 527.010981 267.342811 
L 527.250981 267.429808 
L 527.490981 269.108746 
L 527.730981 272.85881 
L 527.970981 274.456324 
L 528.210981 276.768536 
L 528.450981 278.260326 
L 528.690981 278.249227 
L 528.930981 276.599178 
L 529.170981 274.644351 
L 529.410981 274.326022 
L 529.650981 274.584578 
L 529.890981 275.53763 
L 530.130981 275.808234 
L 530.370981 277.091759 
L 530.610981 277.171945 
L 530.850981 276.740729 
L 531.090981 276.979257 
L 531.330981 277.574491 
L 531.570981 277.673375 
L 531.810981 277.248895 
L 532.050981 274.168645 
L 532.290981 273.723854 
L 532.530981 273.927586 
L 532.770981 277.158827 
L 533.010981 277.230383 
L 533.250981 274.959292 
L 533.490981 274.32318 
L 533.730981 275.549299 
L 533.970981 277.720767 
L 534.210981 277.73081 
L 534.450981 274.544905 
L 534.690981 274.459064 
L 534.930981 276.576587 
L 535.170981 279.086076 
L 535.410981 278.857229 
L 535.650981 276.651805 
L 535.890981 276.245063 
L 536.130981 277.975225 
L 536.370981 278.165375 
L 536.610981 276.369107 
L 536.850981 275.261286 
L 537.090981 275.78058 
L 537.330981 277.321931 
L 537.570981 277.253486 
L 537.810981 276.509174 
L 538.050981 273.881822 
L 538.290981 273.28775 
L 538.530981 273.390114 
L 538.770981 274.154278 
L 539.010981 274.788327 
L 539.250981 276.679502 
L 539.490981 278.404403 
L 539.730981 278.749181 
L 539.970981 278.831176 
L 540.210981 279.489092 
L 540.450981 280.714966 
L 540.690981 280.918054 
L 540.930981 280.612396 
L 541.170981 278.206204 
L 541.410981 277.036749 
L 541.650981 277.126573 
L 541.890981 277.803897 
L 542.130981 278.047677 
L 542.370981 278.024682 
L 542.610981 280.360345 
L 542.850981 280.70215 
L 543.090981 280.445999 
L 543.330981 276.094124 
L 543.570981 273.702148 
L 543.810981 273.582919 
L 544.050981 274.113876 
L 544.290981 274.538552 
L 544.530981 274.477106 
L 544.770981 275.091825 
L 545.010981 280.337268 
L 545.250981 280.987276 
L 545.490981 280.503068 
L 545.730981 279.332836 
L 545.970981 279.469749 
L 546.210981 277.171965 
L 546.450981 276.790351 
L 546.690981 279.031615 
L 546.930981 280.338569 
L 547.170981 280.388598 
L 547.410981 279.163814 
L 547.650981 275.231264 
L 547.890981 274.95639 
L 548.130981 276.384647 
L 548.370981 278.783924 
L 548.610981 278.569774 
L 548.850981 275.816443 
L 549.090981 275.671834 
L 549.330981 276.870594 
L 549.570981 277.22751 
L 549.810981 277.112855 
L 550.050981 276.404276 
L 550.290981 275.478411 
L 550.530981 274.804994 
L 550.770981 274.689404 
L 551.010981 274.767571 
L 551.250981 275.00146 
L 551.490981 275.116682 
L 551.730981 275.281993 
L 551.970981 277.561978 
L 552.210981 277.984229 
L 552.450981 277.624365 
L 552.690981 274.855633 
L 552.930981 274.47899 
L 553.170981 274.694317 
L 553.410981 276.296495 
L 553.650981 277.449721 
L 553.890981 277.152957 
L 554.130981 276.241729 
L 554.370981 276.650353 
L 554.610981 278.92448 
L 554.850981 279.160127 
L 555.090981 278.604838 
L 555.330981 276.66304 
L 555.570981 276.52118 
L 555.810981 277.34064 
L 556.050981 278.161137 
L 556.290981 278.213429 
L 556.530981 277.696328 
L 556.770981 277.164515 
L 557.010981 274.768946 
L 557.250981 272.997878 
L 557.490981 272.034456 
L 557.730981 271.686884 
L 557.970981 271.689179 
L 558.210981 272.6212 
L 558.450981 275.36801 
L 558.690981 275.666484 
L 558.930981 275.4915 
L 559.170981 275.588951 
L 559.410981 276.345708 
L 559.650981 277.025118 
L 559.890981 276.929427 
L 560.130981 275.598332 
L 560.370981 274.071092 
L 560.610981 273.961859 
L 560.850981 274.67974 
L 561.090981 276.598541 
L 561.330981 277.293546 
L 561.570981 276.925509 
L 561.810981 276.100439 
L 562.050981 275.62205 
L 562.290981 275.588702 
L 562.530981 276.841344 
L 562.770981 277.797389 
L 563.010981 277.984289 
L 563.250981 277.624095 
L 563.490981 275.341469 
L 563.730981 273.478849 
L 563.970981 272.769034 
L 564.210981 270.96017 
L 564.450981 269.826509 
L 564.690981 269.401969 
L 564.930981 269.35505 
L 565.170981 269.704277 
L 565.410981 270.677573 
L 565.650981 271.14512 
L 565.890981 271.549555 
L 566.130981 272.443784 
L 566.370981 273.120828 
L 566.610981 273.369776 
L 566.850981 273.823787 
L 567.090981 277.212451 
L 567.330981 278.926611 
L 567.570981 279.179723 
L 567.810981 279.435008 
L 568.050981 279.503687 
L 568.290981 279.634825 
L 568.530981 279.699941 
L 568.770981 279.50189 
L 569.010981 278.139287 
L 569.250981 277.320811 
L 569.490981 277.252594 
L 569.730981 277.724204 
L 569.970981 278.448079 
L 570.210981 278.914543 
L 570.450981 279.083865 
L 570.690981 278.978991 
L 570.930981 279.129943 
L 571.170981 279.117903 
L 571.410981 279.167943 
L 571.650981 279.335762 
L 571.890981 279.158994 
L 572.130981 278.618735 
L 572.370981 276.812457 
L 572.610981 275.688889 
L 572.850981 275.498101 
L 573.090981 275.725652 
L 573.330981 276.496084 
L 573.570981 277.60183 
L 573.810981 278.447638 
L 574.050981 278.782535 
L 574.290981 278.655993 
L 574.530981 278.670956 
L 574.770981 278.892341 
L 575.010981 279.085384 
L 575.250981 278.988918 
L 575.490981 278.401664 
L 575.730981 275.59165 
L 575.970981 274.7302 
L 576.210981 274.338549 
L 576.450981 273.736502 
L 576.690981 272.874918 
L 576.930981 272.625348 
L 577.170981 272.778306 
L 577.410981 274.92476 
L 577.650981 275.852599 
L 577.890981 275.87858 
L 578.130981 275.230572 
L 578.370981 273.979431 
L 578.610981 273.966005 
L 578.850981 274.546467 
L 579.090981 274.686723 
L 579.330981 276.813765 
L 579.570981 278.093134 
L 579.810981 278.194057 
L 580.050981 277.973502 
L 580.290981 277.350908 
L 580.530981 273.826949 
L 580.770981 272.019045 
L 581.010981 271.740134 
L 581.250981 271.793751 
L 581.490981 272.776635 
L 581.730981 274.353965 
L 581.970981 277.177244 
L 582.210981 277.500981 
L 582.450981 276.695517 
L 582.690981 274.567217 
L 582.930981 274.391178 
L 583.170981 274.753505 
L 583.410981 275.876247 
L 583.650981 276.336133 
L 583.890981 276.481398 
L 584.130981 276.579085 
L 584.370981 276.24114 
L 584.610981 274.339745 
L 584.850981 273.678369 
L 585.090981 273.073296 
L 585.330981 272.790462 
L 585.570981 272.749278 
L 585.810981 273.092506 
L 586.050981 275.181273 
L 586.290981 275.303327 
L 586.530981 272.838713 
L 586.770981 272.286374 
L 587.010981 272.123615 
L 587.250981 272.235827 
L 587.490981 273.6255 
L 587.730981 275.484326 
L 587.970981 275.849242 
L 588.210981 276.052294 
L 588.450981 276.563584 
L 588.690981 276.554832 
L 588.930981 276.134012 
L 589.170981 275.140147 
L 589.410981 274.296601 
L 589.650981 273.843161 
L 589.890981 271.967461 
L 590.130981 269.760932 
L 590.370981 268.739704 
L 590.610981 268.507432 
L 590.850981 268.563909 
L 591.090981 269.016101 
L 591.330981 269.451437 
L 591.570981 269.959654 
L 591.810981 270.821774 
L 592.050981 271.409788 
L 592.290981 271.975915 
L 592.530981 272.914601 
L 592.770981 274.76995 
L 593.010981 277.280844 
L 593.250981 277.629366 
L 593.490981 277.257312 
L 593.730981 276.818819 
L 593.970981 277.605459 
L 594.210981 278.153678 
L 594.450981 278.425619 
L 594.690981 278.565131 
L 594.930981 278.592593 
L 595.170981 278.410176 
L 595.410981 278.13353 
L 595.650981 275.248241 
L 595.890981 273.865387 
L 596.130981 273.605277 
L 596.370981 273.655512 
L 596.610981 274.490197 
L 596.850981 276.557491 
L 597.090981 277.048756 
L 597.330981 277.139352 
L 597.570981 276.546109 
L 597.810981 275.297418 
L 598.050981 274.648637 
L 598.290981 274.575153 
L 598.530981 274.752074 
L 598.770981 276.663629 
L 599.010981 277.283083 
L 599.250981 277.486359 
L 599.490981 276.97283 
L 599.730981 275.849064 
L 599.970981 275.25949 
L 600.210981 275.120083 
L 600.450981 275.647468 
L 600.690981 276.651542 
L 600.930981 276.887903 
L 601.170981 276.828785 
L 601.410981 277.261387 
L 601.650981 277.393698 
L 601.890981 276.550279 
L 602.130981 276.090649 
L 602.370981 276.12098 
L 602.610981 276.691725 
L 602.850981 277.473061 
L 603.090981 277.927511 
L 603.330981 278.043854 
L 603.570981 277.906275 
L 603.810981 276.950831 
L 604.050981 275.619762 
L 604.290981 275.308277 
L 604.530981 275.621292 
L 604.770981 276.863082 
L 605.010981 277.281869 
L 605.250981 277.155463 
L 605.490981 276.479878 
L 605.730981 276.039439 
L 605.970981 275.635797 
L 606.210981 273.929507 
L 606.450981 272.403904 
L 606.690981 272.022289 
L 606.930981 272.24992 
L 607.170981 272.825151 
L 607.410981 273.424968 
L 607.650981 274.056298 
L 607.890981 276.127501 
L 608.130981 278.464402 
L 608.370981 279.600722 
L 608.610981 279.710379 
L 608.850981 279.288554 
L 609.090981 276.784495 
L 609.330981 275.159887 
L 609.570981 273.83857 
L 609.810981 272.999777 
L 610.050981 272.218963 
L 610.290981 270.827126 
L 610.530981 270.407188 
L 610.770981 270.344959 
L 611.010981 271.387323 
L 611.250981 272.953193 
L 611.490981 273.016282 
L 611.730981 272.768878 
L 611.970981 272.502123 
L 612.210981 272.348753 
L 612.450981 271.726704 
L 612.690981 271.208913 
L 612.930981 270.95321 
L 613.170981 270.938545 
L 613.410981 271.404131 
L 613.650981 272.712069 
L 613.890981 273.099237 
L 614.130981 272.964237 
L 614.370981 272.449281 
L 614.610981 271.931651 
L 614.850981 271.693425 
L 615.090981 271.638856 
L 615.330981 272.123244 
L 615.570981 272.675904 
L 615.810981 273.592246 
L 616.050981 275.495282 
L 616.290981 277.12016 
L 616.530981 277.578332 
L 616.770981 277.690173 
L 617.010981 277.463449 
L 617.250981 273.737492 
L 617.490981 273.355345 
L 617.730981 273.080624 
L 617.970981 272.678756 
L 618.210981 272.327567 
L 618.450981 272.255142 
L 618.690981 272.761285 
L 618.930981 274.294687 
L 619.170981 274.720296 
L 619.410981 274.648114 
L 619.650981 274.951669 
L 619.890981 275.71295 
L 620.130981 275.826796 
L 620.370981 275.674887 
L 620.610981 276.023257 
L 620.850981 275.981704 
L 621.090981 275.429992 
L 621.330981 274.843781 
L 621.570981 274.786747 
L 621.810981 275.469102 
L 622.050981 275.760174 
L 622.290981 275.51702 
L 622.530981 273.833056 
L 622.770981 272.67025 
L 623.010981 272.514892 
L 623.250981 272.481848 
L 623.490981 272.863522 
L 623.730981 274.547987 
L 623.970981 276.005309 
L 624.210981 277.048329 
L 624.450981 277.866245 
L 624.690981 278.429351 
L 624.930981 278.602512 
L 625.170981 278.359872 
L 625.410981 276.592489 
L 625.650981 275.575781 
L 625.890981 275.656192 
L 626.130981 277.047928 
L 626.370981 279.2761 
L 626.610981 279.453208 
L 626.850981 278.953073 
L 627.090981 275.426359 
L 627.330981 272.922975 
L 627.570981 272.214751 
L 627.810981 272.259872 
L 628.050981 272.859263 
L 628.290981 273.852939 
L 628.530981 274.199691 
L 628.770981 274.045481 
L 629.010981 273.676687 
L 629.250981 273.522353 
L 629.490981 273.302157 
L 629.730981 272.170801 
L 629.970981 269.366027 
L 630.210981 268.055226 
L 630.450981 267.685061 
L 630.690981 267.626003 
L 630.930981 268.037295 
L 631.170981 270.454507 
L 631.410981 272.273859 
L 631.650981 272.533153 
L 631.890981 272.175917 
L 632.130981 270.686633 
L 632.370981 270.530172 
L 632.610981 271.139585 
L 632.850981 271.823243 
L 633.090981 272.534009 
L 633.330981 273.452101 
L 633.570981 274.193474 
L 633.810981 274.336832 
L 634.050981 274.827445 
L 634.290981 275.319046 
L 634.530981 275.515091 
L 634.770981 275.558401 
L 635.010981 275.202973 
L 635.250981 274.230651 
L 635.490981 271.965386 
L 635.730981 271.093606 
L 635.970981 271.093051 
L 636.210981 271.219289 
L 636.450981 270.69703 
L 636.690981 270.216392 
L 636.930981 270.005067 
L 637.170981 270.089951 
L 637.410981 271.03173 
L 637.650981 272.455808 
L 637.890981 272.772778 
L 638.130981 272.913448 
L 638.370981 273.308513 
L 638.610981 274.859461 
L 638.850981 276.273782 
L 639.090981 276.876256 
L 639.330981 277.0836 
L 639.570981 277.124323 
L 639.810981 276.623249 
L 640.050981 275.478714 
L 640.290981 275.30867 
L 640.530981 275.586848 
L 640.770981 276.505258 
L 641.010981 277.659732 
L 641.250981 278.274748 
L 641.490981 278.424727 
L 641.730981 278.200885 
L 641.970981 277.269879 
L 642.210981 276.708361 
L 642.450981 276.777963 
L 642.690981 278.106511 
L 642.930981 279.202531 
L 643.170981 279.494082 
L 643.410981 279.729591 
L 643.650981 280.028425 
L 643.890981 280.449902 
L 644.130981 281.316071 
L 644.370981 283.640205 
L 644.610981 284.691216 
L 644.850981 284.957533 
L 645.090981 284.778014 
L 645.330981 284.58325 
L 645.570981 284.409531 
L 645.810981 283.99025 
L 646.050981 282.659431 
L 646.290981 282.093207 
L 646.530981 281.204504 
L 646.770981 280.151281 
L 647.010981 279.848693 
L 647.250981 279.845438 
L 647.490981 279.964302 
L 647.730981 280.472329 
L 647.970981 282.454618 
L 648.210981 282.641736 
L 648.450981 282.345474 
L 648.690981 280.566967 
L 648.930981 278.796586 
L 649.170981 278.389261 
L 649.410981 278.37779 
L 649.650981 279.1178 
L 649.890981 279.540164 
L 650.130981 280.756253 
L 650.370981 281.375524 
L 650.610981 281.80032 
L 650.850981 282.256301 
L 651.090981 282.68928 
L 651.330981 282.984392 
L 651.570981 283.276872 
L 651.810981 283.700211 
L 652.050981 283.852428 
L 652.290981 283.748258 
L 652.530981 283.210534 
L 652.770981 281.974436 
L 653.010981 281.322585 
L 653.250981 279.793245 
L 653.490981 277.636824 
L 653.730981 275.846724 
L 653.970981 274.130787 
L 654.210981 272.933744 
L 654.450981 272.743041 
L 654.690981 272.806174 
L 654.930981 273.136275 
L 655.170981 273.896214 
L 655.410981 274.764626 
L 655.650981 274.931353 
L 655.890981 274.661197 
L 656.130981 274.619081 
L 656.370981 275.024325 
L 656.610981 275.891749 
L 656.850981 276.037336 
L 657.090981 275.466921 
L 657.330981 275.107362 
L 657.570981 275.070998 
L 657.810981 275.099369 
L 658.050981 274.738441 
L 658.290981 273.490918 
L 658.530981 272.644187 
L 658.770981 272.398768 
L 659.010981 272.432174 
L 659.250981 273.00272 
L 659.490981 273.944048 
L 659.730981 274.61255 
L 659.970981 274.969667 
L 660.210981 275.029048 
L 660.450981 274.85882 
L 660.690981 274.012155 
L 660.930981 272.81939 
L 661.170981 271.512089 
L 661.410981 270.746795 
L 661.650981 270.495744 
L 661.890981 270.46197 
L 662.130981 270.997203 
L 662.370981 272.167655 
L 662.610981 272.304389 
L 662.850981 271.884087 
L 663.090981 270.939104 
L 663.330981 270.422105 
L 663.570981 270.212919 
L 663.810981 269.884306 
L 664.050981 269.814043 
L 664.290981 270.384279 
L 664.530981 272.085642 
L 664.770981 272.359079 
L 665.010981 272.192216 
L 665.250981 271.902675 
L 665.490981 271.62677 
L 665.730981 270.935364 
L 665.970981 270.094397 
L 666.210981 269.978174 
L 666.450981 270.43716 
L 666.690981 270.913531 
L 666.930981 271.31185 
L 667.170981 271.405586 
L 667.410981 271.324345 
L 667.650981 272.878462 
L 667.890981 273.086452 
L 668.130981 272.606147 
L 668.370981 272.036154 
L 668.610981 271.845897 
L 668.850981 271.740067 
L 669.090981 271.79427 
L 669.330981 272.001691 
L 669.570981 272.736015 
L 669.810981 274.173975 
L 670.050981 275.629109 
L 670.290981 276.539945 
L 670.530981 276.921723 
L 670.770981 276.91405 
L 671.010981 277.08912 
L 671.250981 277.657223 
L 671.490981 277.765282 
L 671.730981 277.924139 
L 671.970981 277.938565 
L 672.210981 277.257599 
L 672.450981 275.331509 
L 672.690981 274.592436 
L 672.930981 274.399382 
L 673.170981 274.410717 
L 673.410981 274.603162 
L 673.650981 275.389162 
L 673.890981 277.416477 
L 674.130981 280.255741 
L 674.370981 281.97725 
L 674.610981 282.898862 
L 674.850981 283.57367 
L 675.090981 283.640812 
L 675.330981 283.243843 
L 675.570981 281.001933 
L 675.810981 279.974987 
L 676.050981 280.226123 
L 676.290981 281.64042 
L 676.530981 282.650714 
L 676.770981 282.756798 
L 677.010981 282.308256 
L 677.250981 281.410792 
L 677.490981 280.85547 
L 677.730981 280.638449 
L 677.970981 278.894746 
L 678.210981 277.709936 
L 678.450981 277.468182 
L 678.690981 277.021543 
L 678.930981 276.569526 
L 679.170981 276.417679 
L 679.410981 276.60824 
L 679.650981 277.522596 
L 679.890981 278.688717 
L 680.130981 279.159008 
L 680.370981 279.17502 
L 680.610981 278.669616 
L 680.850981 277.525119 
L 681.090981 277.404251 
L 681.330981 277.580289 
L 681.570981 277.401164 
L 681.810981 276.34694 
L 682.050981 275.671703 
L 682.290981 276.100462 
L 682.530981 277.280293 
L 682.770981 277.941092 
L 683.010981 278.051435 
L 683.250981 277.951253 
L 683.490981 277.197548 
L 683.730981 276.57322 
L 683.970981 276.132012 
L 684.210981 275.205802 
L 684.450981 273.530255 
L 684.690981 271.668356 
L 684.930981 269.594812 
L 685.170981 268.243794 
L 685.410981 267.104023 
L 685.650981 266.283935 
L 685.890981 265.908732 
L 686.130981 265.753918 
L 686.370981 265.902983 
L 686.610981 265.642579 
L 686.850981 264.740431 
L 687.090981 263.77723 
L 687.330981 263.364383 
L 687.570981 263.293633 
L 687.810981 263.617279 
L 688.050981 264.354611 
L 688.290981 264.792099 
L 688.530981 264.828095 
L 688.770981 264.548288 
L 689.010981 264.624123 
L 689.250981 264.883395 
L 689.490981 265.938539 
L 689.730981 266.601998 
L 689.970981 266.493914 
L 690.210981 266.606932 
L 690.450981 267.094228 
L 690.690981 268.615815 
L 690.930981 269.112107 
L 691.170981 269.206584 
L 691.410981 269.650017 
L 691.650981 270.587133 
L 691.890981 270.711241 
L 692.130981 270.292861 
L 692.370981 269.370086 
L 692.610981 268.238184 
L 692.850981 267.340046 
L 693.090981 266.806779 
L 693.330981 266.499981 
L 693.570981 266.419884 
L 693.810981 266.661042 
L 694.050981 267.3932 
L 694.290981 268.347845 
L 694.530981 269.239369 
L 694.770981 269.740623 
L 695.010981 269.884921 
L 695.250981 269.625545 
L 695.490981 269.275677 
L 695.730981 269.67102 
L 695.970981 270.861958 
L 696.210981 270.800128 
L 696.450981 269.313961 
L 696.690981 268.574181 
L 696.930981 268.702396 
L 697.170981 269.430516 
L 697.410981 270.076591 
L 697.650981 270.43015 
L 697.890981 272.024043 
L 698.130981 273.644111 
L 698.370981 274.625756 
L 698.610981 275.226978 
L 698.850981 275.680349 
L 699.090981 276.19255 
L 699.330981 276.997703 
L 699.570981 277.986355 
L 699.810981 278.420314 
L 700.050981 278.495306 
L 700.290981 278.384886 
L 700.530981 278.016321 
L 700.770981 277.640542 
L 701.010981 277.494209 
L 701.250981 277.045253 
L 701.490981 276.494184 
L 701.730981 275.574209 
L 701.970981 274.944888 
L 702.210981 274.843792 
L 702.450981 275.042871 
L 702.690981 275.858115 
L 702.930981 276.031303 
L 703.170981 275.665329 
L 703.410981 275.437293 
L 703.650981 275.419412 
L 703.890981 275.528593 
L 704.130981 276.916882 
L 704.370981 278.16963 
L 704.610981 278.350933 
L 704.850981 277.959556 
L 705.090981 277.351583 
L 705.330981 276.897698 
L 705.570981 276.846242 
L 705.810981 277.161742 
L 706.050981 277.250026 
L 706.290981 276.780738 
L 706.530981 276.168738 
L 706.770981 275.508129 
L 707.010981 275.093811 
L 707.250981 275.047971 
L 707.490981 275.733139 
L 707.730981 275.206404 
L 707.970981 274.823627 
L 708.210981 274.721713 
L 708.450981 274.681339 
L 708.690981 274.808671 
L 708.930981 275.247569 
L 709.170981 276.703033 
L 709.410981 277.17589 
L 709.650981 277.338566 
L 709.890981 277.261488 
L 710.130981 276.611026 
L 710.370981 277.834581 
L 710.610981 277.819491 
L 710.850981 276.441568 
L 711.090981 274.862964 
L 711.330981 274.588752 
L 711.570981 274.87677 
L 711.810981 276.257254 
L 712.050981 276.757278 
L 712.290981 276.677932 
L 712.530981 276.277803 
L 712.770981 275.625095 
L 713.010981 275.146169 
L 713.250981 274.937374 
L 713.490981 275.000523 
L 713.730981 276.01646 
L 713.970981 276.454765 
L 714.210981 276.549484 
L 714.450981 276.680147 
L 714.690981 277.046268 
L 714.930981 277.139076 
L 715.170981 276.561162 
L 715.410981 275.25512 
L 715.650981 274.318655 
L 715.890981 274.095526 
L 716.130981 274.20005 
L 716.370981 274.612914 
L 716.610981 275.496369 
L 716.850981 275.634617 
L 717.090981 275.805612 
L 717.330981 276.477037 
L 717.570981 277.535231 
L 717.810981 277.61767 
L 718.050981 276.099795 
L 718.290981 275.793836 
L 718.530981 275.874914 
L 718.770981 276.491455 
L 719.010981 277.704967 
L 719.250981 277.870679 
L 719.490981 277.623714 
L 719.730981 277.457931 
L 719.970981 277.146626 
L 720.210981 276.196894 
L 720.450981 275.78105 
L 720.690981 275.781102 
L 720.930981 276.111265 
L 721.170981 276.971735 
L 721.410981 277.495216 
L 721.650981 277.964478 
L 721.890981 278.909485 
L 722.130981 279.157451 
L 722.370981 279.117946 
L 722.610981 278.968583 
L 722.850981 278.474784 
L 723.090981 277.842669 
L 723.330981 277.764834 
L 723.570981 278.279634 
L 723.810981 278.414301 
L 724.050981 278.350317 
L 724.290981 278.28686 
L 724.530981 278.904266 
L 724.770981 280.861299 
L 725.010981 280.997302 
L 725.250981 279.905968 
L 725.490981 279.621796 
L 725.730981 279.755829 
L 725.970981 280.545964 
L 726.210981 281.545626 
L 726.450981 280.958538 
L 726.690981 280.959551 
L 726.930981 281.286569 
L 727.170981 281.916972 
L 727.410981 282.582286 
L 727.650981 284.06697 
L 727.890981 284.378708 
L 728.130981 284.483078 
L 728.370981 284.240403 
L 728.610981 282.552609 
L 728.850981 281.14459 
L 729.090981 280.960869 
L 729.330981 281.309087 
L 729.570981 282.391457 
L 729.810981 282.191375 
L 730.050981 281.571829 
L 730.290981 280.812978 
L 730.530981 280.379123 
L 730.770981 280.2721 
L 731.010981 281.23309 
L 731.250981 281.357305 
L 731.490981 281.23344 
L 731.730981 280.874749 
L 731.970981 279.870574 
L 732.210981 277.365431 
L 732.450981 276.983742 
L 732.690981 276.548062 
L 732.930981 276.227428 
L 733.170981 276.328579 
L 733.410981 276.691123 
L 733.650981 278.107949 
L 733.890981 279.487273 
L 734.130981 279.753265 
L 734.370981 279.821614 
L 734.610981 279.734542 
L 734.850981 279.356328 
L 735.090981 278.847051 
L 735.330981 278.523925 
L 735.570981 278.434165 
L 735.810981 278.764112 
L 736.050981 281.04601 
L 736.290981 282.467708 
L 736.530981 283.235027 
L 736.770981 283.461284 
L 737.010981 283.448917 
L 737.250981 282.863906 
L 737.490981 280.743901 
L 737.730981 279.905228 
L 737.970981 279.313114 
L 738.210981 278.495621 
L 738.450981 278.304031 
L 738.690981 277.983969 
L 738.930981 277.536293 
L 739.170981 277.327837 
L 739.410981 277.397033 
L 739.650981 277.347964 
L 739.890981 277.223705 
L 740.130981 277.076629 
L 740.370981 276.848796 
L 740.610981 276.197472 
L 740.850981 275.720068 
L 741.090981 275.513595 
L 741.330981 275.553385 
L 741.570981 275.738742 
L 741.810981 275.831717 
L 742.050981 275.157798 
L 742.290981 274.720434 
L 742.530981 274.723517 
L 742.770981 274.70359 
L 743.010981 274.538934 
L 743.250981 274.459541 
L 743.490981 275.317415 
L 743.730981 276.013949 
L 743.970981 276.454286 
L 744.210981 276.571321 
L 744.450981 276.346981 
L 744.690981 275.192303 
L 744.930981 274.72173 
L 745.170981 274.070887 
L 745.410981 273.313706 
L 745.650981 272.892266 
L 745.890981 272.842136 
L 746.130981 273.058863 
L 746.370981 273.160244 
L 746.610981 273.641899 
L 746.850981 274.249805 
L 747.090981 274.30151 
L 747.330981 273.714595 
L 747.570981 273.234417 
L 747.810981 272.8771 
L 748.050981 272.643004 
L 748.290981 272.563343 
L 748.530981 272.90851 
L 748.770981 273.865255 
L 749.010981 274.258173 
L 749.250981 274.28659 
L 749.490981 274.122336 
L 749.730981 273.594746 
L 749.970981 272.668149 
L 750.210981 271.807108 
L 750.450981 271.495765 
L 750.690981 271.484236 
L 750.930981 271.648083 
L 751.170981 271.734383 
L 751.410981 272.337378 
L 751.650981 273.149678 
L 751.890981 274.470401 
L 752.130981 275.898763 
L 752.370981 276.493295 
L 752.610981 276.574709 
L 752.850981 276.22616 
L 753.090981 276.221889 
L 753.330981 275.894997 
L 753.570981 275.434525 
L 753.810981 274.77659 
L 754.050981 273.467726 
L 754.290981 272.227382 
L 754.530981 271.843289 
L 754.770981 271.857565 
L 755.010981 271.856478 
L 755.250981 271.684337 
L 755.490981 271.446189 
L 755.730981 271.574697 
L 755.970981 273.467174 
L 756.210981 274.309804 
L 756.450981 274.265938 
L 756.690981 273.395944 
L 756.930981 272.659832 
L 757.170981 272.658686 
L 757.410981 273.005854 
L 757.650981 273.273676 
L 757.890981 273.244342 
L 758.130981 273.076237 
L 758.370981 272.838677 
L 758.610981 272.741617 
L 758.850981 273.072677 
L 759.090981 273.912489 
L 759.330981 273.97192 
L 759.570981 273.996019 
L 759.810981 274.353574 
L 760.050981 275.129716 
L 760.290981 275.298119 
L 760.530981 274.915073 
L 760.770981 274.700863 
L 761.010981 274.72428 
L 761.250981 275.126806 
L 761.490981 276.003494 
L 761.730981 276.274166 
L 761.970981 276.269998 
L 762.210981 276.006612 
L 762.450981 275.400791 
L 762.690981 275.112901 
L 762.930981 274.663829 
L 763.170981 274.129781 
L 763.410981 274.034742 
L 763.650981 274.217645 
L 763.890981 275.354585 
L 764.130981 277.797605 
L 764.370981 278.058582 
L 764.610981 277.401451 
L 764.850981 277.480672 
L 765.090981 278.405289 
L 765.330981 279.062671 
L 765.570981 279.195469 
L 765.810981 279.232754 
L 766.050981 279.167416 
L 766.290981 278.76797 
L 766.530981 278.213996 
L 766.770981 277.392936 
L 767.010981 276.709463 
L 767.250981 276.589722 
L 767.490981 276.865505 
L 767.730981 278.178465 
L 767.970981 278.41164 
L 768.210981 278.330476 
L 768.450981 277.545335 
L 768.690981 275.361669 
L 768.930981 274.571228 
L 769.170981 273.585776 
L 769.410981 271.720116 
L 769.650981 271.158302 
L 769.890981 270.895139 
L 770.130981 271.030474 
L 770.370981 271.472513 
L 770.610981 272.598541 
L 770.850981 274.044281 
L 771.090981 275.064857 
L 771.330981 276.140953 
L 771.570981 276.776781 
L 771.810981 276.993979 
L 772.050981 277.016828 
L 772.290981 276.937316 
L 772.530981 276.773924 
L 772.770981 275.38682 
L 773.010981 274.191966 
L 773.250981 272.86368 
L 773.490981 272.332759 
L 773.730981 272.074449 
L 773.970981 271.687853 
L 774.210981 270.551356 
L 774.450981 270.217043 
L 774.690981 270.050886 
L 774.930981 269.835368 
L 775.170981 269.689572 
L 775.410981 269.804449 
L 775.650981 270.535638 
L 775.890981 272.309851 
L 776.130981 273.417835 
L 776.370981 273.640651 
L 776.610981 273.555855 
L 776.850981 273.35797 
L 777.090981 274.120862 
L 777.330981 274.908381 
L 777.570981 275.164554 
L 777.810981 275.07134 
L 778.050981 273.600687 
L 778.290981 272.321469 
L 778.530981 272.109703 
L 778.770981 272.635816 
L 779.010981 273.584633 
L 779.250981 274.173969 
L 779.490981 274.300629 
L 779.730981 274.092378 
L 779.970981 273.71471 
L 780.210981 273.549863 
L 780.450981 273.023926 
L 780.690981 271.279073 
L 780.930981 270.644024 
L 781.170981 270.409692 
L 781.410981 270.237454 
L 781.650981 270.160469 
L 781.890981 270.242064 
L 782.130981 270.859045 
L 782.370981 271.130688 
L 782.610981 271.119744 
L 782.850981 270.849193 
L 783.090981 270.373989 
L 783.330981 270.079104 
L 783.570981 270.115429 
L 783.810981 270.101328 
L 784.050981 269.97977 
L 784.290981 270.052102 
L 784.530981 270.964922 
L 784.770981 271.234781 
L 785.010981 270.696181 
L 785.250981 270.503707 
L 785.490981 271.596618 
L 785.730981 273.509156 
L 785.970981 274.119675 
L 786.210981 274.309592 
L 786.450981 273.784937 
L 786.690981 272.417721 
L 786.930981 271.029608 
L 787.170981 270.43795 
L 787.410981 270.364788 
L 787.650981 271.029802 
L 787.890981 271.97761 
L 788.130981 272.166758 
L 788.370981 272.032867 
L 788.610981 271.538347 
L 788.850981 271.25564 
L 789.090981 271.085732 
L 789.330981 271.348049 
L 789.570981 271.393311 
L 789.810981 271.123921 
L 790.050981 270.683015 
L 790.290981 270.54061 
L 790.530981 270.404073 
L 790.770981 270.095358 
L 791.010981 269.364166 
L 791.250981 268.294201 
L 791.490981 267.584576 
L 791.730981 267.342104 
L 791.970981 267.364641 
L 792.210981 267.593314 
L 792.450981 268.17462 
L 792.690981 268.707653 
L 792.930981 268.793448 
L 793.170981 268.865908 
L 793.410981 268.724348 
L 793.650981 268.541625 
L 793.890981 268.551764 
L 794.130981 269.237735 
L 794.370981 269.759289 
L 794.610981 269.740018 
L 794.850981 269.554795 
L 795.090981 269.481206 
L 795.330981 270.036566 
L 795.570981 270.950022 
L 795.810981 272.110783 
L 796.050981 272.553901 
L 796.290981 272.611925 
L 796.530981 272.493298 
L 796.770981 271.893442 
L 797.010981 271.748148 
L 797.250981 271.951765 
L 797.490981 272.544751 
L 797.730981 272.824213 
L 797.970981 271.933342 
L 798.210981 270.928221 
L 798.450981 271.098414 
L 798.690981 271.896391 
L 798.930981 272.340658 
L 799.170981 272.107286 
L 799.410981 271.286166 
L 799.650981 270.921747 
L 799.890981 270.985819 
L 800.130981 271.172058 
L 800.370981 271.20181 
L 800.610981 270.699767 
L 800.850981 270.532949 
L 801.090981 271.410596 
L 801.330981 272.065388 
L 801.570981 272.033354 
L 801.810981 271.410007 
L 802.050981 271.263303 
L 802.290981 271.630628 
L 802.530981 272.38724 
L 802.770981 273.440359 
L 803.010981 274.776136 
L 803.250981 276.375887 
L 803.490981 276.936741 
L 803.730981 276.891408 
L 803.970981 277.129648 
L 804.210981 278.174502 
L 804.450981 278.927192 
L 804.690981 279.315041 
L 804.930981 279.738681 
L 805.170981 280.667053 
L 805.410981 281.060745 
L 805.650981 280.992991 
L 805.890981 280.679498 
L 806.130981 279.714472 
L 806.370981 278.328109 
L 806.610981 277.986316 
L 806.850981 278.031657 
L 807.090981 278.421551 
L 807.330981 278.586432 
L 807.570981 278.42948 
L 807.810981 278.132895 
L 808.050981 278.362038 
L 808.290981 279.193007 
L 808.530981 279.558891 
L 808.770981 279.538315 
L 809.010981 279.078986 
L 809.250981 278.438697 
L 809.490981 278.35753 
L 809.730981 278.753804 
L 809.970981 279.442436 
L 810.210981 279.691462 
L 810.450981 279.528989 
L 810.690981 280.12608 
L 810.930981 280.881981 
L 811.170981 281.147335 
L 811.410981 281.053921 
L 811.650981 280.143663 
L 811.890981 279.182691 
L 812.130981 279.092757 
L 812.370981 279.309057 
L 812.610981 280.620929 
L 812.850981 282.569078 
L 813.090981 283.696886 
L 813.330981 284.313636 
L 813.570981 284.376401 
L 813.810981 284.066113 
L 814.050981 283.849442 
L 814.290981 283.475993 
L 814.530981 282.19528 
L 814.770981 280.654687 
L 815.010981 280.158446 
L 815.250981 279.877288 
L 815.490981 279.85216 
L 815.730981 280.153545 
L 815.970981 280.996952 
L 816.210981 280.854131 
L 816.450981 279.639992 
L 816.690981 278.77818 
L 816.930981 278.624836 
L 817.170981 278.754855 
L 817.410981 279.080662 
L 817.650981 279.13734 
L 817.890981 279.714371 
L 818.130981 280.804623 
L 818.370981 281.392833 
L 818.610981 281.432875 
L 818.850981 280.190093 
L 819.090981 279.918417 
L 819.330981 280.492438 
L 819.570981 281.235834 
L 819.810981 281.250967 
L 820.050981 280.281356 
L 820.290981 280.194272 
L 820.530981 280.284344 
L 820.770981 280.973589 
L 821.010981 281.978467 
L 821.250981 282.098636 
L 821.490981 281.188177 
L 821.730981 280.253396 
L 821.970981 280.132837 
L 822.210981 280.353144 
L 822.450981 280.77546 
L 822.690981 281.637508 
L 822.930981 282.883803 
L 823.170981 283.668921 
L 823.410981 283.905402 
L 823.650981 283.909111 
L 823.890981 283.381419 
L 824.130981 281.933786 
L 824.370981 281.481299 
L 824.610981 280.12121 
L 824.850981 277.689887 
L 825.090981 276.968844 
L 825.330981 276.950319 
L 825.570981 277.191319 
L 825.810981 277.414628 
L 826.050981 278.253125 
L 826.290981 279.439034 
L 826.530981 279.790928 
L 826.770981 279.795562 
L 827.010981 279.547695 
L 827.250981 278.848364 
L 827.490981 278.048367 
L 827.730981 277.639693 
L 827.970981 277.377769 
L 828.210981 277.254387 
L 828.450981 277.32666 
L 828.690981 277.605245 
L 828.930981 278.532093 
L 829.170981 278.74661 
L 829.410981 278.386446 
L 829.650981 277.42977 
L 829.890981 276.962239 
L 830.130981 277.226198 
L 830.370981 277.457589 
L 830.610981 277.478944 
L 830.850981 277.171459 
L 831.090981 275.851612 
L 831.330981 275.362562 
L 831.570981 275.178777 
L 831.810981 275.015844 
L 832.050981 274.946499 
L 832.290981 275.064128 
L 832.530981 275.427439 
L 832.770981 276.346634 
L 833.010981 276.805789 
L 833.250981 276.851604 
L 833.490981 276.779287 
L 833.730981 276.88193 
L 833.970981 276.951943 
L 834.210981 276.794052 
L 834.450981 276.084458 
L 834.690981 274.644162 
L 834.930981 273.971468 
L 835.170981 273.57562 
L 835.410981 273.200921 
L 835.650981 273.02114 
L 835.890981 272.970406 
L 836.130981 273.104475 
L 836.370981 273.250992 
L 836.610981 273.325281 
L 836.850981 273.109648 
L 837.090981 272.021556 
L 837.330981 271.294368 
L 837.570981 271.218135 
L 837.810981 271.437063 
L 838.050981 271.767436 
L 838.290981 271.981714 
L 838.530981 272.083038 
L 838.770981 272.228443 
L 839.010981 272.740781 
L 839.250981 273.321462 
L 839.490981 273.403613 
L 839.730981 273.190625 
L 839.970981 272.777967 
L 840.210981 272.697862 
L 840.450981 272.620698 
L 840.690981 272.519465 
L 840.930981 272.3597 
L 841.170981 272.130946 
L 841.410981 271.686647 
L 841.650981 270.614113 
L 841.890981 269.358638 
L 842.130981 268.777118 
L 842.370981 268.647612 
L 842.610981 268.886971 
L 842.850981 270.016898 
L 843.090981 271.309154 
L 843.330981 272.161048 
L 843.570981 272.459427 
L 843.810981 272.577529 
L 844.050981 272.525081 
L 844.290981 271.809653 
L 844.530981 269.672586 
L 844.770981 268.722827 
L 845.010981 268.650353 
L 845.250981 268.486828 
L 845.490981 268.382458 
L 845.730981 268.52522 
L 845.970981 269.106564 
L 846.210981 269.963539 
L 846.450981 270.553934 
L 846.690981 270.719916 
L 846.930981 270.421891 
L 847.170981 269.797614 
L 847.410981 269.656846 
L 847.650981 269.736934 
L 847.890981 269.810331 
L 848.130981 270.040604 
L 848.370981 270.498535 
L 848.610981 270.859987 
L 848.850981 271.021713 
L 849.090981 271.121351 
L 849.330981 271.181334 
L 849.570981 271.216977 
L 849.810981 271.022628 
L 850.050981 270.65611 
L 850.290981 270.363313 
L 850.530981 270.244558 
L 850.770981 270.297312 
L 851.010981 270.299656 
L 851.250981 270.378034 
L 851.490981 270.852244 
L 851.730981 272.065294 
L 851.970981 273.81793 
L 852.210981 275.56098 
L 852.292952 275.993388 
" clip-path="url(#p9f6015d6d9)" style="fill: none; stroke: #0000ff; stroke-width: 1.5; stroke-linecap: square"/>
   </g>
   <g id="patch_8">
    <path d="M 85.32000 345.24000 L 85.32000 205.56000" style="fill: none; stroke: #000000; stroke-width: 0.8; stroke-linejoin: miter; stroke-linecap: square"/>
   </g>
   <g id="patch_9">
    <path d="M 852.60000 345.24000 L 852.60000 205.56000" style="fill: none; stroke: #000000; stroke-width: 0.8; stroke-linejoin: miter; stroke-linecap: square"/>
   </g>
   <g id="patch_10">
    <path d="M 85.32000 345.24000 L 852.60000 345.24000" style="fill: none; stroke: #000000; stroke-width: 0.8; stroke-linejoin: miter; stroke-linecap: square"/>
   </g>
   <g id="patch_11">
    <path d="M 85.32000 205.56000 L 852.60000 205.56000" style="fill: none; stroke: #000000; stroke-width: 0.8; stroke-linejoin: miter; stroke-linecap: square"/>
   </g>
  </g>
  <g id="axes_3">
   <g id="patch_12">
    <path d="M 85.26 530.928 
L 852.48 530.928 
L 852.48 391.344 
L 85.26 391.344 
z
" style="fill: #ffffff"/>
   </g>
   <g id="matplotlib.axis_5">
    <g id="xtick_13">
     <g id="line2d_43">
      <path d="M 85.32000 531.00000 L 85.32000 391.56000" clip-path="url(#p6025a206c1)" style="fill: none; stroke: #b0b0b0; stroke-width: 0.8; stroke-linecap: square"/>
     </g>
     <g id="line2d_44">
      <g>
       <use xlink:href="#m1504cfccaf" x="85.32000" y="531.00000" style="stroke: #000000; stroke-width: 0.8"/>
      </g>
     </g>
     <g id="text_25">
      <text class="lbl" transform="translate(82.0787 545.5264)" font-size="10" textLength="5.039" lengthAdjust="spacingAndGlyphs">0</text>
      <g aria-hidden="true" transform="translate(82.0787 545.5264) scale(0.1 -0.1)">
       <use xlink:href="#DejaVuSans-30"/>
      </g>
     </g>
    </g>
    <g id="xtick_14">
     <g id="line2d_45">
      <path d="M 219.96000 531.00000 L 219.96000 391.56000" clip-path="url(#p6025a206c1)" style="fill: none; stroke: #b0b0b0; stroke-width: 0.8; stroke-linecap: square"/>
     </g>
     <g id="line2d_46">
      <g>
       <use xlink:href="#m1504cfccaf" x="219.96000" y="531.00000" style="stroke: #000000; stroke-width: 0.8"/>
      </g>
     </g>
     <g id="text_26">
      <text class="lbl" transform="translate(213.4739 545.5264)" font-size="10" textLength="10.962" lengthAdjust="spacingAndGlyphs">10</text>
      <g aria-hidden="true" transform="translate(213.4739 545.5264) scale(0.1 -0.1)">
       <use xlink:href="#DejaVuSans-31"/>
       <use xlink:href="#DejaVuSans-30" transform="translate(63.623047 0)"/>
      </g>
     </g>
    </g>
    <g id="xtick_15">
     <g id="line2d_47">
      <path d="M 354.60000 531.00000 L 354.60000 391.56000" clip-path="url(#p6025a206c1)" style="fill: none; stroke: #b0b0b0; stroke-width: 0.8; stroke-linecap: square"/>
     </g>
     <g id="line2d_48">
      <g>
       <use xlink:href="#m1504cfccaf" x="354.60000" y="531.00000" style="stroke: #000000; stroke-width: 0.8"/>
      </g>
     </g>
     <g id="text_27">
      <text class="lbl" transform="translate(348.0503 545.5264)" font-size="10" textLength="11.328" lengthAdjust="spacingAndGlyphs">20</text>
      <g aria-hidden="true" transform="translate(348.0503 545.5264) scale(0.1 -0.1)">
       <use xlink:href="#DejaVuSans-32"/>
       <use xlink:href="#DejaVuSans-30" transform="translate(63.623047 0)"/>
      </g>
     </g>
    </g>
    <g id="xtick_16">
     <g id="line2d_49">
      <path d="M 489.00000 531.00000 L 489.00000 391.56000" clip-path="url(#p6025a206c1)" style="fill: none; stroke: #b0b0b0; stroke-width: 0.8; stroke-linecap: square"/>
     </g>
     <g id="line2d_50">
      <g>
       <use xlink:href="#m1504cfccaf" x="489.00000" y="531.00000" style="stroke: #000000; stroke-width: 0.8"/>
      </g>
     </g>
     <g id="text_28">
      <text class="lbl" transform="translate(482.6267 545.5264)" font-size="10" textLength="11.298" lengthAdjust="spacingAndGlyphs">30</text>
      <g aria-hidden="true" transform="translate(482.6267 545.5264) scale(0.1 -0.1)">
       <use xlink:href="#DejaVuSans-33"/>
       <use xlink:href="#DejaVuSans-30" transform="translate(63.623047 0)"/>
      </g>
     </g>
    </g>
    <g id="xtick_17">
     <g id="line2d_51">
      <path d="M 623.64000 531.00000 L 623.64000 391.56000" clip-path="url(#p6025a206c1)" style="fill: none; stroke: #b0b0b0; stroke-width: 0.8; stroke-linecap: square"/>
     </g>
     <g id="line2d_52">
      <g>
       <use xlink:href="#m1504cfccaf" x="623.64000" y="531.00000" style="stroke: #000000; stroke-width: 0.8"/>
      </g>
     </g>
     <g id="text_29">
      <text class="lbl" transform="translate(617.2031 545.5264)" font-size="10" textLength="11.572" lengthAdjust="spacingAndGlyphs">40</text>
      <g aria-hidden="true" transform="translate(617.2031 545.5264) scale(0.1 -0.1)">
       <use xlink:href="#DejaVuSans-34"/>
       <use xlink:href="#DejaVuSans-30" transform="translate(63.623047 0)"/>
      </g>
     </g>
    </g>
    <g id="xtick_18">
     <g id="line2d_53">
      <path d="M 758.28000 531.00000 L 758.28000 391.56000" clip-path="url(#p6025a206c1)" style="fill: none; stroke: #b0b0b0; stroke-width: 0.8; stroke-linecap: square"/>
     </g>
     <g id="line2d_54">
      <g>
       <use xlink:href="#m1504cfccaf" x="758.28000" y="531.00000" style="stroke: #000000; stroke-width: 0.8"/>
      </g>
     </g>
     <g id="text_30">
      <text class="lbl" transform="translate(751.7795 545.5264)" font-size="10" textLength="11.289" lengthAdjust="spacingAndGlyphs">50</text>
      <g aria-hidden="true" transform="translate(751.7795 545.5264) scale(0.1 -0.1)">
       <use xlink:href="#DejaVuSans-35"/>
       <use xlink:href="#DejaVuSans-30" transform="translate(63.623047 0)"/>
      </g>
     </g>
    </g>
    <g id="text_31">
     <text class="lbl" transform="translate(440.4095 562.2439)" font-size="14" textLength="55.762" lengthAdjust="spacingAndGlyphs">Time (s)</text>
     <g aria-hidden="true" transform="translate(440.4095 562.2439) scale(0.14 -0.14)">
      <use xlink:href="#DejaVuSans-54"/>
      <use xlink:href="#DejaVuSans-69" transform="translate(57.958984 0)"/>
      <use xlink:href="#DejaVuSans-6d" transform="translate(85.742188 0)"/>
      <use xlink:href="#DejaVuSans-65" transform="translate(183.154297 0)"/>
      <use xlink:href="#DejaVuSans-20" transform="translate(244.677734 0)"/>
      <use xlink:href="#DejaVuSans-28" transform="translate(276.464844 0)"/>
      <use xlink:href="#DejaVuSans-73" transform="translate(315.478516 0)"/>
      <use xlink:href="#DejaVuSans-29" transform="translate(367.578125 0)"/>
     </g>
    </g>
   </g>
   <g id="matplotlib.axis_6">
    <g id="ytick_9">
     <g id="line2d_55">
      <path d="M 85.32000 507.96000 L 852.60000 507.96000" clip-path="url(#p6025a206c1)" style="fill: none; stroke: #b0b0b0; stroke-width: 0.8; stroke-linecap: square"/>
     </g>
     <g id="line2d_56">
      <g>
       <use xlink:href="#m5d545ce8f8" x="85.32000" y="507.96000" style="stroke: #000000; stroke-width: 0.8"/>
      </g>
     </g>
     <g id="text_32">
      <text class="lbl" transform="translate(28.5272 511.4952)" font-size="10" textLength="48.008" lengthAdjust="spacingAndGlyphs">−0.00010</text>
      <g aria-hidden="true" transform="translate(28.5272 511.4952) scale(0.1 -0.1)">
       <use xlink:href="#DejaVuSans-2212"/>
       <use xlink:href="#DejaVuSans-30" transform="translate(83.789062 0)"/>
       <use xlink:href="#DejaVuSans-2e" transform="translate(147.412109 0)"/>
       <use xlink:href="#DejaVuSans-30" transform="translate(179.199219 0)"/>
       <use xlink:href="#DejaVuSans-30" transform="translate(242.822266 0)"/>
       <use xlink:href="#DejaVuSans-30" transform="translate(306.445312 0)"/>
       <use xlink:href="#DejaVuSans-31" transform="translate(370.068359 0)"/>
       <use xlink:href="#DejaVuSans-30" transform="translate(433.691406 0)"/>
      </g>
     </g>
    </g>
    <g id="ytick_10">
     <g id="line2d_57">
      <path d="M 85.32000 484.68000 L 852.60000 484.68000" clip-path="url(#p6025a206c1)" style="fill: none; stroke: #b0b0b0; stroke-width: 0.8; stroke-linecap: square"/>
     </g>
     <g id="line2d_58">
      <g>
       <use xlink:href="#m5d545ce8f8" x="85.32000" y="484.68000" style="stroke: #000000; stroke-width: 0.8"/>
      </g>
     </g>
     <g id="text_33">
      <text class="lbl" transform="translate(28.5272 488.1552)" font-size="10" textLength="47.799" lengthAdjust="spacingAndGlyphs">−0.00005</text>
      <g aria-hidden="true" transform="translate(28.5272 488.1552) scale(0.1 -0.1)">
       <use xlink:href="#DejaVuSans-2212"/>
       <use xlink:href="#DejaVuSans-30" transform="translate(83.789062 0)"/>
       <use xlink:href="#DejaVuSans-2e" transform="translate(147.412109 0)"/>
       <use xlink:href="#DejaVuSans-30" transform="translate(179.199219 0)"/>
       <use xlink:href="#DejaVuSans-30" transform="translate(242.822266 0)"/>
       <use xlink:href="#DejaVuSans-30" transform="translate(306.445312 0)"/>
       <use xlink:href="#DejaVuSans-30" transform="translate(370.068359 0)"/>
       <use xlink:href="#DejaVuSans-35" transform="translate(433.691406 0)"/>
      </g>
     </g>
    </g>
    <g id="ytick_11">
     <g id="line2d_59">
      <path d="M 85.32000 461.16000 L 852.60000 461.16000" clip-path="url(#p6025a206c1)" style="fill: none; stroke: #b0b0b0; stroke-width: 0.8; stroke-linecap: square"/>
     </g>
     <g id="line2d_60">
      <g>
       <use xlink:href="#m5d545ce8f8" x="85.32000" y="461.16000" style="stroke: #000000; stroke-width: 0.8"/>
      </g>
     </g>
     <g id="text_34">
      <text class="lbl" transform="translate(36.9069 464.8152)" font-size="10" textLength="40.029" lengthAdjust="spacingAndGlyphs">0.00000</text>
      <g aria-hidden="true" transform="translate(36.9069 464.8152) scale(0.1 -0.1)">
       <use xlink:href="#DejaVuSans-30"/>
       <use xlink:href="#DejaVuSans-2e" transform="translate(63.623047 0)"/>
       <use xlink:href="#DejaVuSans-30" transform="translate(95.410156 0)"/>
       <use xlink:href="#DejaVuSans-30" transform="translate(159.033203 0)"/>
       <use xlink:href="#DejaVuSans-30" transform="translate(222.65625 0)"/>
       <use xlink:href="#DejaVuSans-30" transform="translate(286.279297 0)"/>
       <use xlink:href="#DejaVuSans-30" transform="translate(349.902344 0)"/>
      </g>
     </g>
    </g>
    <g id="ytick_12">
     <g id="line2d_61">
      <path d="M 85.32000 437.88000 L 852.60000 437.88000" clip-path="url(#p6025a206c1)" style="fill: none; stroke: #b0b0b0; stroke-width: 0.8; stroke-linecap: square"/>
     </g>
     <g id="line2d_62">
      <g>
       <use xlink:href="#m5d545ce8f8" x="85.32000" y="437.88000" style="stroke: #000000; stroke-width: 0.8"/>
      </g>
     </g>
     <g id="text_35">
      <text class="lbl" transform="translate(36.9069 441.4752)" font-size="10" textLength="39.820" lengthAdjust="spacingAndGlyphs">0.00005</text>
      <g aria-hidden="true" transform="translate(36.9069 441.4752) scale(0.1 -0.1)">
       <use xlink:href="#DejaVuSans-30"/>
       <use xlink:href="#DejaVuSans-2e" transform="translate(63.623047 0)"/>
       <use xlink:href="#DejaVuSans-30" transform="translate(95.410156 0)"/>
       <use xlink:href="#DejaVuSans-30" transform="translate(159.033203 0)"/>
       <use xlink:href="#DejaVuSans-30" transform="translate(222.65625 0)"/>
       <use xlink:href="#DejaVuSans-30" transform="translate(286.279297 0)"/>
       <use xlink:href="#DejaVuSans-35" transform="translate(349.902344 0)"/>
      </g>
     </g>
    </g>
    <g id="ytick_13">
     <g id="line2d_63">
      <path d="M 85.32000 414.60000 L 852.60000 414.60000" clip-path="url(#p6025a206c1)" style="fill: none; stroke: #b0b0b0; stroke-width: 0.8; stroke-linecap: square"/>
     </g>
     <g id="line2d_64">
      <g>
       <use xlink:href="#m5d545ce8f8" x="85.32000" y="414.60000" style="stroke: #000000; stroke-width: 0.8"/>
      </g>
     </g>
     <g id="text_36">
      <text class="lbl" transform="translate(36.9069 418.1352)" font-size="10" textLength="40.029" lengthAdjust="spacingAndGlyphs">0.00010</text>
      <g aria-hidden="true" transform="translate(36.9069 418.1352) scale(0.1 -0.1)">
       <use xlink:href="#DejaVuSans-30"/>
       <use xlink:href="#DejaVuSans-2e" transform="translate(63.623047 0)"/>
       <use xlink:href="#DejaVuSans-30" transform="translate(95.410156 0)"/>
       <use xlink:href="#DejaVuSans-30" transform="translate(159.033203 0)"/>
       <use xlink:href="#DejaVuSans-30" transform="translate(222.65625 0)"/>
       <use xlink:href="#DejaVuSans-31" transform="translate(286.279297 0)"/>
       <use xlink:href="#DejaVuSans-30" transform="translate(349.902344 0)"/>
      </g>
     </g>
    </g>
    <g id="text_37">
     <text class="lbl" transform="translate(21.2796 527.9479) rotate(-90)" font-size="14" textLength="130.376" lengthAdjust="spacingAndGlyphs">Displacement (cm)</text>
     <g aria-hidden="true" transform="translate(21.2796 527.9479) rotate(-90) scale(0.14 -0.14)">
      <defs>
       <path id="DejaVuSans-44" d="M 1259 4147 
L 1259 519 
L 2022 519 
Q 2988 519 3436 956 
Q 3884 1394 3884 2338 
Q 3884 3275 3436 3711 
Q 2988 4147 2022 4147 
L 1259 4147 
z
M 628 4666 
L 1925 4666 
Q 3281 4666 3915 4102 
Q 4550 3538 4550 2338 
Q 4550 1131 3912 565 
Q 3275 0 1925 0 
L 628 0 
L 628 4666 
z
" transform="scale(0.015625)"/>
       <path id="DejaVuSans-70" d="M 1159 525 
L 1159 -1331 
L 581 -1331 
L 581 3500 
L 1159 3500 
L 1159 2969 
Q 1341 3281 1617 3432 
Q 1894 3584 2278 3584 
Q 2916 3584 3314 3078 
Q 3713 2572 3713 1747 
Q 3713 922 3314 415 
Q 2916 -91 2278 -91 
Q 1894 -91 1617 61 
Q 1341 213 1159 525 
z
M 3116 1747 
Q 3116 2381 2855 2742 
Q 2594 3103 2138 3103 
Q 1681 3103 1420 2742 
Q 1159 2381 1159 1747 
Q 1159 1113 1420 752 
Q 1681 391 2138 391 
Q 2594 391 2855 752 
Q 3116 1113 3116 1747 
z
" transform="scale(0.015625)"/>
      </defs>
      <use xlink:href="#DejaVuSans-44"/>
      <use xlink:href="#DejaVuSans-69" transform="translate(77.001953 0)"/>
      <use xlink:href="#DejaVuSans-73" transform="translate(104.785156 0)"/>
      <use xlink:href="#DejaVuSans-70" transform="translate(156.884766 0)"/>
      <use xlink:href="#DejaVuSans-6c" transform="translate(220.361328 0)"/>
      <use xlink:href="#DejaVuSans-61" transform="translate(248.144531 0)"/>
      <use xlink:href="#DejaVuSans-63" transform="translate(309.423828 0)"/>
      <use xlink:href="#DejaVuSans-65" transform="translate(364.404297 0)"/>
      <use xlink:href="#DejaVuSans-6d" transform="translate(425.927734 0)"/>
      <use xlink:href="#DejaVuSans-65" transform="translate(523.339844 0)"/>
      <use xlink:href="#DejaVuSans-6e" transform="translate(584.863281 0)"/>
      <use xlink:href="#DejaVuSans-74" transform="translate(648.242188 0)"/>
      <use xlink:href="#DejaVuSans-20" transform="translate(687.451172 0)"/>
      <use xlink:href="#DejaVuSans-28" transform="translate(719.238281 0)"/>
      <use xlink:href="#DejaVuSans-63" transform="translate(758.251953 0)"/>
      <use xlink:href="#DejaVuSans-6d" transform="translate(813.232422 0)"/>
      <use xlink:href="#DejaVuSans-29" transform="translate(910.644531 0)"/>
     </g>
    </g>
   </g>
   <g id="line2d_65">
    <path d="M 85.457143 456.097959 
L 85.757143 456.541153 
L 86.057143 456.907135 
L 86.357143 457.145944 
L 86.657143 457.22906 
L 86.957143 457.257503 
L 87.257143 457.289123 
L 87.557143 457.472218 
L 87.857143 458.190287 
L 88.157143 458.744926 
L 88.457143 459.194177 
L 88.757143 459.454417 
L 89.057143 459.221475 
L 89.357143 458.551325 
L 89.657143 458.121603 
L 89.957143 458.390749 
L 90.257143 458.972353 
L 90.557143 459.338592 
L 90.857143 459.480432 
L 91.157143 459.603021 
L 91.457143 459.865442 
L 91.757143 460.993135 
L 92.057143 462.039016 
L 92.357143 462.005276 
L 92.657143 461.682613 
L 92.957143 461.284855 
L 93.257143 460.977331 
L 93.557143 460.736429 
L 93.857143 460.504602 
L 94.157143 460.330113 
L 94.457143 460.261224 
L 94.757143 460.560326 
L 95.057143 461.181481 
L 95.357143 461.710466 
L 95.657143 461.947083 
L 95.957143 462.184887 
L 96.257143 462.844508 
L 96.557143 463.673472 
L 96.857143 464.079431 
L 97.157143 464.371937 
L 97.457143 464.783204 
L 97.757143 465.615912 
L 98.057143 466.016327 
L 98.357143 466.016327 
L 98.657143 466.016327 
L 98.957143 466.105866 
L 99.257143 466.418673 
L 99.557143 466.740693 
L 99.857143 466.894626 
L 100.157143 466.984472 
L 100.457143 467.118367 
L 100.757143 467.457627 
L 101.057143 468.033145 
L 101.357143 468.880227 
L 101.657143 470.209233 
L 101.957143 471.374016 
L 102.257143 472.425653 
L 102.557143 472.628571 
L 102.857143 472.628571 
L 103.157143 472.690445 
L 103.457143 473.15621 
L 103.757143 473.691494 
L 104.057143 473.874036 
L 104.357143 473.907228 
L 104.657143 473.929002 
L 104.957143 473.969197 
L 105.257143 474.210109 
L 105.557143 474.681104 
L 105.857143 475.041209 
L 106.157143 475.04702 
L 106.457143 474.911262 
L 106.757143 474.736128 
L 107.057143 474.432246 
L 107.357143 474.104322 
L 107.657143 473.976308 
L 107.957143 474.030131 
L 108.257143 474.1263 
L 108.557143 474.205531 
L 108.857143 474.064781 
L 109.157143 473.053641 
L 109.457143 471.935651 
L 109.757143 470.672178 
L 110.057143 469.623699 
L 110.357143 468.7208 
L 110.657143 467.367028 
L 110.957143 465.525504 
L 111.257143 465.194731 
L 111.557143 465.360163 
L 111.857143 465.217714 
L 112.157143 463.799173 
L 112.457143 459.70705 
L 112.757143 453.852292 
L 113.057143 449.74029 
L 113.357143 448.802233 
L 113.657143 449.152543 
L 113.957143 450.508764 
L 114.257143 453.54942 
L 114.557143 456.990841 
L 114.857143 460.558524 
L 115.157143 463.224385 
L 115.457143 465.455333 
L 115.757143 466.110958 
L 116.057143 463.581452 
L 116.357143 457.361888 
L 116.657143 449.345086 
L 116.957143 440.938284 
L 117.257143 433.660064 
L 117.557143 433.183102 
L 117.857143 433.812026 
L 118.157143 437.81636 
L 118.457143 443.545276 
L 118.757143 450.02322 
L 119.057143 456.539544 
L 119.357143 461.796877 
L 119.657143 465.988577 
L 119.957143 468.430668 
L 120.257143 465.285291 
L 120.557143 452.237538 
L 120.857143 435.80787 
L 121.157143 421.184167 
L 121.457143 413.207057 
L 121.757143 413.121139 
L 122.057143 415.839344 
L 122.357143 424.374854 
L 122.657143 438.075614 
L 122.957143 451.528521 
L 123.257143 462.14786 
L 123.557143 467.844075 
L 123.857143 469.255152 
L 124.157143 466.401514 
L 124.457143 460.481743 
L 124.757143 454.206993 
L 125.057143 451.81746 
L 125.357143 453.063383 
L 125.657143 456.519563 
L 125.957143 462.20912 
L 126.257143 469.252181 
L 126.557143 472.82438 
L 126.857143 473.017662 
L 127.157143 469.480358 
L 127.457143 461.644478 
L 127.757143 451.680278 
L 128.057143 440.756882 
L 128.357143 426.057169 
L 128.657143 412.864274 
L 128.957143 409.206585 
L 129.257143 409.015764 
L 129.557143 414.884417 
L 129.857143 420.391653 
L 130.157143 420.884119 
L 130.457143 419.66764 
L 130.757143 417.265431 
L 131.057143 415.118118 
L 131.357143 413.953237 
L 131.657143 413.858351 
L 131.957143 415.519728 
L 132.257143 419.675533 
L 132.557143 423.949323 
L 132.857143 426.86796 
L 133.157143 429.516055 
L 133.457143 432.193327 
L 133.757143 435.220344 
L 134.057143 438.153236 
L 134.357143 442.286101 
L 134.657143 444.790757 
L 134.957143 444.955315 
L 135.257143 441.110795 
L 135.557143 437.251811 
L 135.857143 437.007367 
L 136.157143 438.174396 
L 136.457143 441.919077 
L 136.757143 445.068574 
L 137.057143 445.37531 
L 137.357143 446.370853 
L 137.657143 447.220408 
L 137.957143 447.175268 
L 138.257143 444.657853 
L 138.557143 443.576745 
L 138.857143 444.200774 
L 139.157143 448.000848 
L 139.457143 451.756528 
L 139.757143 453.889757 
L 140.057143 456.452742 
L 140.357143 459.573045 
L 140.657143 463.2791 
L 140.957143 465.463393 
L 141.257143 465.805429 
L 141.557143 465.287631 
L 141.857143 464.686869 
L 142.157143 464.08019 
L 142.457143 464.350821 
L 142.757143 466.445445 
L 143.057143 471.977706 
L 143.357143 479.037393 
L 143.657143 485.937605 
L 143.957143 489.182216 
L 144.257143 488.711078 
L 144.557143 485.529486 
L 144.857143 478.06512 
L 145.157143 468.267236 
L 145.457143 460.239523 
L 145.757143 457.315312 
L 146.057143 457.146015 
L 146.357143 459.777299 
L 146.657143 470.117196 
L 146.957143 480.666874 
L 147.257143 488.547502 
L 147.557143 494.723086 
L 147.857143 500.662647 
L 148.157143 505.948439 
L 148.457143 505.60603 
L 148.757143 497.298991 
L 149.057143 491.855352 
L 149.357143 490.327039 
L 149.657143 490.540108 
L 149.957143 490.89161 
L 150.257143 491.59958 
L 150.557143 495.32566 
L 150.857143 502.310339 
L 151.157143 509.064538 
L 151.457143 512.160551 
L 151.757143 512.294485 
L 152.057143 510.281957 
L 152.357143 506.521573 
L 152.657143 500.799741 
L 152.957143 495.514757 
L 153.257143 493.04083 
L 153.557143 492.776161 
L 153.857143 493.684485 
L 154.157143 495.84608 
L 154.457143 495.127946 
L 154.757143 491.868244 
L 155.057143 490.465922 
L 155.357143 490.438389 
L 155.657143 490.902628 
L 155.957143 491.219764 
L 156.257143 491.849276 
L 156.557143 493.97805 
L 156.857143 496.463382 
L 157.157143 499.275169 
L 157.457143 501.078579 
L 157.757143 501.085154 
L 158.057143 499.305101 
L 158.357143 497.710927 
L 158.657143 497.600862 
L 158.957143 498.697768 
L 159.257143 500.179501 
L 159.557143 500.718598 
L 159.857143 499.986612 
L 160.157143 498.432209 
L 160.457143 497.534953 
L 160.757143 497.323059 
L 161.057143 497.07665 
L 161.357143 493.397219 
L 161.657143 484.300715 
L 161.957143 477.85582 
L 162.257143 475.183189 
L 162.557143 475.027879 
L 162.857143 476.588571 
L 163.157143 481.525428 
L 163.457143 485.22714 
L 163.757143 487.220646 
L 164.057143 487.652934 
L 164.357143 487.43415 
L 164.657143 485.151302 
L 164.957143 481.045853 
L 165.257143 476.058877 
L 165.557143 471.094565 
L 165.857143 468.139166 
L 166.157143 467.425245 
L 166.457143 468.747952 
L 166.757143 471.008572 
L 167.057143 473.580245 
L 167.357143 475.344965 
L 167.657143 477.88856 
L 167.957143 480.783664 
L 168.257143 482.274885 
L 168.557143 481.180489 
L 168.857143 478.836812 
L 169.157143 475.611431 
L 169.457143 472.667187 
L 169.757143 470.501173 
L 170.057143 469.947428 
L 170.357143 470.130956 
L 170.657143 471.049138 
L 170.957143 471.465635 
L 171.257143 472.12219 
L 171.557143 473.361285 
L 171.857143 475.111837 
L 172.157143 475.971197 
L 172.457143 475.38561 
L 172.757143 473.163487 
L 173.057143 469.315719 
L 173.357143 464.898943 
L 173.657143 462.158683 
L 173.957143 461.827153 
L 174.257143 462.919127 
L 174.557143 464.867609 
L 174.857143 465.707291 
L 175.157143 466.015675 
L 175.457143 464.834327 
L 175.757143 462.647842 
L 176.057143 459.309333 
L 176.357143 454.660228 
L 176.657143 449.970456 
L 176.957143 446.970337 
L 177.257143 445.829906 
L 177.557143 447.000218 
L 177.857143 449.156935 
L 178.157143 450.893131 
L 178.457143 449.740101 
L 178.757143 448.932404 
L 179.057143 448.722619 
L 179.357143 447.664849 
L 179.657143 445.58494 
L 179.957143 442.885266 
L 180.257143 440.049422 
L 180.557143 436.630638 
L 180.857143 432.179566 
L 181.157143 431.37408 
L 181.457143 432.87692 
L 181.757143 437.109776 
L 182.057143 440.144734 
L 182.357143 440.98946 
L 182.657143 440.205626 
L 182.957143 436.016075 
L 183.257143 429.213173 
L 183.557143 424.386469 
L 183.857143 423.276194 
L 184.157143 423.565134 
L 184.457143 426.097959 
L 184.757143 429.492784 
L 185.057143 432.722092 
L 185.357143 434.964429 
L 185.657143 434.97551 
L 185.957143 434.100188 
L 186.257143 430.049649 
L 186.557143 424.881933 
L 186.857143 419.429726 
L 187.157143 415.654222 
L 187.457143 414.34533 
L 187.757143 414.429678 
L 188.057143 417.45135 
L 188.357143 423.059624 
L 188.657143 427.640674 
L 188.957143 429.566889 
L 189.257143 430.310486 
L 189.557143 430.927243 
L 189.857143 432.067334 
L 190.157143 432.078581 
L 190.457143 431.383622 
L 190.757143 429.201754 
L 191.057143 426.891458 
L 191.357143 425.379089 
L 191.657143 424.758063 
L 191.957143 425.236979 
L 192.257143 426.995877 
L 192.557143 429.811718 
L 192.857143 432.032599 
L 193.157143 432.876336 
L 193.457143 433.133576 
L 193.757143 432.967928 
L 194.057143 431.779753 
L 194.357143 428.812408 
L 194.657143 426.421551 
L 194.957143 426.268352 
L 195.257143 426.759995 
L 195.557143 430.014914 
L 195.857143 432.139629 
L 196.157143 433.804203 
L 196.457143 435.193755 
L 196.757143 435.378394 
L 197.057143 434.880689 
L 197.357143 431.021092 
L 197.657143 425.751732 
L 197.957143 420.093847 
L 198.257143 418.272803 
L 198.557143 418.144034 
L 198.857143 419.007994 
L 199.157143 419.3697 
L 199.457143 419.485714 
L 199.757143 419.547778 
L 200.057143 419.589435 
L 200.357143 419.662713 
L 200.657143 419.993049 
L 200.957143 420.379203 
L 201.257143 420.704808 
L 201.557143 420.890257 
L 201.857143 420.730582 
L 202.157143 420.475096 
L 202.457143 422.008514 
L 202.757143 424.464787 
L 203.057143 426.081015 
L 203.357143 426.346961 
L 203.657143 426.169361 
L 203.957143 424.00638 
L 204.257143 420.754948 
L 204.557143 419.9799 
L 204.857143 420.041858 
L 205.157143 421.227065 
L 205.457143 423.214194 
L 205.757143 426.26174 
L 206.057143 429.585913 
L 206.357143 431.597706 
L 206.657143 430.934347 
L 206.957143 429.650134 
L 207.257143 428.534122 
L 207.557143 428.432395 
L 207.857143 429.180655 
L 208.157143 431.538628 
L 208.457143 434.594419 
L 208.757143 438.314008 
L 209.057143 442.204216 
L 209.357143 445.402338 
L 209.657143 447.264698 
L 209.957143 446.853061 
L 210.257143 446.31551 
L 210.557143 446.553099 
L 210.857143 449.05102 
L 211.157143 452.439184 
L 211.457143 454.873469 
L 211.757143 456.416185 
L 212.057143 456.834907 
L 212.357143 456.976126 
L 212.657143 457.014995 
L 212.957143 456.935943 
L 213.257143 456.841578 
L 213.557143 456.934648 
L 213.857143 457.343426 
L 214.157143 458.435384 
L 214.457143 460.22769 
L 214.757143 462.990779 
L 215.057143 466.429407 
L 215.357143 470.889928 
L 215.657143 476.652657 
L 215.957143 483.871872 
L 216.257143 489.00526 
L 216.557143 491.470877 
L 216.857143 492.10821 
L 217.157143 491.216866 
L 217.457143 488.775823 
L 217.757143 485.842651 
L 218.057143 483.073889 
L 218.357143 481.790269 
L 218.657143 481.97468 
L 218.957143 485.848041 
L 219.257143 490.456722 
L 219.557143 494.364698 
L 219.857143 496.976099 
L 220.157143 498.498789 
L 220.457143 499.725668 
L 220.757143 501.118204 
L 221.057143 502.14054 
L 221.357143 502.832178 
L 221.657143 503.178889 
L 221.957143 503.359849 
L 222.257143 502.836765 
L 222.557143 502.390764 
L 222.857143 502.567347 
L 223.157143 504.008821 
L 223.457143 505.799716 
L 223.757143 507.366331 
L 224.057143 508.248757 
L 224.357143 508.497025 
L 224.657143 507.639266 
L 224.957143 503.611836 
L 225.257143 498.04831 
L 225.557143 494.812918 
L 225.857143 494.316245 
L 226.157143 495.226211 
L 226.457143 498.039139 
L 226.757143 502.828899 
L 227.057143 508.37274 
L 227.357143 512.869979 
L 227.657143 516.763119 
L 227.957143 517.552398 
L 228.257143 516.114247 
L 228.557143 512.633505 
L 228.857143 510.693732 
L 229.157143 509.946443 
L 229.457143 509.486703 
L 229.757143 509.563262 
L 230.057143 510.42585 
L 230.357143 511.751798 
L 230.657143 512.438848 
L 230.957143 512.586299 
L 231.257143 513.035486 
L 231.557143 514.36124 
L 231.857143 516.780776 
L 232.157143 518.760168 
L 232.457143 520.181565 
L 232.757143 520.475566 
L 233.057143 520.126106 
L 233.357143 518.540488 
L 233.657143 517.043061 
L 233.957143 516.651274 
L 234.257143 517.00711 
L 234.557143 517.04447 
L 234.857143 516.346162 
L 235.157143 513.118017 
L 235.457143 509.87818 
L 235.757143 508.548045 
L 236.057143 510.089247 
L 236.357143 511.798118 
L 236.657143 513.481345 
L 236.957143 514.87369 
L 237.257143 515.704693 
L 237.557143 515.616209 
L 237.857143 515.055009 
L 238.157143 513.192787 
L 238.457143 510.338277 
L 238.757143 507.293009 
L 239.057143 504.538415 
L 239.357143 503.611309 
L 239.657143 503.674163 
L 239.957143 504.506568 
L 240.257143 505.010061 
L 240.557143 505.170744 
L 240.857143 504.507489 
L 241.157143 503.099788 
L 241.457143 500.732398 
L 241.757143 498.326761 
L 242.057143 496.847861 
L 242.357143 495.849768 
L 242.657143 494.942883 
L 242.957143 493.964624 
L 243.257143 493.315598 
L 243.557143 492.756445 
L 243.857143 491.797333 
L 244.157143 490.284004 
L 244.457143 487.850937 
L 244.757143 484.564301 
L 245.057143 481.01343 
L 245.357143 477.493789 
L 245.657143 474.387547 
L 245.957143 471.633788 
L 246.257143 469.089164 
L 246.557143 466.135702 
L 246.857143 465.167961 
L 247.157143 464.425212 
L 247.457143 463.168146 
L 247.757143 461.368709 
L 248.057143 458.977806 
L 248.357143 456.802135 
L 248.657143 454.344641 
L 248.957143 451.239219 
L 249.257143 447.652235 
L 249.557143 445.314897 
L 249.857143 445.05976 
L 250.157143 445.293408 
L 250.457143 446.543262 
L 250.757143 446.235152 
L 251.057143 445.229239 
L 251.357143 443.073812 
L 251.657143 441.253532 
L 251.957143 439.284053 
L 252.257143 436.57054 
L 252.557143 433.233427 
L 252.857143 429.975966 
L 253.157143 428.706307 
L 253.457143 428.15328 
L 253.757143 427.600276 
L 254.057143 426.961352 
L 254.357143 426.051122 
L 254.657143 424.669619 
L 254.957143 424.024543 
L 255.257143 424.083784 
L 255.557143 424.579146 
L 255.857143 425.856887 
L 256.157143 426.550583 
L 256.457143 425.507495 
L 256.757143 423.557768 
L 257.057143 422.805535 
L 257.357143 422.750978 
L 257.657143 424.221717 
L 257.957143 425.833497 
L 258.257143 426.832221 
L 258.557143 426.618792 
L 258.857143 426.220568 
L 259.157143 425.585623 
L 259.457143 424.933077 
L 259.757143 424.305155 
L 260.057143 424.261224 
L 260.357143 424.261224 
L 260.657143 424.004266 
L 260.957143 423.743049 
L 261.257143 423.663632 
L 261.557143 423.704938 
L 261.857143 424.164204 
L 262.157143 424.908534 
L 262.457143 426.30427 
L 262.757143 428.369444 
L 263.057143 430.770804 
L 263.357143 431.991039 
L 263.657143 432.075235 
L 263.957143 429.592836 
L 264.257143 425.812403 
L 264.557143 424.781331 
L 264.857143 426.207603 
L 265.157143 429.08663 
L 265.457143 431.916139 
L 265.757143 433.973612 
L 266.057143 435.182163 
L 266.357143 435.291531 
L 266.657143 434.581014 
L 266.957143 431.981345 
L 267.257143 429.4089 
L 267.557143 427.681735 
L 267.857143 426.659675 
L 268.157143 425.172412 
L 268.457143 423.330735 
L 268.757143 421.162271 
L 269.057143 418.823539 
L 269.357143 418.101486 
L 269.657143 418.442467 
L 269.957143 420.733249 
L 270.257143 424.579267 
L 270.557143 427.90429 
L 270.857143 429.64898 
L 271.157143 429.549008 
L 271.457143 429.213189 
L 271.757143 428.440445 
L 272.057143 427.622915 
L 272.357143 426.982894 
L 272.657143 426.731915 
L 272.957143 427.194636 
L 273.257143 428.043939 
L 273.557143 428.386277 
L 273.857143 428.144982 
L 274.157143 427.332556 
L 274.457143 426.850146 
L 274.757143 426.786738 
L 275.057143 427.55206 
L 275.357143 429.122459 
L 275.657143 430.998876 
L 275.957143 432.618525 
L 276.257143 433.027865 
L 276.557143 433.123004 
L 276.857143 432.880485 
L 277.157143 433.027671 
L 277.457143 433.559008 
L 277.757143 433.712423 
L 278.057143 433.719184 
L 278.357143 433.473149 
L 278.657143 433.619051 
L 278.957143 434.335503 
L 279.257143 436.223574 
L 279.557143 437.886109 
L 279.857143 439.139077 
L 280.157143 439.793813 
L 280.457143 441.147004 
L 280.757143 443.446421 
L 281.057143 446.002673 
L 281.357143 448.54847 
L 281.657143 450.166443 
L 281.957143 451.532624 
L 282.257143 452.825594 
L 282.557143 454.077105 
L 282.857143 455.540768 
L 283.157143 457.291818 
L 283.457143 458.687588 
L 283.757143 459.833219 
L 284.057143 460.764783 
L 284.357143 461.473157 
L 284.657143 462.121011 
L 284.957143 463.135544 
L 285.257143 464.360707 
L 285.557143 465.683982 
L 285.857143 466.94119 
L 286.157143 468.30742 
L 286.457143 470.743681 
L 286.757143 473.466082 
L 287.057143 476.347171 
L 287.357143 478.717588 
L 287.657143 479.864907 
L 287.957143 479.961407 
L 288.257143 479.862073 
L 288.557143 479.384768 
L 288.857143 480.02842 
L 289.157143 481.708331 
L 289.457143 483.742041 
L 289.757143 484.870056 
L 290.057143 484.700969 
L 290.357143 484.32576 
L 290.657143 483.698816 
L 290.957143 483.343439 
L 291.257143 483.231545 
L 291.557143 483.486416 
L 291.857143 484.365186 
L 292.157143 486.719909 
L 292.457143 488.470702 
L 292.757143 488.659699 
L 293.057143 487.895154 
L 293.357143 485.597709 
L 293.657143 482.363515 
L 293.957143 479.88101 
L 294.257143 479.517395 
L 294.557143 480.125484 
L 294.857143 482.034758 
L 295.157143 483.849538 
L 295.457143 484.565788 
L 295.757143 484.15549 
L 296.057143 482.719119 
L 296.357143 481.175833 
L 296.657143 480.111066 
L 296.957143 478.950508 
L 297.257143 477.89281 
L 297.557143 476.94783 
L 297.857143 476.720209 
L 298.157143 476.66941 
L 298.457143 476.748735 
L 298.757143 476.601813 
L 299.057143 475.085803 
L 299.357143 474.361868 
L 299.657143 473.784552 
L 299.957143 472.513718 
L 300.257143 470.870814 
L 300.557143 469.801053 
L 300.857143 469.58922 
L 301.157143 469.896801 
L 301.457143 470.667356 
L 301.757143 470.229909 
L 302.057143 469.388984 
L 302.357143 468.221605 
L 302.657143 466.933842 
L 302.957143 465.400143 
L 303.257143 464.041963 
L 303.557143 463.777681 
L 303.857143 463.809136 
L 304.157143 463.934608 
L 304.457143 462.712163 
L 304.757143 459.743988 
L 305.057143 455.861536 
L 305.357143 453.107997 
L 305.657143 452.09698 
L 305.957143 451.937667 
L 306.257143 452.250829 
L 306.557143 452.865153 
L 306.857143 453.545458 
L 307.157143 453.513125 
L 307.457143 452.908852 
L 307.757143 451.563634 
L 308.057143 450.173188 
L 308.357143 449.430315 
L 308.657143 449.001032 
L 308.957143 447.779989 
L 309.257143 444.696425 
L 309.557143 440.707486 
L 309.857143 436.777895 
L 310.157143 433.596487 
L 310.457143 431.747213 
L 310.757143 431.514379 
L 311.057143 432.055079 
L 311.357143 433.978621 
L 311.657143 435.723877 
L 311.957143 437.089169 
L 312.257143 437.42449 
L 312.557143 437.423337 
L 312.857143 435.700095 
L 313.157143 433.45863 
L 313.457143 432.398026 
L 313.757143 432.221078 
L 314.057143 433.456815 
L 314.357143 436.35031 
L 314.657143 439.788483 
L 314.957143 442.34572 
L 315.257143 444.092023 
L 315.557143 444.851991 
L 315.857143 445.061288 
L 316.157143 444.674616 
L 316.457143 444.097913 
L 316.757143 443.549722 
L 317.057143 443.546939 
L 317.357143 443.596714 
L 317.657143 444.213061 
L 317.957143 445.172512 
L 318.257143 446.338338 
L 318.557143 447.070499 
L 318.857143 447.899698 
L 319.157143 449.029153 
L 319.457143 450.919618 
L 319.757143 452.755756 
L 320.057143 454.421553 
L 320.357143 456.302334 
L 320.657143 458.374432 
L 320.957143 460.500748 
L 321.257143 462.332119 
L 321.557143 463.482677 
L 321.857143 464.165687 
L 322.157143 464.608641 
L 322.457143 464.644638 
L 322.757143 464.551696 
L 323.057143 464.459325 
L 323.357143 464.503798 
L 323.657143 465.488798 
L 323.957143 467.047028 
L 324.257143 468.750402 
L 324.557143 469.595135 
L 324.857143 469.65442 
L 325.157143 469.791122 
L 325.457143 470.157826 
L 325.757143 471.996076 
L 326.057143 474.392579 
L 326.357143 477.359072 
L 326.657143 479.784059 
L 326.957143 480.583978 
L 327.257143 479.928138 
L 327.557143 479.714768 
L 327.857143 480.110321 
L 328.157143 481.654903 
L 328.457143 483.652801 
L 328.757143 485.851001 
L 329.057143 487.992372 
L 329.357143 490.536582 
L 329.657143 492.643684 
L 329.957143 493.624444 
L 330.257143 493.76687 
L 330.557143 493.575948 
L 330.857143 493.796544 
L 331.157143 494.450706 
L 331.457143 495.772933 
L 331.757143 497.479098 
L 332.057143 499.479603 
L 332.357143 501.320004 
L 332.657143 502.471621 
L 332.957143 502.873254 
L 333.257143 502.817044 
L 333.557143 502.650957 
L 333.857143 502.084251 
L 334.157143 500.459621 
L 334.457143 498.43172 
L 334.757143 496.700608 
L 335.057143 495.790485 
L 335.357143 495.288781 
L 335.657143 494.440131 
L 335.957143 493.410358 
L 336.257143 492.272878 
L 336.557143 491.12597 
L 336.857143 490.016327 
L 337.157143 488.940867 
L 337.457143 488.357828 
L 337.757143 488.124711 
L 338.057143 487.855639 
L 338.357143 487.52276 
L 338.657143 486.968062 
L 338.957143 487.713608 
L 339.257143 489.291273 
L 339.557143 491.004015 
L 339.857143 492.099255 
L 340.157143 492.465109 
L 340.457143 492.042122 
L 340.757143 490.602683 
L 341.057143 487.016349 
L 341.357143 483.981524 
L 341.657143 483.443353 
L 341.957143 483.21315 
L 342.257143 483.023537 
L 342.557143 482.306554 
L 342.857143 481.53501 
L 343.157143 480.893497 
L 343.457143 480.189314 
L 343.757143 479.377696 
L 344.057143 478.646842 
L 344.357143 477.977651 
L 344.657143 477.57024 
L 344.957143 477.384069 
L 345.257143 477.141238 
L 345.557143 476.691188 
L 345.857143 476.200159 
L 346.157143 475.655308 
L 346.457143 475.798533 
L 346.757143 476.844036 
L 347.057143 478.673342 
L 347.357143 479.62791 
L 347.657143 479.973149 
L 347.957143 479.654968 
L 348.257143 479.021181 
L 348.557143 477.986381 
L 348.857143 477.205505 
L 349.157143 476.749373 
L 349.457143 476.608452 
L 349.757143 477.079372 
L 350.057143 477.960141 
L 350.357143 479.114744 
L 350.657143 479.793109 
L 350.957143 480.096992 
L 351.257143 479.877052 
L 351.557143 479.48497 
L 351.857143 478.879102 
L 352.157143 478.152168 
L 352.457143 477.27441 
L 352.757143 476.229098 
L 353.057143 474.934633 
L 353.357143 472.84528 
L 353.657143 469.680445 
L 353.957143 466.428914 
L 354.257143 464.651439 
L 354.557143 464.371454 
L 354.857143 465.040816 
L 355.157143 466.194414 
L 355.457143 467.337098 
L 355.757143 468.421832 
L 356.057143 469.320638 
L 356.357143 470.024602 
L 356.657143 470.179592 
L 356.957143 470.178612 
L 357.257143 468.705282 
L 357.557143 466.869786 
L 357.857143 465.539805 
L 358.157143 464.821006 
L 358.457143 464.122176 
L 358.757143 463.394555 
L 359.057143 462.593553 
L 359.357143 461.680972 
L 359.657143 460.329869 
L 359.957143 458.920793 
L 360.257143 458.098628 
L 360.557143 457.081772 
L 360.857143 455.333887 
L 361.157143 453.297547 
L 361.457143 451.642274 
L 361.757143 450.686089 
L 362.057143 450.266349 
L 362.357143 450.123269 
L 362.657143 450.241675 
L 362.957143 451.166645 
L 363.257143 453.036735 
L 363.557143 454.841549 
L 363.857143 456.107379 
L 364.157143 457.176054 
L 364.457143 458.281272 
L 364.757143 459.564509 
L 365.057143 460.897575 
L 365.357143 461.538514 
L 365.657143 461.456772 
L 365.957143 460.987481 
L 366.257143 460.478032 
L 366.557143 460.194485 
L 366.857143 460.083089 
L 367.157143 460.376892 
L 367.457143 461.160141 
L 367.757143 461.948154 
L 368.057143 462.177655 
L 368.357143 462.270071 
L 368.657143 462.349598 
L 368.957143 462.99011 
L 369.257143 463.415816 
L 369.557143 463.561119 
L 369.857143 463.567347 
L 370.157143 463.56205 
L 370.457143 463.375347 
L 370.757143 463.572066 
L 371.057143 464.776442 
L 371.357143 466.596209 
L 371.657143 467.922808 
L 371.957143 468.336279 
L 372.257143 468.74295 
L 372.557143 469.251126 
L 372.857143 469.829151 
L 373.157143 469.742183 
L 373.457143 469.037885 
L 373.757143 467.67501 
L 374.057143 466.542725 
L 374.357143 465.502882 
L 374.657143 464.642857 
L 374.957143 464.109345 
L 375.257143 463.660383 
L 375.557143 463.26245 
L 375.857143 462.723271 
L 376.157143 461.880757 
L 376.457143 460.602907 
L 376.757143 459.007119 
L 377.057143 457.546416 
L 377.357143 455.923815 
L 377.657143 454.018776 
L 377.957143 451.194713 
L 378.257143 448.138776 
L 378.557143 445.093252 
L 378.857143 442.211913 
L 379.157143 440.401215 
L 379.457143 440.059488 
L 379.757143 440.255497 
L 380.057143 440.550852 
L 380.357143 440.755801 
L 380.657143 441.146172 
L 380.957143 441.895267 
L 381.257143 442.600742 
L 381.557143 442.912998 
L 381.857143 442.366778 
L 382.157143 441.942746 
L 382.457143 441.711988 
L 382.757143 442.109748 
L 383.057143 442.38167 
L 383.357143 442.345032 
L 383.657143 441.988089 
L 383.957143 440.890938 
L 384.257143 439.366522 
L 384.557143 436.601771 
L 384.857143 433.529835 
L 385.157143 430.83739 
L 385.457143 428.765108 
L 385.757143 427.168588 
L 386.057143 425.697008 
L 386.357143 424.925943 
L 386.657143 424.55126 
L 386.957143 423.954499 
L 387.257143 423.246329 
L 387.557143 422.939703 
L 387.857143 422.739027 
L 388.157143 422.586892 
L 388.457143 422.074141 
L 388.757143 419.739354 
L 389.057143 417.16148 
L 389.357143 415.430864 
L 389.657143 414.698913 
L 389.957143 414.336805 
L 390.257143 414.133252 
L 390.557143 413.759134 
L 390.857143 412.838381 
L 391.157143 412.10441 
L 391.457143 411.26289 
L 391.757143 409.681309 
L 392.057143 408.777202 
L 392.357143 408.554535 
L 392.657143 408.738205 
L 392.957143 409.828162 
L 393.257143 411.097959 
L 393.557143 411.792015 
L 393.857143 411.6434 
L 394.157143 410.622845 
L 394.457143 409.129439 
L 394.757143 408.739241 
L 395.057143 409.053596 
L 395.357143 410.254902 
L 395.657143 412.186578 
L 395.957143 413.863812 
L 396.257143 414.239421 
L 396.557143 414.380523 
L 396.857143 414.450285 
L 397.157143 414.43683 
L 397.457143 414.240283 
L 397.757143 414.24824 
L 398.057143 414.356505 
L 398.357143 414.808361 
L 398.657143 414.936176 
L 398.957143 414.802293 
L 399.257143 414.46148 
L 399.557143 414.22781 
L 399.857143 414.452332 
L 400.157143 415.231762 
L 400.457143 416.195137 
L 400.757143 416.958403 
L 401.057143 417.267106 
L 401.357143 417.517269 
L 401.657143 417.770526 
L 401.957143 418.453156 
L 402.257143 419.636497 
L 402.557143 421.396628 
L 402.857143 423.289486 
L 403.157143 425.236443 
L 403.457143 427.165015 
L 403.757143 429.125987 
L 404.057143 431.016246 
L 404.357143 432.263669 
L 404.657143 432.653253 
L 404.957143 433.296546 
L 405.257143 434.278566 
L 405.557143 435.582206 
L 405.857143 437.01491 
L 406.157143 438.572121 
L 406.457143 440.261218 
L 406.757143 441.93639 
L 407.057143 443.624886 
L 407.357143 445.679705 
L 407.657143 447.942013 
L 407.957143 450.331238 
L 408.257143 452.830621 
L 408.557143 455.412538 
L 408.857143 457.495759 
L 409.157143 459.03975 
L 409.457143 460.191429 
L 409.757143 460.947644 
L 410.057143 461.356982 
L 410.357143 461.477818 
L 410.657143 461.356779 
L 410.957143 461.203929 
L 411.257143 460.995918 
L 411.557143 460.621215 
L 411.857143 460.26406 
L 412.157143 460.088561 
L 412.457143 460.623814 
L 412.757143 462.653548 
L 413.057143 465.237618 
L 413.357143 467.409275 
L 413.657143 469.008555 
L 413.957143 470.319557 
L 414.257143 471.453315 
L 414.557143 472.598978 
L 414.857143 474.566575 
L 415.157143 476.616701 
L 415.457143 478.409866 
L 415.757143 480.291472 
L 416.057143 482.875209 
L 416.357143 485.411643 
L 416.657143 487.436926 
L 416.957143 489.159067 
L 417.257143 490.664286 
L 417.557143 492.038648 
L 417.857143 493.330189 
L 418.157143 494.642602 
L 418.457143 495.955102 
L 418.757143 497.267602 
L 419.057143 498.597222 
L 419.357143 499.886031 
L 419.657143 501.017372 
L 419.957143 502.131122 
L 420.257143 503.256122 
L 420.557143 504.347412 
L 420.857143 505.542149 
L 421.157143 507.066749 
L 421.457143 508.593257 
L 421.757143 509.559875 
L 422.057143 509.886012 
L 422.357143 509.853454 
L 422.657143 509.593114 
L 422.957143 508.472166 
L 423.257143 507.420004 
L 423.557143 506.853384 
L 423.857143 506.945649 
L 424.157143 507.482513 
L 424.457143 508.154547 
L 424.757143 508.256311 
L 425.057143 507.845254 
L 425.357143 506.740103 
L 425.657143 505.184229 
L 425.957143 504.015604 
L 426.257143 503.614683 
L 426.557143 503.786752 
L 426.857143 504.490146 
L 427.157143 505.449455 
L 427.457143 506.465306 
L 427.757143 507.477532 
L 428.057143 508.447343 
L 428.357143 509.121296 
L 428.657143 509.59988 
L 428.957143 509.918153 
L 429.257143 510.077325 
L 429.557143 509.958646 
L 429.857143 509.229989 
L 430.157143 507.517562 
L 430.457143 505.487166 
L 430.757143 503.462755 
L 431.057143 501.594287 
L 431.357143 500.057959 
L 431.657143 499.004184 
L 431.957143 498.461374 
L 432.257143 498.359689 
L 432.557143 498.099367 
L 432.857143 497.041892 
L 433.157143 495.716656 
L 433.457143 494.092803 
L 433.757143 492.278738 
L 434.057143 491.359773 
L 434.357143 491.162516 
L 434.657143 491.118367 
L 434.957143 491.118367 
L 435.257143 491.053976 
L 435.557143 490.494319 
L 435.857143 489.12168 
L 436.157143 486.906573 
L 436.457143 484.186667 
L 436.757143 481.138776 
L 437.057143 478.138776 
L 437.357143 475.138776 
L 437.657143 472.071143 
L 437.957143 469.361981 
L 438.257143 467.148267 
L 438.557143 465.102452 
L 438.857143 463.21101 
L 439.157143 461.878828 
L 439.457143 460.784069 
L 439.757143 459.573724 
L 440.057143 458.468238 
L 440.357143 457.595942 
L 440.657143 456.837808 
L 440.957143 456.161185 
L 441.257143 455.530009 
L 441.557143 454.951534 
L 441.857143 454.671761 
L 442.157143 454.571128 
L 442.457143 454.773498 
L 442.757143 455.621354 
L 443.057143 457.27578 
L 443.357143 458.854443 
L 443.657143 459.665963 
L 443.957143 460.006511 
L 444.257143 460.066061 
L 444.557143 459.960953 
L 444.857143 459.681284 
L 445.157143 459.176853 
L 445.457143 458.927057 
L 445.757143 458.870012 
L 446.057143 459.017633 
L 446.357143 458.932777 
L 446.657143 458.526292 
L 446.957143 457.465101 
L 447.257143 456.26332 
L 447.557143 455.15286 
L 447.857143 453.706767 
L 448.157143 452.24355 
L 448.457143 451.081844 
L 448.757143 450.617605 
L 449.057143 450.431718 
L 449.357143 450.350034 
L 449.657143 450.434334 
L 449.957143 450.856887 
L 450.257143 452.165867 
L 450.557143 453.362076 
L 450.857143 454.419131 
L 451.157143 455.337359 
L 451.457143 455.803803 
L 451.757143 455.967573 
L 452.057143 455.326524 
L 452.357143 454.507646 
L 452.657143 453.664861 
L 452.957143 452.828618 
L 453.257143 451.902926 
L 453.557143 450.743629 
L 453.857143 450.227257 
L 454.157143 450.114269 
L 454.457143 450.267471 
L 454.757143 450.530403 
L 455.057143 450.751098 
L 455.357143 450.85746 
L 455.657143 450.98498 
L 455.957143 451.077212 
L 456.257143 450.474932 
L 456.557143 448.966979 
L 456.857143 447.097294 
L 457.157143 445.478774 
L 457.457143 444.393456 
L 457.757143 443.930158 
L 458.057143 443.87951 
L 458.357143 443.972862 
L 458.657143 443.900785 
L 458.957143 443.611831 
L 459.257143 442.628571 
L 459.557143 442.163512 
L 459.857143 442.528807 
L 460.157143 443.70329 
L 460.457143 445.161334 
L 460.757143 446.049757 
L 461.057143 446.39826 
L 461.357143 446.88928 
L 461.657143 447.841517 
L 461.957143 449.380173 
L 462.257143 449.957313 
L 462.557143 450.542443 
L 462.857143 451.304359 
L 463.157143 452.313424 
L 463.457143 453.069262 
L 463.757143 453.219354 
L 464.057143 453.443145 
L 464.357143 454.040244 
L 464.657143 454.629787 
L 464.957143 455.432473 
L 465.257143 457.016327 
L 465.557143 458.279551 
L 465.857143 459.415944 
L 466.157143 460.557127 
L 466.457143 461.830419 
L 466.757143 463.354113 
L 467.057143 465.115008 
L 467.357143 466.809682 
L 467.657143 468.724643 
L 467.957143 470.519125 
L 468.257143 471.810257 
L 468.557143 472.676997 
L 468.857143 473.341214 
L 469.157143 473.86937 
L 469.457143 474.581782 
L 469.757143 475.578718 
L 470.057143 476.809144 
L 470.357143 478.212004 
L 470.657143 479.724207 
L 470.957143 481.219887 
L 471.257143 482.730612 
L 471.557143 484.305231 
L 471.857143 486.182106 
L 472.157143 488.522068 
L 472.457143 491.036066 
L 472.757143 493.536735 
L 473.057143 496.084064 
L 473.357143 498.392918 
L 473.657143 500.189358 
L 473.957143 501.354812 
L 474.257143 501.738727 
L 474.557143 502.147852 
L 474.857143 502.732202 
L 475.157143 503.271817 
L 475.457143 503.88075 
L 475.757143 504.780762 
L 476.057143 505.892464 
L 476.357143 507.251786 
L 476.657143 508.999313 
L 476.957143 510.533709 
L 477.257143 511.370381 
L 477.557143 511.735242 
L 477.857143 511.657777 
L 478.157143 511.40572 
L 478.457143 511.019184 
L 478.757143 510.638669 
L 479.057143 510.347878 
L 479.357143 510.547155 
L 479.657143 510.704901 
L 479.957143 510.594961 
L 480.257143 510.298732 
L 480.557143 509.623469 
L 480.857143 508.585243 
L 481.157143 507.347319 
L 481.457143 506.03964 
L 481.757143 504.486499 
L 482.057143 502.728025 
L 482.357143 500.87916 
L 482.657143 498.909403 
L 482.957143 496.825526 
L 483.257143 494.741181 
L 483.557143 492.721884 
L 483.857143 490.871242 
L 484.157143 488.9036 
L 484.457143 486.817728 
L 484.757143 484.775114 
L 485.057143 482.664939 
L 485.357143 480.431694 
L 485.657143 477.94135 
L 485.957143 475.268878 
L 486.257143 472.643878 
L 486.557143 469.910079 
L 486.857143 467.11973 
L 487.157143 466.24177 
L 487.457143 464.992111 
L 487.757143 462.457224 
L 488.057143 460.238465 
L 488.357143 457.893166 
L 488.657143 455.269491 
L 488.957143 452.453213 
L 489.257143 449.491399 
L 489.557143 446.489847 
L 489.857143 443.485714 
L 490.157143 440.485714 
L 490.457143 437.485714 
L 490.757143 434.478493 
L 491.057143 431.441587 
L 491.357143 428.651104 
L 491.657143 426.097959 
L 491.957143 423.554959 
L 492.257143 422.045651 
L 492.557143 421.325626 
L 492.857143 420.965778 
L 493.157143 420.670929 
L 493.457143 420.193934 
L 493.757143 419.199215 
L 494.057143 417.837971 
L 494.357143 416.648333 
L 494.657143 415.924342 
L 494.957143 415.396705 
L 495.257143 414.701038 
L 495.557143 413.836498 
L 495.857143 412.717504 
L 496.157143 411.02292 
L 496.457143 408.76733 
L 496.757143 406.254397 
L 497.057143 403.671609 
L 497.357143 401.572498 
L 497.657143 400.282479 
L 497.957143 399.564838 
L 498.257143 399.243678 
L 498.557143 398.991593 
L 498.857143 398.626709 
L 499.157143 398.16735 
L 499.457143 397.666105 
L 499.757143 397.407484 
L 500.057143 397.331082 
L 500.357143 397.487379 
L 500.657143 397.716855 
L 500.957143 398.049574 
L 501.257143 398.614741 
L 501.557143 398.872261 
L 501.857143 398.902467 
L 502.157143 398.951799 
L 502.457143 399.051496 
L 502.757143 399.651767 
L 503.057143 400.386507 
L 503.357143 401.14147 
L 503.657143 402.17449 
L 503.957143 403.349411 
L 504.257143 404.521922 
L 504.557143 405.448054 
L 504.857143 406.187317 
L 505.157143 406.796529 
L 505.457143 407.299226 
L 505.757143 407.939739 
L 506.057143 408.767076 
L 506.357143 409.634269 
L 506.657143 410.540849 
L 506.957143 411.446939 
L 507.257143 412.346939 
L 507.557143 413.238361 
L 507.857143 414.093978 
L 508.157143 415.116933 
L 508.457143 416.435989 
L 508.757143 418.026815 
L 509.057143 419.795248 
L 509.357143 421.546124 
L 509.657143 422.80042 
L 509.957143 423.829427 
L 510.257143 424.713842 
L 510.557143 425.900825 
L 510.857143 427.545643 
L 511.157143 429.698554 
L 511.457143 431.966719 
L 511.757143 434.181547 
L 512.057143 436.062578 
L 512.357143 437.907922 
L 512.657143 439.873469 
L 512.957143 442.607586 
L 513.257143 445.397053 
L 513.557143 448.067791 
L 513.857143 450.306009 
L 514.157143 451.965304 
L 514.457143 453.309973 
L 514.757143 454.636879 
L 515.057143 456.130191 
L 515.357143 457.790615 
L 515.657143 459.493006 
L 515.957143 461.049371 
L 516.257143 462.01837 
L 516.557143 462.287153 
L 516.857143 462.34252 
L 517.157143 462.242769 
L 517.457143 462.019316 
L 517.757143 461.653504 
L 518.057143 461.739708 
L 518.357143 462.231545 
L 518.657143 463.119387 
L 518.957143 464.114541 
L 519.257143 465.052041 
L 519.557143 465.973542 
L 519.857143 466.938757 
L 520.157143 468.048793 
L 520.457143 469.357357 
L 520.757143 470.259032 
L 521.057143 470.436818 
L 521.357143 470.580456 
L 521.657143 470.669388 
L 521.957143 470.203664 
L 522.257143 469.774195 
L 522.557143 469.579192 
L 522.857143 469.697526 
L 523.157143 469.871945 
L 523.457143 469.757146 
L 523.757143 469.651018 
L 524.057143 469.579371 
L 524.357143 469.488913 
L 524.657143 469.444898 
L 524.957143 469.444898 
L 525.257143 469.569908 
L 525.557143 470.10212 
L 525.857143 470.854882 
L 526.157143 471.317773 
L 526.457143 471.280772 
L 526.757143 470.59238 
L 527.057143 469.541421 
L 527.357143 469.041395 
L 527.657143 469.038128 
L 527.957143 469.694204 
L 528.257143 470.774445 
L 528.557143 472.273872 
L 528.857143 473.546927 
L 529.157143 474.269778 
L 529.457143 474.850202 
L 529.757143 475.427778 
L 530.057143 476.348103 
L 530.357143 477.316071 
L 530.657143 478.253571 
L 530.957143 479.180519 
L 531.257143 480.148826 
L 531.557143 481.349294 
L 531.857143 481.845492 
L 532.157143 482.03542 
L 532.457143 482.428308 
L 532.757143 482.972267 
L 533.057143 483.368292 
L 533.357143 483.731167 
L 533.657143 484.090944 
L 533.957143 484.644006 
L 534.257143 485.178346 
L 534.557143 485.141026 
L 534.857143 485.278419 
L 535.157143 486.43046 
L 535.457143 487.194565 
L 535.757143 487.604614 
L 536.057143 487.992769 
L 536.357143 488.556488 
L 536.657143 488.721285 
L 536.957143 488.789325 
L 537.257143 489.178776 
L 537.557143 489.445214 
L 537.857143 489.521749 
L 538.157143 489.354411 
L 538.457143 488.875839 
L 538.757143 488.23024 
L 539.057143 488.057143 
L 539.357143 488.057143 
L 539.657143 488.371429 
L 539.957143 489.015786 
L 540.257143 489.583377 
L 540.557143 490.415791 
L 540.857143 491.442064 
L 541.157143 492.189545 
L 541.457143 492.365765 
L 541.757143 492.615547 
L 542.057143 493.02 
L 542.357143 493.303045 
L 542.657143 493.701533 
L 542.957143 494.602425 
L 543.257143 494.782727 
L 543.557143 494.388613 
L 543.857143 493.560852 
L 544.157143 492.688062 
L 544.457143 491.935422 
L 544.757143 491.555909 
L 545.057143 491.795287 
L 545.357143 492.491291 
L 545.657143 493.124851 
L 545.957143 493.411498 
L 546.257143 493.527184 
L 546.557143 493.56205 
L 546.857143 493.375347 
L 547.157143 493.407649 
L 547.457143 493.683907 
L 547.757143 493.502869 
L 548.057143 493.056375 
L 548.357143 492.648244 
L 548.657143 492.412535 
L 548.957143 491.855498 
L 549.257143 491.142734 
L 549.557143 490.58994 
L 549.857143 490.004947 
L 550.157143 489.355498 
L 550.457143 488.538655 
L 550.757143 487.629853 
L 551.057143 486.676544 
L 551.357143 485.80842 
L 551.657143 484.995918 
L 551.957143 484.133873 
L 552.257143 483.424014 
L 552.557143 482.890958 
L 552.857143 482.170265 
L 553.157143 481.44936 
L 553.457143 480.982744 
L 553.757143 480.55967 
L 554.057143 480.03074 
L 554.357143 479.666363 
L 554.657143 479.577191 
L 554.957143 479.488711 
L 555.257143 479.138646 
L 555.557143 478.699536 
L 555.857143 478.360325 
L 556.157143 478.050343 
L 556.457143 477.775388 
L 556.757143 477.221953 
L 557.057143 476.257879 
L 557.357143 474.840465 
L 557.657143 473.099713 
L 557.957143 471.140021 
L 558.257143 469.817056 
L 558.557143 468.828596 
L 558.857143 468.063285 
L 559.157143 467.34687 
L 559.457143 466.5539 
L 559.757143 465.969814 
L 560.057143 465.574421 
L 560.357143 464.935314 
L 560.657143 463.912899 
L 560.957143 463.240762 
L 561.257143 462.770768 
L 561.557143 462.470851 
L 561.857143 462.17992 
L 562.157143 461.825884 
L 562.457143 461.454862 
L 562.757143 461.032176 
L 563.057143 460.816107 
L 563.357143 460.721378 
L 563.657143 460.232427 
L 563.957143 459.280268 
L 564.257143 457.998438 
L 564.557143 456.369308 
L 564.857143 454.415569 
L 565.157143 452.464505 
L 565.457143 450.770935 
L 565.757143 449.451987 
L 566.057143 448.371429 
L 566.357143 447.512144 
L 566.657143 446.829499 
L 566.957143 446.560885 
L 567.257143 446.48902 
L 567.557143 446.770179 
L 567.857143 447.435558 
L 568.157143 448.208668 
L 568.457143 448.998847 
L 568.757143 449.703012 
L 569.057143 450.190234 
L 569.357143 450.524042 
L 569.657143 450.71463 
L 569.957143 450.951642 
L 570.257143 451.392363 
L 570.557143 451.87683 
L 570.857143 452.335582 
L 571.157143 452.773541 
L 571.457143 453.198933 
L 571.757143 453.543391 
L 572.057143 453.820417 
L 572.357143 453.955051 
L 572.657143 453.853061 
L 572.957143 453.653071 
L 573.257143 453.308238 
L 573.557143 453.037998 
L 573.857143 453.190123 
L 574.157143 453.498422 
L 574.457143 453.798245 
L 574.757143 454.10215 
L 575.057143 454.373309 
L 575.357143 454.561274 
L 575.657143 454.515918 
L 575.957143 454.323818 
L 576.257143 453.475696 
L 576.557143 452.539068 
L 576.857143 451.585542 
L 577.157143 450.483682 
L 577.457143 449.705911 
L 577.757143 449.344301 
L 578.057143 448.932125 
L 578.357143 448.308918 
L 578.657143 447.721924 
L 578.957143 447.146734 
L 579.257143 446.91555 
L 579.557143 446.965474 
L 579.857143 447.047929 
L 580.157143 447.195673 
L 580.457143 447.275904 
L 580.757143 446.56048 
L 581.057143 445.475068 
L 581.357143 444.268285 
L 581.657143 443.858025 
L 581.957143 443.733409 
L 582.257143 443.806405 
L 582.557143 443.84709 
L 582.857143 443.591327 
L 583.157143 443.353537 
L 583.457143 443.272323 
L 583.757143 443.240816 
L 584.057143 443.240816 
L 584.357143 443.240611 
L 584.657143 442.86773 
L 584.957143 442.265343 
L 585.257143 441.549716 
L 585.557143 441.019613 
L 585.857143 440.632412 
L 586.157143 440.410793 
L 586.457143 440.150089 
L 586.757143 439.6069 
L 587.057143 438.944457 
L 587.357143 438.273671 
L 587.657143 438.089541 
L 587.957143 438.044048 
L 588.257143 438.241889 
L 588.557143 438.451949 
L 588.857143 438.637127 
L 589.157143 438.782665 
L 589.457143 438.813463 
L 589.757143 438.507047 
L 590.057143 437.633422 
L 590.357143 436.268751 
L 590.657143 435.041293 
L 590.957143 433.953013 
L 591.257143 433.17045 
L 591.557143 432.557232 
L 591.857143 432.204825 
L 592.157143 432.112109 
L 592.457143 432.271448 
L 592.757143 433.038596 
L 593.057143 433.986406 
L 593.357143 435.050726 
L 593.657143 436.2 
L 593.957143 437.325 
L 594.257143 438.45 
L 594.557143 439.575 
L 594.857143 440.768189 
L 595.157143 441.78699 
L 595.457143 442.45592 
L 595.757143 442.675038 
L 596.057143 442.736312 
L 596.357143 442.847773 
L 596.657143 443.06133 
L 596.957143 443.680271 
L 597.257143 444.377649 
L 597.557143 445.047485 
L 597.857143 445.443611 
L 598.157143 445.774741 
L 598.457143 446.129463 
L 598.757143 446.536337 
L 599.057143 447.206391 
L 599.357143 448.005872 
L 599.657143 448.792862 
L 599.957143 449.350768 
L 600.257143 449.764982 
L 600.557143 450.280953 
L 600.857143 450.898465 
L 601.157143 451.506122 
L 601.457143 452.106122 
L 601.757143 452.707789 
L 602.057143 453.312061 
L 602.357143 453.887452 
L 602.657143 454.440385 
L 602.957143 455.141887 
L 603.257143 455.91586 
L 603.557143 456.689817 
L 603.857143 457.366961 
L 604.157143 457.903 
L 604.457143 458.101588 
L 604.757143 458.33213 
L 605.057143 458.857804 
L 605.357143 459.309721 
L 605.657143 459.64898 
L 605.957143 459.844234 
L 606.257143 459.842865 
L 606.557143 459.406293 
L 606.857143 458.853594 
L 607.157143 458.405809 
L 607.457143 458.264839 
L 607.757143 458.447095 
L 608.057143 459.396106 
L 608.357143 460.396595 
L 608.657143 460.97661 
L 608.957143 461.109956 
L 609.257143 461.026106 
L 609.557143 460.743138 
L 609.857143 460.193032 
L 610.157143 459.527367 
L 610.457143 458.770042 
L 610.757143 458.116565 
L 611.057143 457.757803 
L 611.357143 457.392389 
L 611.657143 457.016327 
L 611.957143 456.641383 
L 612.257143 456.238371 
L 612.557143 455.730378 
L 612.857143 455.215402 
L 613.157143 454.790035 
L 613.457143 454.510175 
L 613.757143 454.362566 
L 614.057143 454.22449 
L 614.357143 454.07449 
L 614.657143 453.917315 
L 614.957143 453.773495 
L 615.257143 453.676408 
L 615.557143 453.680386 
L 615.857143 454.013461 
L 616.157143 454.623647 
L 616.457143 455.562991 
L 616.757143 456.658609 
L 617.057143 457.590124 
L 617.357143 458.100132 
L 617.657143 458.227482 
L 617.957143 458.229352 
L 618.257143 458.181645 
L 618.557143 458.094299 
L 618.857143 458.089273 
L 619.157143 458.428986 
L 619.457143 458.827636 
L 619.757143 459.313466 
L 620.057143 459.902835 
L 620.357143 460.533241 
L 620.657143 461.177733 
L 620.957143 461.779466 
L 621.257143 462.29105 
L 621.557143 462.655721 
L 621.857143 463.078999 
L 622.157143 463.534637 
L 622.457143 463.833031 
L 622.757143 463.932175 
L 623.057143 463.892405 
L 623.357143 463.820692 
L 623.657143 463.75102 
L 623.957143 464.091169 
L 624.257143 464.762686 
L 624.557143 465.788392 
L 624.857143 466.885485 
L 625.157143 468.042622 
L 625.457143 469.236821 
L 625.757143 469.967716 
L 626.057143 470.485714 
L 626.357143 471.002288 
L 626.657143 471.785843 
L 626.957143 472.83486 
L 627.257143 473.237556 
L 627.557143 472.970051 
L 627.857143 472.498674 
L 628.157143 472.003965 
L 628.457143 471.782988 
L 628.757143 471.645283 
L 629.057143 471.425845 
L 629.357143 471.198024 
L 629.657143 470.978549 
L 629.957143 470.693266 
L 630.257143 469.957058 
L 630.557143 468.511572 
L 630.857143 467.004904 
L 631.157143 465.691319 
L 631.457143 465.240371 
L 631.757143 464.868022 
L 632.057143 464.295344 
L 632.357143 463.685768 
L 632.657143 463.150822 
L 632.957143 462.900043 
L 633.257143 462.83951 
L 633.557143 462.921067 
L 633.857143 463.082481 
L 634.157143 463.337076 
L 634.457143 463.565678 
L 634.757143 464.039183 
L 635.057143 464.758793 
L 635.357143 465.111951 
L 635.657143 465.129934 
L 635.957143 464.986082 
L 636.257143 464.66893 
L 636.557143 464.227723 
L 636.857143 463.733626 
L 637.157143 463.162852 
L 637.457143 462.702676 
L 637.757143 462.556097 
L 638.057143 462.540593 
L 638.357143 462.668803 
L 638.657143 463.085722 
L 638.957143 463.863708 
L 639.257143 464.804082 
L 639.557143 465.779523 
L 639.857143 466.716158 
L 640.157143 467.383201 
L 640.457143 468.022072 
L 640.757143 468.754284 
L 641.057143 469.67336 
L 641.357143 470.769644 
L 641.657143 471.928488 
L 641.957143 472.938113 
L 642.257143 473.731662 
L 642.557143 474.635846 
L 642.857143 475.655952 
L 643.157143 476.837017 
L 643.457143 478.101947 
L 643.757143 479.427239 
L 644.057143 480.654741 
L 644.357143 482.169706 
L 644.657143 484.71528 
L 644.957143 486.974719 
L 645.257143 489.274755 
L 645.557143 491.275968 
L 645.857143 492.902928 
L 646.157143 494.21148 
L 646.457143 495.280413 
L 646.757143 496.174382 
L 647.057143 496.773162 
L 647.357143 497.230542 
L 647.657143 497.717595 
L 647.957143 498.375264 
L 648.257143 499.303461 
L 648.557143 500.080196 
L 648.857143 500.350467 
L 649.157143 500.418548 
L 649.457143 500.334396 
L 649.757143 500.24333 
L 650.057143 500.179592 
L 650.357143 500.45185 
L 650.657143 500.888981 
L 650.957143 501.390634 
L 651.257143 501.901559 
L 651.557143 502.441202 
L 651.857143 503.035846 
L 652.157143 503.676337 
L 652.457143 504.325078 
L 652.757143 504.768341 
L 653.057143 504.832653 
L 653.357143 504.832653 
L 653.657143 504.30145 
L 653.957143 503.24 
L 654.257143 501.703672 
L 654.557143 499.835204 
L 654.857143 497.811568 
L 655.157143 495.797382 
L 655.457143 493.982678 
L 655.757143 492.453881 
L 656.057143 491.118367 
L 656.357143 489.856263 
L 656.657143 488.676306 
L 656.957143 487.567729 
L 657.257143 486.374921 
L 657.557143 485.10875 
L 657.857143 483.777071 
L 658.157143 482.359949 
L 658.457143 480.845482 
L 658.757143 479.174753 
L 659.057143 477.510512 
L 659.357143 475.9959 
L 659.657143 474.612548 
L 659.957143 473.32098 
L 660.257143 472.008673 
L 660.557143 470.703825 
L 660.857143 469.417959 
L 661.157143 467.867655 
L 661.457143 466.131024 
L 661.757143 464.419747 
L 662.057143 462.812395 
L 662.357143 461.330304 
L 662.657143 459.832653 
L 662.957143 458.333659 
L 663.257143 456.85383 
L 663.557143 455.237806 
L 663.857143 453.528233 
L 664.157143 452.13825 
L 664.457143 450.909178 
L 664.757143 449.793413 
L 665.057143 448.679697 
L 665.357143 447.550212 
L 665.657143 446.361428 
L 665.957143 445.134922 
L 666.257143 443.877231 
L 666.557143 442.786603 
L 666.857143 441.817457 
L 667.157143 440.894526 
L 667.457143 440.236495 
L 667.757143 439.779466 
L 668.057143 439.272336 
L 668.357143 438.727502 
L 668.657143 438.11659 
L 668.957143 437.54453 
L 669.257143 437.032193 
L 669.557143 436.571202 
L 669.857143 436.365446 
L 670.157143 436.325609 
L 670.457143 436.433526 
L 670.757143 436.820305 
L 671.057143 437.349429 
L 671.357143 437.976018 
L 671.657143 438.659145 
L 671.957143 439.450705 
L 672.257143 440.109897 
L 672.557143 440.480316 
L 672.857143 440.52049 
L 673.157143 440.427138 
L 673.457143 440.460186 
L 673.757143 440.611816 
L 674.057143 441.404082 
L 674.357143 442.868473 
L 674.657143 444.583924 
L 674.957143 446.366318 
L 675.257143 448.049709 
L 675.557143 449.493265 
L 675.857143 450.622794 
L 676.157143 451.711762 
L 676.457143 452.830643 
L 676.757143 454.320628 
L 677.057143 455.599975 
L 677.357143 456.571484 
L 677.657143 457.318421 
L 677.957143 457.726513 
L 678.257143 457.921803 
L 678.557143 457.934694 
L 678.857143 457.933202 
L 679.157143 457.754989 
L 679.457143 457.527604 
L 679.757143 457.329762 
L 680.057143 457.360714 
L 680.357143 457.474075 
L 680.657143 457.754253 
L 680.957143 457.812245 
L 681.257143 457.812245 
L 681.557143 457.767851 
L 681.857143 457.627402 
L 682.157143 457.201997 
L 682.457143 456.882122 
L 682.757143 456.710204 
L 683.057143 456.710204 
L 683.357143 456.684159 
L 683.657143 456.466913 
L 683.957143 456.171652 
L 684.257143 455.72793 
L 684.557143 455.02673 
L 684.857143 454.034222 
L 685.157143 452.643624 
L 685.457143 450.917772 
L 685.757143 448.89693 
L 686.057143 446.663554 
L 686.357143 444.184792 
L 686.657143 441.511425 
L 686.957143 438.886224 
L 687.257143 436.261224 
L 687.557143 433.636224 
L 687.857143 430.976985 
L 688.157143 428.399367 
L 688.457143 426.136684 
L 688.757143 423.882515 
L 689.057143 421.60896 
L 689.357143 419.764545 
L 689.657143 418.20273 
L 689.957143 416.802021 
L 690.257143 415.861314 
L 690.557143 415.2443 
L 690.857143 414.887407 
L 691.157143 414.655688 
L 691.457143 414.48411 
L 691.757143 414.494954 
L 692.057143 414.587755 
L 692.357143 414.680556 
L 692.657143 414.649155 
L 692.957143 414.125584 
L 693.257143 413.516115 
L 693.557143 412.876982 
L 693.857143 412.303454 
L 694.157143 412.083254 
L 694.457143 412.017845 
L 694.757143 412.129396 
L 695.057143 412.367427 
L 695.357143 412.616534 
L 695.657143 412.989756 
L 695.957143 413.514794 
L 696.257143 414.123492 
L 696.557143 414.551572 
L 696.857143 414.754817 
L 697.157143 415.030488 
L 697.457143 415.400952 
L 697.757143 415.895781 
L 698.057143 416.704664 
L 698.357143 418.10888 
L 698.657143 419.675848 
L 698.957143 421.469086 
L 699.257143 423.514407 
L 699.557143 425.68185 
L 699.857143 427.955046 
L 700.157143 430.382815 
L 700.457143 432.79374 
L 700.757143 435.073862 
L 701.057143 437.112497 
L 701.357143 438.921026 
L 701.657143 440.474122 
L 701.957143 441.878265 
L 702.257143 443.175548 
L 702.557143 444.494769 
L 702.857143 445.791642 
L 703.157143 446.98991 
L 703.457143 448.189477 
L 703.757143 449.424575 
L 704.057143 450.864523 
L 704.357143 452.394949 
L 704.657143 453.907669 
L 704.957143 455.347303 
L 705.257143 456.720998 
L 705.557143 458.093647 
L 705.857143 459.399398 
L 706.157143 460.615397 
L 706.457143 461.651018 
L 706.757143 462.543572 
L 707.057143 463.313974 
L 707.357143 464.041854 
L 707.657143 464.812212 
L 707.957143 465.546637 
L 708.257143 466.16927 
L 708.557143 466.751344 
L 708.857143 467.320552 
L 709.157143 467.934006 
L 709.457143 468.801667 
L 709.757143 469.775537 
L 710.057143 470.695739 
L 710.357143 471.800007 
L 710.657143 472.905931 
L 710.957143 473.467748 
L 711.257143 473.827797 
L 711.557143 474.063209 
L 711.857143 474.502564 
L 712.157143 475.112238 
L 712.457143 475.701651 
L 712.757143 476.179606 
L 713.057143 476.543647 
L 713.357143 476.823296 
L 713.657143 477.081728 
L 713.957143 477.362035 
L 714.257143 477.779519 
L 714.557143 478.383323 
L 714.857143 479.061107 
L 715.157143 479.596236 
L 715.457143 479.938416 
L 715.757143 479.948114 
L 716.057143 479.853061 
L 716.357143 479.717239 
L 716.657143 479.68301 
L 716.957143 479.810778 
L 717.257143 480.008263 
L 717.557143 480.318641 
L 717.857143 480.817226 
L 718.157143 481.27159 
L 718.457143 481.638042 
L 718.757143 481.902188 
L 719.057143 482.195441 
L 719.357143 482.697768 
L 719.657143 483.187474 
L 719.957143 483.626573 
L 720.257143 483.982081 
L 720.557143 484.16873 
L 720.857143 484.229682 
L 721.157143 484.411631 
L 721.457143 484.765764 
L 721.757143 485.175244 
L 722.057143 485.78077 
L 722.357143 486.671606 
L 722.657143 487.281655 
L 722.957143 487.750802 
L 723.257143 488.124796 
L 723.557143 488.488006 
L 723.857143 488.863243 
L 724.157143 489.307597 
L 724.457143 489.867627 
L 724.757143 490.646416 
L 725.057143 491.340134 
L 725.357143 491.962897 
L 725.657143 492.550442 
L 725.957143 493.197376 
L 726.257143 493.961869 
L 726.557143 494.709028 
L 726.857143 495.46833 
L 727.157143 496.278853 
L 727.457143 497.148824 
L 727.757143 498.093807 
L 728.057143 499.224801 
L 728.357143 500.347028 
L 728.657143 501.116569 
L 728.957143 501.526863 
L 729.257143 502.085548 
L 729.557143 502.603565 
L 729.857143 502.903001 
L 730.157143 503.043455 
L 730.457143 503.110041 
L 730.757143 503.152231 
L 731.057143 503.188082 
L 731.357143 503.233486 
L 731.657143 503.185493 
L 731.957143 502.896 
L 732.257143 502.051312 
L 732.557143 501.173239 
L 732.857143 500.255113 
L 733.157143 499.231265 
L 733.457143 498.249622 
L 733.757143 497.579548 
L 734.057143 497.144298 
L 734.357143 496.819998 
L 734.657143 496.577193 
L 734.957143 496.209243 
L 735.257143 495.687906 
L 735.557143 495.202517 
L 735.857143 494.818808 
L 736.157143 494.608824 
L 736.457143 494.754612 
L 736.757143 495.209429 
L 737.057143 495.649821 
L 737.357143 495.893745 
L 737.657143 495.731405 
L 737.957143 495.390121 
L 738.257143 494.80185 
L 738.557143 494.036355 
L 738.857143 493.12821 
L 739.157143 492.245633 
L 739.457143 491.281486 
L 739.757143 490.215903 
L 740.057143 489.123537 
L 740.357143 487.953795 
L 740.657143 486.643662 
L 740.957143 485.317075 
L 741.257143 483.906107 
L 741.557143 481.799031 
L 741.857143 479.572476 
L 742.157143 478.154095 
L 742.457143 476.895827 
L 742.757143 475.563718 
L 743.057143 474.350735 
L 743.357143 473.261348 
L 743.657143 472.357062 
L 743.957143 471.464997 
L 744.257143 470.37678 
L 744.557143 469.21262 
L 744.857143 468.023517 
L 745.157143 466.667304 
L 745.457143 465.225968 
L 745.757143 463.908184 
L 746.057143 462.595335 
L 746.357143 461.273701 
L 746.657143 460.104972 
L 746.957143 458.998469 
L 747.257143 457.873469 
L 747.557143 456.748469 
L 747.857143 455.623469 
L 748.157143 454.476158 
L 748.457143 453.404308 
L 748.757143 452.475903 
L 749.057143 451.544388 
L 749.357143 450.606888 
L 749.657143 449.699789 
L 749.957143 448.663426 
L 750.257143 447.393645 
L 750.557143 446.126742 
L 750.857143 445.002606 
L 751.157143 444.184541 
L 751.457143 443.632816 
L 751.757143 443.271234 
L 752.057143 443.154082 
L 752.357143 443.121292 
L 752.657143 443.200429 
L 752.957143 443.291383 
L 753.257143 443.362668 
L 753.557143 443.219298 
L 753.857143 442.880276 
L 754.157143 442.254668 
L 754.457143 441.546122 
L 754.757143 440.776521 
L 755.057143 440.01709 
L 755.357143 439.276748 
L 755.657143 438.576952 
L 755.957143 438.233683 
L 756.257143 438.011032 
L 756.557143 437.837922 
L 756.857143 437.564082 
L 757.157143 437.158496 
L 757.457143 436.945566 
L 757.757143 436.770032 
L 758.057143 436.581611 
L 758.357143 436.389518 
L 758.657143 436.214092 
L 758.957143 436.112137 
L 759.257143 436.0836 
L 759.557143 436.198174 
L 759.857143 436.412285 
L 760.157143 436.744864 
L 760.457143 437.044898 
L 760.757143 437.341414 
L 761.057143 437.63323 
L 761.357143 438.025616 
L 761.657143 438.505527 
L 761.957143 439.049349 
L 762.257143 439.51149 
L 762.557143 439.876536 
L 762.857143 440.167362 
L 763.157143 440.400086 
L 763.457143 440.560475 
L 763.757143 440.972272 
L 764.057143 441.822843 
L 764.357143 442.851254 
L 764.657143 443.810179 
L 764.957143 444.85177 
L 765.257143 445.994738 
L 765.557143 447.14705 
L 765.857143 448.217451 
L 766.157143 449.127369 
L 766.457143 449.951429 
L 766.757143 450.67346 
L 767.057143 451.17048 
L 767.357143 451.684999 
L 767.657143 452.338372 
L 767.957143 453.031412 
L 768.257143 453.53193 
L 768.557143 453.63061 
L 768.857143 453.629258 
L 769.157143 453.457164 
L 769.457143 453.038388 
L 769.757143 452.199055 
L 770.057143 451.252533 
L 770.357143 450.671159 
L 770.657143 450.343582 
L 770.957143 450.301141 
L 771.257143 450.436359 
L 771.557143 450.788146 
L 771.857143 451.293846 
L 772.157143 451.762816 
L 772.457143 452.159608 
L 772.757143 452.423271 
L 773.057143 452.379417 
L 773.357143 452.228084 
L 773.657143 451.697567 
L 773.957143 451.112151 
L 774.257143 450.435189 
L 774.557143 449.601398 
L 774.857143 448.661779 
L 775.157143 447.637704 
L 775.457143 446.630616 
L 775.757143 446.228632 
L 776.057143 446.099194 
L 776.357143 446.05782 
L 776.657143 446.120992 
L 776.957143 446.263602 
L 777.257143 446.557037 
L 777.557143 446.987174 
L 777.857143 447.220408 
L 778.157143 447.220408 
L 778.457143 447.099658 
L 778.757143 446.7936 
L 779.057143 446.907218 
L 779.357143 447.084985 
L 779.657143 447.243102 
L 779.957143 447.350195 
L 780.257143 447.403982 
L 780.557143 447.348767 
L 780.857143 447.181462 
L 781.157143 446.714109 
L 781.457143 446.235014 
L 781.757143 445.745351 
L 782.057143 445.28629 
L 782.357143 444.878003 
L 782.657143 444.510935 
L 782.957143 444.136224 
L 783.257143 443.761224 
L 783.557143 443.386224 
L 783.857143 443.005246 
L 784.157143 442.635395 
L 784.457143 442.287151 
L 784.757143 442.098719 
L 785.057143 442.021314 
L 785.357143 442.06378 
L 785.657143 442.317232 
L 785.957143 442.925476 
L 786.257143 443.559101 
L 786.557143 443.802427 
L 786.857143 443.833929 
L 787.157143 443.736921 
L 787.457143 443.730612 
L 787.757143 443.734198 
L 788.057143 443.886612 
L 788.357143 444.057522 
L 788.657143 444.207279 
L 788.957143 444.285463 
L 789.257143 444.372306 
L 789.557143 444.537353 
L 789.857143 444.650415 
L 790.157143 444.710172 
L 790.457143 444.685224 
L 790.757143 444.615306 
L 791.057143 444.416599 
L 791.357143 444.069391 
L 791.657143 443.568125 
L 791.957143 443.035515 
L 792.257143 442.527383 
L 792.557143 442.076644 
L 792.857143 441.808163 
L 793.157143 441.616171 
L 793.457143 441.456943 
L 793.757143 441.347469 
L 794.057143 441.282133 
L 794.357143 441.331676 
L 794.657143 441.435153 
L 794.957143 441.583278 
L 795.257143 441.803303 
L 795.557143 442.147375 
L 795.857143 442.781801 
L 796.157143 443.525505 
L 796.457143 444.287385 
L 796.757143 444.98275 
L 797.057143 445.650337 
L 797.357143 446.334575 
L 797.657143 446.980552 
L 797.957143 447.573864 
L 798.257143 448.039727 
L 798.557143 448.495862 
L 798.857143 449.032712 
L 799.157143 449.527778 
L 799.457143 449.960669 
L 799.757143 450.273058 
L 800.057143 450.563265 
L 800.357143 450.863265 
L 800.657143 451.153091 
L 800.957143 451.467344 
L 801.257143 451.910749 
L 801.557143 452.372449 
L 801.857143 452.822449 
L 802.157143 453.24873 
L 802.457143 453.746288 
L 802.757143 454.512179 
L 803.057143 455.602962 
L 803.357143 457.073462 
L 803.657143 458.764306 
L 803.957143 460.58116 
L 804.257143 462.613319 
L 804.557143 464.865268 
L 804.857143 467.127644 
L 805.157143 469.340735 
L 805.457143 471.388865 
L 805.757143 473.167855 
L 806.057143 474.65657 
L 806.357143 476.006232 
L 806.657143 477.26683 
L 806.957143 478.45629 
L 807.257143 479.686393 
L 807.557143 480.917903 
L 807.857143 482.049524 
L 808.157143 483.161899 
L 808.457143 484.279396 
L 808.757143 485.540183 
L 809.057143 486.784976 
L 809.357143 487.793756 
L 809.657143 488.811745 
L 809.957143 489.866109 
L 810.257143 490.920407 
L 810.557143 491.964997 
L 810.857143 493.006439 
L 811.157143 493.862735 
L 811.457143 494.580022 
L 811.757143 495.182952 
L 812.057143 495.958886 
L 812.357143 497.193833 
L 812.657143 498.715851 
L 812.957143 500.088116 
L 813.257143 501.443633 
L 813.557143 502.566456 
L 813.857143 503.283162 
L 814.157143 503.673137 
L 814.457143 503.924515 
L 814.757143 504.091175 
L 815.057143 504.168082 
L 815.357143 504.258554 
L 815.657143 504.424163 
L 815.957143 504.533868 
L 816.257143 504.587358 
L 816.557143 504.397874 
L 816.857143 504.081696 
L 817.157143 503.679187 
L 817.457143 503.378137 
L 817.757143 503.240816 
L 818.057143 503.240816 
L 818.357143 503.269216 
L 818.657143 503.361302 
L 818.957143 503.316981 
L 819.257143 503.211367 
L 819.557143 503.04632 
L 819.857143 502.949402 
L 820.157143 502.87574 
L 820.457143 502.660114 
L 820.757143 502.448595 
L 821.057143 502.306085 
L 821.357143 502.146653 
L 821.657143 501.931022 
L 821.957143 501.439122 
L 822.257143 500.964887 
L 822.557143 500.591669 
L 822.857143 500.380758 
L 823.157143 500.308808 
L 823.457143 500.477964 
L 823.757143 500.603552 
L 824.057143 500.668888 
L 824.357143 500.311343 
L 824.657143 499.507989 
L 824.957143 498.243345 
L 825.257143 496.686702 
L 825.557143 495.191401 
L 825.857143 493.81793 
L 826.157143 492.690897 
L 826.457143 491.694235 
L 826.757143 490.777706 
L 827.057143 489.760309 
L 827.357143 488.608883 
L 827.657143 487.325501 
L 827.957143 485.994643 
L 828.257143 484.682143 
L 828.557143 483.360818 
L 828.857143 482.057143 
L 829.157143 480.811599 
L 829.457143 479.735613 
L 829.757143 478.880075 
L 830.057143 478.022068 
L 830.357143 476.918822 
L 830.657143 475.535532 
L 830.957143 474.085498 
L 831.257143 472.568466 
L 831.557143 471.067347 
L 831.857143 469.565115 
L 832.157143 468.044037 
L 832.457143 466.645725 
L 832.757143 465.358463 
L 833.057143 464.150226 
L 833.357143 462.94747 
L 833.657143 461.707117 
L 833.957143 460.480164 
L 834.257143 459.228211 
L 834.557143 457.880903 
L 834.857143 456.372147 
L 835.157143 454.659266 
L 835.457143 452.828237 
L 835.757143 450.932143 
L 836.057143 449.057143 
L 836.357143 447.182143 
L 836.657143 445.307143 
L 836.957143 443.410615 
L 837.257143 441.584247 
L 837.557143 439.886946 
L 837.857143 438.29863 
L 838.157143 436.839628 
L 838.457143 435.588526 
L 838.757143 434.433794 
L 839.057143 433.30584 
L 839.357143 432.209615 
L 839.657143 431.127271 
L 839.957143 430.049854 
L 840.257143 428.966987 
L 840.557143 427.847359 
L 840.857143 426.596628 
L 841.157143 425.224671 
L 841.457143 423.719156 
L 841.757143 422.164745 
L 842.057143 420.833741 
L 842.357143 419.898326 
L 842.657143 419.24682 
L 842.957143 418.716996 
L 843.257143 418.199349 
L 843.557143 417.445104 
L 843.857143 416.247402 
L 844.157143 414.960695 
L 844.457143 413.645968 
L 844.757143 412.385989 
L 845.057143 411.435557 
L 845.357143 410.730616 
L 845.657143 410.220568 
L 845.957143 409.731711 
L 846.257143 409.164308 
L 846.557143 408.578119 
L 846.857143 408.036735 
L 847.157143 407.640929 
L 847.457143 407.434134 
L 847.757143 407.327222 
L 848.057143 407.302041 
L 848.357143 407.302041 
L 848.657143 407.308569 
L 848.957143 407.386605 
L 849.257143 407.420658 
L 849.557143 407.355234 
L 849.857143 407.293714 
L 850.157143 407.255156 
L 850.457143 407.241262 
L 850.757143 407.261997 
L 851.057143 407.311015 
L 851.357143 407.531999 
L 851.657143 408.161454 
L 851.957143 409.344666 
L 852.183673 410.057143 
" clip-path="url(#p6025a206c1)" style="fill: none; stroke: #ff0000; stroke-width: 1.5; stroke-linecap: square"/>
   </g>
   <g id="patch_13">
    <path d="M 85.32000 531.00000 L 85.32000 391.56000" style="fill: none; stroke: #000000; stroke-width: 0.8; stroke-linejoin: miter; stroke-linecap: square"/>
   </g>
   <g id="patch_14">
    <path d="M 852.60000 531.00000 L 852.60000 391.56000" style="fill: none; stroke: #000000; stroke-width: 0.8; stroke-linejoin: miter; stroke-linecap: square"/>
   </g>
   <g id="patch_15">
    <path d="M 85.32000 531.00000 L 852.60000 531.00000" style="fill: none; stroke: #000000; stroke-width: 0.8; stroke-linejoin: miter; stroke-linecap: square"/>
   </g>
   <g id="patch_16">
    <path d="M 85.32000 391.56000 L 852.60000 391.56000" style="fill: none; stroke: #000000; stroke-width: 0.8; stroke-linejoin: miter; stroke-linecap: square"/>
   </g>
  </g>
 </g>
 <defs>
  <clipPath id="p0c01dea0d3">
   <rect x="85.26" y="19.572" width="767.22" height="139.584"/>
  </clipPath>
  <clipPath id="p9f6015d6d9">
   <rect x="85.26" y="205.452" width="767.22" height="139.584"/>
  </clipPath>
  <clipPath id="p6025a206c1">
   <rect x="85.26" y="391.344" width="767.22" height="139.584"/>
  </clipPath>
 </defs>
</svg>

</body></html>
